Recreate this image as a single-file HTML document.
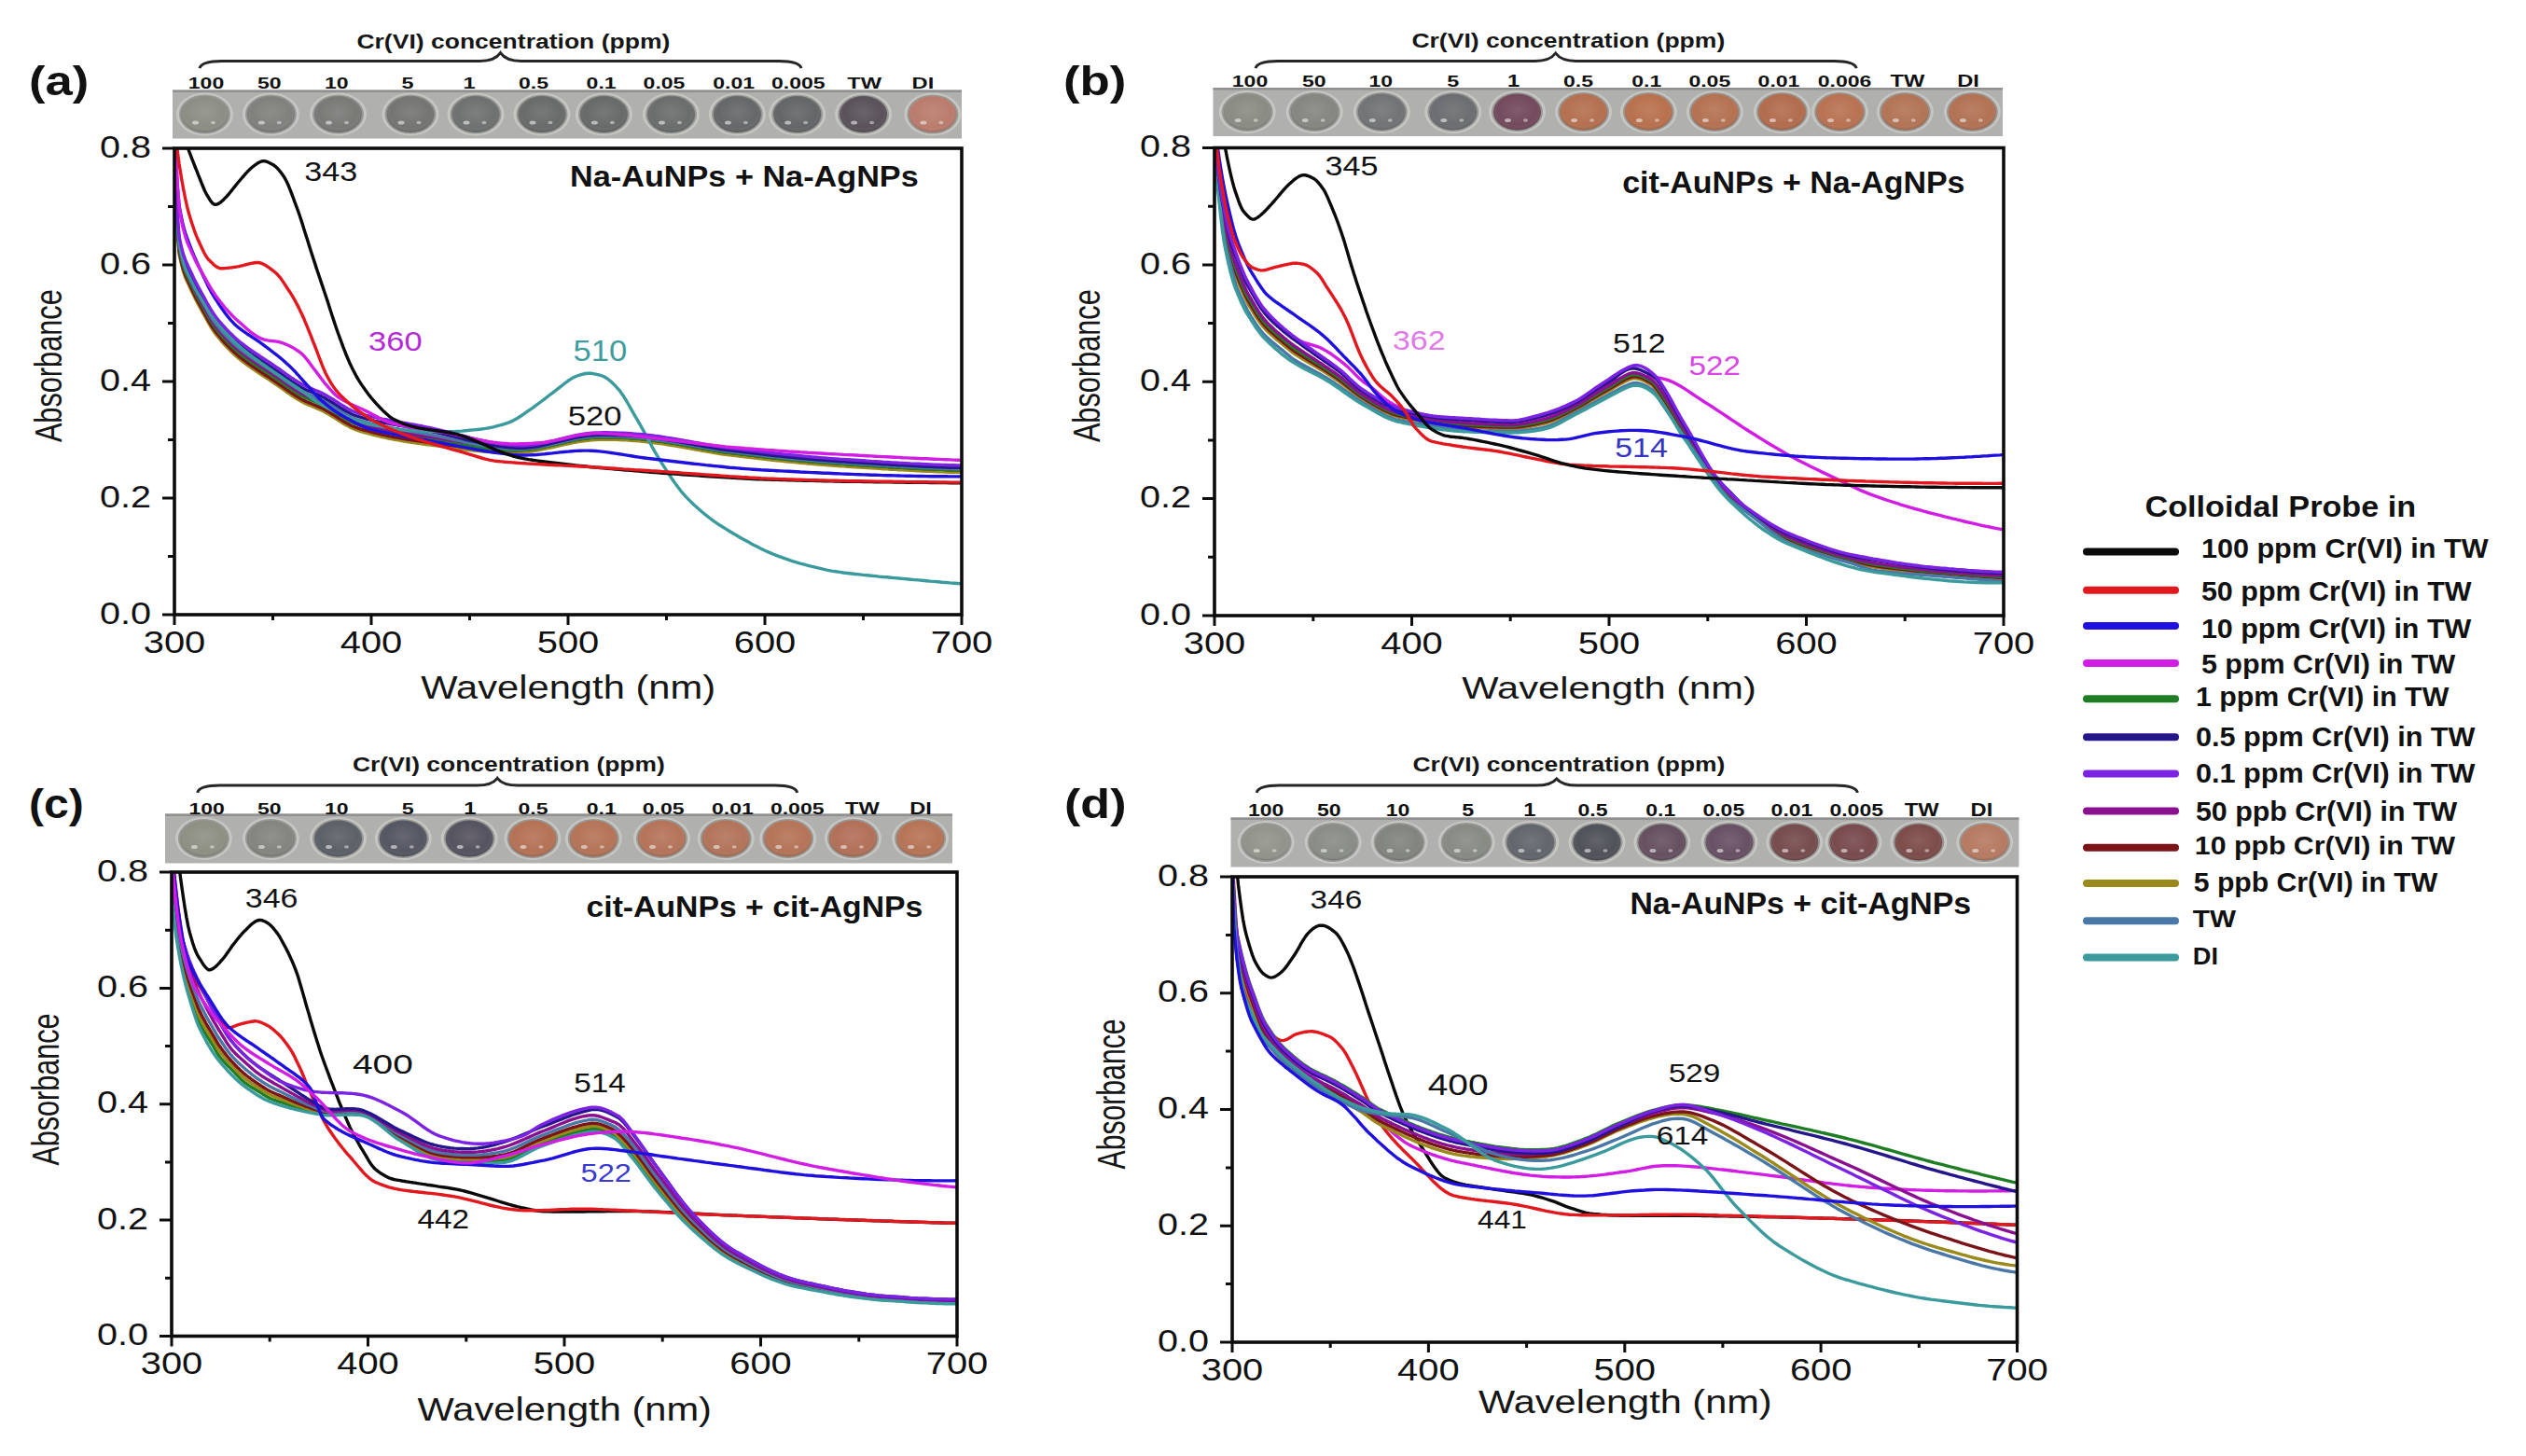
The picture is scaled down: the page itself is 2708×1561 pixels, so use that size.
<!DOCTYPE html>
<html><head><meta charset="utf-8"><title>Figure</title>
<style>
html,body{margin:0;padding:0;background:#fff;width:2708px;height:1561px;overflow:hidden}
svg{display:block}
text{font-family:"Liberation Sans",sans-serif}
</style></head><body>
<svg width="2708" height="1561" viewBox="0 0 2708 1561">
<rect width="2708" height="1561" fill="#fff"/>
<defs><radialGradient id="wg" cx="50%" cy="45%" r="55%"><stop offset="0" stop-color="#fff" stop-opacity="0.10"/><stop offset="0.75" stop-color="#fff" stop-opacity="0"/><stop offset="1" stop-color="#000" stop-opacity="0.18"/></radialGradient></defs>
<rect x="185" y="96.5" width="846.0" height="52.0" fill="#b0b0ae"/>
<rect x="185" y="96.5" width="846.0" height="2.5" fill="#909090"/>
<ellipse cx="219.5" cy="122.5" rx="30.5" ry="23" fill="#c6c6c3"/>
<ellipse cx="219.5" cy="122.5" rx="27.5" ry="21" fill="#989996"/>
<ellipse cx="219.5" cy="122.5" rx="25.5" ry="19.5" fill="#8c8d84"/>
<ellipse cx="219.5" cy="122.5" rx="25.5" ry="19.5" fill="url(#wg)"/>
<ellipse cx="209.5" cy="131.5" rx="3.5" ry="2" fill="#f0f0f0" opacity="0.6"/>
<ellipse cx="228.5" cy="131.5" rx="2.5" ry="1.8" fill="#f0f0f0" opacity="0.5"/>
<ellipse cx="290.4" cy="122.5" rx="30.5" ry="23" fill="#c6c6c3"/>
<ellipse cx="290.4" cy="122.5" rx="27.5" ry="21" fill="#989996"/>
<ellipse cx="290.4" cy="122.5" rx="25.5" ry="19.5" fill="#80817c"/>
<ellipse cx="290.4" cy="122.5" rx="25.5" ry="19.5" fill="url(#wg)"/>
<ellipse cx="280.4" cy="131.5" rx="3.5" ry="2" fill="#f0f0f0" opacity="0.6"/>
<ellipse cx="299.4" cy="131.5" rx="2.5" ry="1.8" fill="#f0f0f0" opacity="0.5"/>
<ellipse cx="362.5" cy="122.5" rx="30.5" ry="23" fill="#c6c6c3"/>
<ellipse cx="362.5" cy="122.5" rx="27.5" ry="21" fill="#989996"/>
<ellipse cx="362.5" cy="122.5" rx="25.5" ry="19.5" fill="#797a76"/>
<ellipse cx="362.5" cy="122.5" rx="25.5" ry="19.5" fill="url(#wg)"/>
<ellipse cx="352.5" cy="131.5" rx="3.5" ry="2" fill="#f0f0f0" opacity="0.6"/>
<ellipse cx="371.5" cy="131.5" rx="2.5" ry="1.8" fill="#f0f0f0" opacity="0.5"/>
<ellipse cx="440" cy="122.5" rx="30.5" ry="23" fill="#c6c6c3"/>
<ellipse cx="440" cy="122.5" rx="27.5" ry="21" fill="#989996"/>
<ellipse cx="440" cy="122.5" rx="25.5" ry="19.5" fill="#747573"/>
<ellipse cx="440" cy="122.5" rx="25.5" ry="19.5" fill="url(#wg)"/>
<ellipse cx="430" cy="131.5" rx="3.5" ry="2" fill="#f0f0f0" opacity="0.6"/>
<ellipse cx="449" cy="131.5" rx="2.5" ry="1.8" fill="#f0f0f0" opacity="0.5"/>
<ellipse cx="510" cy="122.5" rx="30.5" ry="23" fill="#c6c6c3"/>
<ellipse cx="510" cy="122.5" rx="27.5" ry="21" fill="#989996"/>
<ellipse cx="510" cy="122.5" rx="25.5" ry="19.5" fill="#6f7171"/>
<ellipse cx="510" cy="122.5" rx="25.5" ry="19.5" fill="url(#wg)"/>
<ellipse cx="500" cy="131.5" rx="3.5" ry="2" fill="#f0f0f0" opacity="0.6"/>
<ellipse cx="519" cy="131.5" rx="2.5" ry="1.8" fill="#f0f0f0" opacity="0.5"/>
<ellipse cx="581" cy="122.5" rx="30.5" ry="23" fill="#c6c6c3"/>
<ellipse cx="581" cy="122.5" rx="27.5" ry="21" fill="#989996"/>
<ellipse cx="581" cy="122.5" rx="25.5" ry="19.5" fill="#696b6b"/>
<ellipse cx="581" cy="122.5" rx="25.5" ry="19.5" fill="url(#wg)"/>
<ellipse cx="571" cy="131.5" rx="3.5" ry="2" fill="#f0f0f0" opacity="0.6"/>
<ellipse cx="590" cy="131.5" rx="2.5" ry="1.8" fill="#f0f0f0" opacity="0.5"/>
<ellipse cx="647.4" cy="122.5" rx="30.5" ry="23" fill="#c6c6c3"/>
<ellipse cx="647.4" cy="122.5" rx="27.5" ry="21" fill="#989996"/>
<ellipse cx="647.4" cy="122.5" rx="25.5" ry="19.5" fill="#686a6a"/>
<ellipse cx="647.4" cy="122.5" rx="25.5" ry="19.5" fill="url(#wg)"/>
<ellipse cx="637.4" cy="131.5" rx="3.5" ry="2" fill="#f0f0f0" opacity="0.6"/>
<ellipse cx="656.4" cy="131.5" rx="2.5" ry="1.8" fill="#f0f0f0" opacity="0.5"/>
<ellipse cx="719.5" cy="122.5" rx="30.5" ry="23" fill="#c6c6c3"/>
<ellipse cx="719.5" cy="122.5" rx="27.5" ry="21" fill="#989996"/>
<ellipse cx="719.5" cy="122.5" rx="25.5" ry="19.5" fill="#6b6d6d"/>
<ellipse cx="719.5" cy="122.5" rx="25.5" ry="19.5" fill="url(#wg)"/>
<ellipse cx="709.5" cy="131.5" rx="3.5" ry="2" fill="#f0f0f0" opacity="0.6"/>
<ellipse cx="728.5" cy="131.5" rx="2.5" ry="1.8" fill="#f0f0f0" opacity="0.5"/>
<ellipse cx="790.4" cy="122.5" rx="30.5" ry="23" fill="#c6c6c3"/>
<ellipse cx="790.4" cy="122.5" rx="27.5" ry="21" fill="#989996"/>
<ellipse cx="790.4" cy="122.5" rx="25.5" ry="19.5" fill="#656768"/>
<ellipse cx="790.4" cy="122.5" rx="25.5" ry="19.5" fill="url(#wg)"/>
<ellipse cx="780.4" cy="131.5" rx="3.5" ry="2" fill="#f0f0f0" opacity="0.6"/>
<ellipse cx="799.4" cy="131.5" rx="2.5" ry="1.8" fill="#f0f0f0" opacity="0.5"/>
<ellipse cx="854.7" cy="122.5" rx="30.5" ry="23" fill="#c6c6c3"/>
<ellipse cx="854.7" cy="122.5" rx="27.5" ry="21" fill="#989996"/>
<ellipse cx="854.7" cy="122.5" rx="25.5" ry="19.5" fill="#636567"/>
<ellipse cx="854.7" cy="122.5" rx="25.5" ry="19.5" fill="url(#wg)"/>
<ellipse cx="844.7" cy="131.5" rx="3.5" ry="2" fill="#f0f0f0" opacity="0.6"/>
<ellipse cx="863.7" cy="131.5" rx="2.5" ry="1.8" fill="#f0f0f0" opacity="0.5"/>
<ellipse cx="925.6" cy="122.5" rx="30.5" ry="23" fill="#c6c6c3"/>
<ellipse cx="925.6" cy="122.5" rx="27.5" ry="21" fill="#989996"/>
<ellipse cx="925.6" cy="122.5" rx="25.5" ry="19.5" fill="#5a525a"/>
<ellipse cx="925.6" cy="122.5" rx="25.5" ry="19.5" fill="url(#wg)"/>
<ellipse cx="915.6" cy="131.5" rx="3.5" ry="2" fill="#f0f0f0" opacity="0.6"/>
<ellipse cx="934.6" cy="131.5" rx="2.5" ry="1.8" fill="#f0f0f0" opacity="0.5"/>
<ellipse cx="999.9" cy="122.5" rx="30.5" ry="23" fill="#c6c6c3"/>
<ellipse cx="999.9" cy="122.5" rx="27.5" ry="21" fill="#989996"/>
<ellipse cx="999.9" cy="122.5" rx="25.5" ry="19.5" fill="#ba7c6c"/>
<ellipse cx="999.9" cy="122.5" rx="25.5" ry="19.5" fill="url(#wg)"/>
<ellipse cx="989.9" cy="131.5" rx="3.5" ry="2" fill="#f0f0f0" opacity="0.6"/>
<ellipse cx="1008.9" cy="131.5" rx="2.5" ry="1.8" fill="#f0f0f0" opacity="0.5"/>
<rect x="1300.5" y="94" width="846.5" height="52.0" fill="#b0b0ae"/>
<rect x="1300.5" y="94" width="846.5" height="2.5" fill="#909090"/>
<ellipse cx="1337.2" cy="120.0" rx="30.5" ry="23" fill="#c6c6c3"/>
<ellipse cx="1337.2" cy="120.0" rx="27.5" ry="21" fill="#989996"/>
<ellipse cx="1337.2" cy="120.0" rx="25.5" ry="19.5" fill="#8a8c84"/>
<ellipse cx="1337.2" cy="120.0" rx="25.5" ry="19.5" fill="url(#wg)"/>
<ellipse cx="1327.2" cy="129.0" rx="3.5" ry="2" fill="#f0f0f0" opacity="0.6"/>
<ellipse cx="1346.2" cy="129.0" rx="2.5" ry="1.8" fill="#f0f0f0" opacity="0.5"/>
<ellipse cx="1409.2" cy="120.0" rx="30.5" ry="23" fill="#c6c6c3"/>
<ellipse cx="1409.2" cy="120.0" rx="27.5" ry="21" fill="#989996"/>
<ellipse cx="1409.2" cy="120.0" rx="25.5" ry="19.5" fill="#84867f"/>
<ellipse cx="1409.2" cy="120.0" rx="25.5" ry="19.5" fill="url(#wg)"/>
<ellipse cx="1399.2" cy="129.0" rx="3.5" ry="2" fill="#f0f0f0" opacity="0.6"/>
<ellipse cx="1418.2" cy="129.0" rx="2.5" ry="1.8" fill="#f0f0f0" opacity="0.5"/>
<ellipse cx="1481.3" cy="120.0" rx="30.5" ry="23" fill="#c6c6c3"/>
<ellipse cx="1481.3" cy="120.0" rx="27.5" ry="21" fill="#989996"/>
<ellipse cx="1481.3" cy="120.0" rx="25.5" ry="19.5" fill="#717374"/>
<ellipse cx="1481.3" cy="120.0" rx="25.5" ry="19.5" fill="url(#wg)"/>
<ellipse cx="1471.3" cy="129.0" rx="3.5" ry="2" fill="#f0f0f0" opacity="0.6"/>
<ellipse cx="1490.3" cy="129.0" rx="2.5" ry="1.8" fill="#f0f0f0" opacity="0.5"/>
<ellipse cx="1557.8" cy="120.0" rx="30.5" ry="23" fill="#c6c6c3"/>
<ellipse cx="1557.8" cy="120.0" rx="27.5" ry="21" fill="#989996"/>
<ellipse cx="1557.8" cy="120.0" rx="25.5" ry="19.5" fill="#6b6d70"/>
<ellipse cx="1557.8" cy="120.0" rx="25.5" ry="19.5" fill="url(#wg)"/>
<ellipse cx="1547.8" cy="129.0" rx="3.5" ry="2" fill="#f0f0f0" opacity="0.6"/>
<ellipse cx="1566.8" cy="129.0" rx="2.5" ry="1.8" fill="#f0f0f0" opacity="0.5"/>
<ellipse cx="1626.5" cy="120.0" rx="30.5" ry="23" fill="#c6c6c3"/>
<ellipse cx="1626.5" cy="120.0" rx="27.5" ry="21" fill="#989996"/>
<ellipse cx="1626.5" cy="120.0" rx="25.5" ry="19.5" fill="#724a5c"/>
<ellipse cx="1626.5" cy="120.0" rx="25.5" ry="19.5" fill="url(#wg)"/>
<ellipse cx="1616.5" cy="129.0" rx="3.5" ry="2" fill="#f0f0f0" opacity="0.6"/>
<ellipse cx="1635.5" cy="129.0" rx="2.5" ry="1.8" fill="#f0f0f0" opacity="0.5"/>
<ellipse cx="1697.6" cy="120.0" rx="30.5" ry="23" fill="#c6c6c3"/>
<ellipse cx="1697.6" cy="120.0" rx="27.5" ry="21" fill="#989996"/>
<ellipse cx="1697.6" cy="120.0" rx="25.5" ry="19.5" fill="#b47050"/>
<ellipse cx="1697.6" cy="120.0" rx="25.5" ry="19.5" fill="url(#wg)"/>
<ellipse cx="1687.6" cy="129.0" rx="3.5" ry="2" fill="#f0f0f0" opacity="0.6"/>
<ellipse cx="1706.6" cy="129.0" rx="2.5" ry="1.8" fill="#f0f0f0" opacity="0.5"/>
<ellipse cx="1767.4" cy="120.0" rx="30.5" ry="23" fill="#c6c6c3"/>
<ellipse cx="1767.4" cy="120.0" rx="27.5" ry="21" fill="#989996"/>
<ellipse cx="1767.4" cy="120.0" rx="25.5" ry="19.5" fill="#b8714e"/>
<ellipse cx="1767.4" cy="120.0" rx="25.5" ry="19.5" fill="url(#wg)"/>
<ellipse cx="1757.4" cy="129.0" rx="3.5" ry="2" fill="#f0f0f0" opacity="0.6"/>
<ellipse cx="1776.4" cy="129.0" rx="2.5" ry="1.8" fill="#f0f0f0" opacity="0.5"/>
<ellipse cx="1838.4" cy="120.0" rx="30.5" ry="23" fill="#c6c6c3"/>
<ellipse cx="1838.4" cy="120.0" rx="27.5" ry="21" fill="#989996"/>
<ellipse cx="1838.4" cy="120.0" rx="25.5" ry="19.5" fill="#b47252"/>
<ellipse cx="1838.4" cy="120.0" rx="25.5" ry="19.5" fill="url(#wg)"/>
<ellipse cx="1828.4" cy="129.0" rx="3.5" ry="2" fill="#f0f0f0" opacity="0.6"/>
<ellipse cx="1847.4" cy="129.0" rx="2.5" ry="1.8" fill="#f0f0f0" opacity="0.5"/>
<ellipse cx="1910.4" cy="120.0" rx="30.5" ry="23" fill="#c6c6c3"/>
<ellipse cx="1910.4" cy="120.0" rx="27.5" ry="21" fill="#989996"/>
<ellipse cx="1910.4" cy="120.0" rx="25.5" ry="19.5" fill="#b26c4e"/>
<ellipse cx="1910.4" cy="120.0" rx="25.5" ry="19.5" fill="url(#wg)"/>
<ellipse cx="1900.4" cy="129.0" rx="3.5" ry="2" fill="#f0f0f0" opacity="0.6"/>
<ellipse cx="1919.4" cy="129.0" rx="2.5" ry="1.8" fill="#f0f0f0" opacity="0.5"/>
<ellipse cx="1972.5" cy="120.0" rx="30.5" ry="23" fill="#c6c6c3"/>
<ellipse cx="1972.5" cy="120.0" rx="27.5" ry="21" fill="#989996"/>
<ellipse cx="1972.5" cy="120.0" rx="25.5" ry="19.5" fill="#b87252"/>
<ellipse cx="1972.5" cy="120.0" rx="25.5" ry="19.5" fill="url(#wg)"/>
<ellipse cx="1962.5" cy="129.0" rx="3.5" ry="2" fill="#f0f0f0" opacity="0.6"/>
<ellipse cx="1981.5" cy="129.0" rx="2.5" ry="1.8" fill="#f0f0f0" opacity="0.5"/>
<ellipse cx="2042.3" cy="120.0" rx="30.5" ry="23" fill="#c6c6c3"/>
<ellipse cx="2042.3" cy="120.0" rx="27.5" ry="21" fill="#989996"/>
<ellipse cx="2042.3" cy="120.0" rx="25.5" ry="19.5" fill="#b27456"/>
<ellipse cx="2042.3" cy="120.0" rx="25.5" ry="19.5" fill="url(#wg)"/>
<ellipse cx="2032.3" cy="129.0" rx="3.5" ry="2" fill="#f0f0f0" opacity="0.6"/>
<ellipse cx="2051.3" cy="129.0" rx="2.5" ry="1.8" fill="#f0f0f0" opacity="0.5"/>
<ellipse cx="2114.4" cy="120.0" rx="30.5" ry="23" fill="#c6c6c3"/>
<ellipse cx="2114.4" cy="120.0" rx="27.5" ry="21" fill="#989996"/>
<ellipse cx="2114.4" cy="120.0" rx="25.5" ry="19.5" fill="#b27254"/>
<ellipse cx="2114.4" cy="120.0" rx="25.5" ry="19.5" fill="url(#wg)"/>
<ellipse cx="2104.4" cy="129.0" rx="3.5" ry="2" fill="#f0f0f0" opacity="0.6"/>
<ellipse cx="2123.4" cy="129.0" rx="2.5" ry="1.8" fill="#f0f0f0" opacity="0.5"/>
<rect x="177" y="872.5" width="844.0" height="53.0" fill="#b0b0ae"/>
<rect x="177" y="872.5" width="844.0" height="2.5" fill="#909090"/>
<ellipse cx="218.4" cy="899.0" rx="30.5" ry="23" fill="#c6c6c3"/>
<ellipse cx="218.4" cy="899.0" rx="27.5" ry="21" fill="#989996"/>
<ellipse cx="218.4" cy="899.0" rx="25.5" ry="19.5" fill="#8e9084"/>
<ellipse cx="218.4" cy="899.0" rx="25.5" ry="19.5" fill="url(#wg)"/>
<ellipse cx="208.4" cy="908.0" rx="3.5" ry="2" fill="#f0f0f0" opacity="0.6"/>
<ellipse cx="227.4" cy="908.0" rx="2.5" ry="1.8" fill="#f0f0f0" opacity="0.5"/>
<ellipse cx="290.4" cy="899.0" rx="30.5" ry="23" fill="#c6c6c3"/>
<ellipse cx="290.4" cy="899.0" rx="27.5" ry="21" fill="#989996"/>
<ellipse cx="290.4" cy="899.0" rx="25.5" ry="19.5" fill="#84857e"/>
<ellipse cx="290.4" cy="899.0" rx="25.5" ry="19.5" fill="url(#wg)"/>
<ellipse cx="280.4" cy="908.0" rx="3.5" ry="2" fill="#f0f0f0" opacity="0.6"/>
<ellipse cx="299.4" cy="908.0" rx="2.5" ry="1.8" fill="#f0f0f0" opacity="0.5"/>
<ellipse cx="362.5" cy="899.0" rx="30.5" ry="23" fill="#c6c6c3"/>
<ellipse cx="362.5" cy="899.0" rx="27.5" ry="21" fill="#989996"/>
<ellipse cx="362.5" cy="899.0" rx="25.5" ry="19.5" fill="#5c6067"/>
<ellipse cx="362.5" cy="899.0" rx="25.5" ry="19.5" fill="url(#wg)"/>
<ellipse cx="352.5" cy="908.0" rx="3.5" ry="2" fill="#f0f0f0" opacity="0.6"/>
<ellipse cx="371.5" cy="908.0" rx="2.5" ry="1.8" fill="#f0f0f0" opacity="0.5"/>
<ellipse cx="432.3" cy="899.0" rx="30.5" ry="23" fill="#c6c6c3"/>
<ellipse cx="432.3" cy="899.0" rx="27.5" ry="21" fill="#989996"/>
<ellipse cx="432.3" cy="899.0" rx="25.5" ry="19.5" fill="#545662"/>
<ellipse cx="432.3" cy="899.0" rx="25.5" ry="19.5" fill="url(#wg)"/>
<ellipse cx="422.3" cy="908.0" rx="3.5" ry="2" fill="#f0f0f0" opacity="0.6"/>
<ellipse cx="441.3" cy="908.0" rx="2.5" ry="1.8" fill="#f0f0f0" opacity="0.5"/>
<ellipse cx="503.2" cy="899.0" rx="30.5" ry="23" fill="#c6c6c3"/>
<ellipse cx="503.2" cy="899.0" rx="27.5" ry="21" fill="#989996"/>
<ellipse cx="503.2" cy="899.0" rx="25.5" ry="19.5" fill="#565360"/>
<ellipse cx="503.2" cy="899.0" rx="25.5" ry="19.5" fill="url(#wg)"/>
<ellipse cx="493.2" cy="908.0" rx="3.5" ry="2" fill="#f0f0f0" opacity="0.6"/>
<ellipse cx="512.2" cy="908.0" rx="2.5" ry="1.8" fill="#f0f0f0" opacity="0.5"/>
<ellipse cx="571" cy="899.0" rx="30.5" ry="23" fill="#c6c6c3"/>
<ellipse cx="571" cy="899.0" rx="27.5" ry="21" fill="#989996"/>
<ellipse cx="571" cy="899.0" rx="25.5" ry="19.5" fill="#b47256"/>
<ellipse cx="571" cy="899.0" rx="25.5" ry="19.5" fill="url(#wg)"/>
<ellipse cx="561" cy="908.0" rx="3.5" ry="2" fill="#f0f0f0" opacity="0.6"/>
<ellipse cx="580" cy="908.0" rx="2.5" ry="1.8" fill="#f0f0f0" opacity="0.5"/>
<ellipse cx="636.3" cy="899.0" rx="30.5" ry="23" fill="#c6c6c3"/>
<ellipse cx="636.3" cy="899.0" rx="27.5" ry="21" fill="#989996"/>
<ellipse cx="636.3" cy="899.0" rx="25.5" ry="19.5" fill="#b47458"/>
<ellipse cx="636.3" cy="899.0" rx="25.5" ry="19.5" fill="url(#wg)"/>
<ellipse cx="626.3" cy="908.0" rx="3.5" ry="2" fill="#f0f0f0" opacity="0.6"/>
<ellipse cx="645.3" cy="908.0" rx="2.5" ry="1.8" fill="#f0f0f0" opacity="0.5"/>
<ellipse cx="709.5" cy="899.0" rx="30.5" ry="23" fill="#c6c6c3"/>
<ellipse cx="709.5" cy="899.0" rx="27.5" ry="21" fill="#989996"/>
<ellipse cx="709.5" cy="899.0" rx="25.5" ry="19.5" fill="#b4745a"/>
<ellipse cx="709.5" cy="899.0" rx="25.5" ry="19.5" fill="url(#wg)"/>
<ellipse cx="699.5" cy="908.0" rx="3.5" ry="2" fill="#f0f0f0" opacity="0.6"/>
<ellipse cx="718.5" cy="908.0" rx="2.5" ry="1.8" fill="#f0f0f0" opacity="0.5"/>
<ellipse cx="778.2" cy="899.0" rx="30.5" ry="23" fill="#c6c6c3"/>
<ellipse cx="778.2" cy="899.0" rx="27.5" ry="21" fill="#989996"/>
<ellipse cx="778.2" cy="899.0" rx="25.5" ry="19.5" fill="#b2745a"/>
<ellipse cx="778.2" cy="899.0" rx="25.5" ry="19.5" fill="url(#wg)"/>
<ellipse cx="768.2" cy="908.0" rx="3.5" ry="2" fill="#f0f0f0" opacity="0.6"/>
<ellipse cx="787.2" cy="908.0" rx="2.5" ry="1.8" fill="#f0f0f0" opacity="0.5"/>
<ellipse cx="844.7" cy="899.0" rx="30.5" ry="23" fill="#c6c6c3"/>
<ellipse cx="844.7" cy="899.0" rx="27.5" ry="21" fill="#989996"/>
<ellipse cx="844.7" cy="899.0" rx="25.5" ry="19.5" fill="#b47458"/>
<ellipse cx="844.7" cy="899.0" rx="25.5" ry="19.5" fill="url(#wg)"/>
<ellipse cx="834.7" cy="908.0" rx="3.5" ry="2" fill="#f0f0f0" opacity="0.6"/>
<ellipse cx="853.7" cy="908.0" rx="2.5" ry="1.8" fill="#f0f0f0" opacity="0.5"/>
<ellipse cx="914.5" cy="899.0" rx="30.5" ry="23" fill="#c6c6c3"/>
<ellipse cx="914.5" cy="899.0" rx="27.5" ry="21" fill="#989996"/>
<ellipse cx="914.5" cy="899.0" rx="25.5" ry="19.5" fill="#b27058"/>
<ellipse cx="914.5" cy="899.0" rx="25.5" ry="19.5" fill="url(#wg)"/>
<ellipse cx="904.5" cy="908.0" rx="3.5" ry="2" fill="#f0f0f0" opacity="0.6"/>
<ellipse cx="923.5" cy="908.0" rx="2.5" ry="1.8" fill="#f0f0f0" opacity="0.5"/>
<ellipse cx="986.6" cy="899.0" rx="30.5" ry="23" fill="#c6c6c3"/>
<ellipse cx="986.6" cy="899.0" rx="27.5" ry="21" fill="#989996"/>
<ellipse cx="986.6" cy="899.0" rx="25.5" ry="19.5" fill="#b67456"/>
<ellipse cx="986.6" cy="899.0" rx="25.5" ry="19.5" fill="url(#wg)"/>
<ellipse cx="976.6" cy="908.0" rx="3.5" ry="2" fill="#f0f0f0" opacity="0.6"/>
<ellipse cx="995.6" cy="908.0" rx="2.5" ry="1.8" fill="#f0f0f0" opacity="0.5"/>
<rect x="1319.5" y="876.5" width="844.9" height="53.1" fill="#b0b0ae"/>
<rect x="1319.5" y="876.5" width="844.9" height="2.5" fill="#909090"/>
<ellipse cx="1357.2" cy="903.0" rx="30.5" ry="23" fill="#c6c6c3"/>
<ellipse cx="1357.2" cy="903.0" rx="27.5" ry="21" fill="#989996"/>
<ellipse cx="1357.2" cy="903.0" rx="25.5" ry="19.5" fill="#92948c"/>
<ellipse cx="1357.2" cy="903.0" rx="25.5" ry="19.5" fill="url(#wg)"/>
<ellipse cx="1347.2" cy="912.0" rx="3.5" ry="2" fill="#f0f0f0" opacity="0.6"/>
<ellipse cx="1366.2" cy="912.0" rx="2.5" ry="1.8" fill="#f0f0f0" opacity="0.5"/>
<ellipse cx="1429.2" cy="903.0" rx="30.5" ry="23" fill="#c6c6c3"/>
<ellipse cx="1429.2" cy="903.0" rx="27.5" ry="21" fill="#989996"/>
<ellipse cx="1429.2" cy="903.0" rx="25.5" ry="19.5" fill="#8a8c86"/>
<ellipse cx="1429.2" cy="903.0" rx="25.5" ry="19.5" fill="url(#wg)"/>
<ellipse cx="1419.2" cy="912.0" rx="3.5" ry="2" fill="#f0f0f0" opacity="0.6"/>
<ellipse cx="1438.2" cy="912.0" rx="2.5" ry="1.8" fill="#f0f0f0" opacity="0.5"/>
<ellipse cx="1500.1" cy="903.0" rx="30.5" ry="23" fill="#c6c6c3"/>
<ellipse cx="1500.1" cy="903.0" rx="27.5" ry="21" fill="#989996"/>
<ellipse cx="1500.1" cy="903.0" rx="25.5" ry="19.5" fill="#82847e"/>
<ellipse cx="1500.1" cy="903.0" rx="25.5" ry="19.5" fill="url(#wg)"/>
<ellipse cx="1490.1" cy="912.0" rx="3.5" ry="2" fill="#f0f0f0" opacity="0.6"/>
<ellipse cx="1509.1" cy="912.0" rx="2.5" ry="1.8" fill="#f0f0f0" opacity="0.5"/>
<ellipse cx="1572.2" cy="903.0" rx="30.5" ry="23" fill="#c6c6c3"/>
<ellipse cx="1572.2" cy="903.0" rx="27.5" ry="21" fill="#989996"/>
<ellipse cx="1572.2" cy="903.0" rx="25.5" ry="19.5" fill="#888b84"/>
<ellipse cx="1572.2" cy="903.0" rx="25.5" ry="19.5" fill="url(#wg)"/>
<ellipse cx="1562.2" cy="912.0" rx="3.5" ry="2" fill="#f0f0f0" opacity="0.6"/>
<ellipse cx="1581.2" cy="912.0" rx="2.5" ry="1.8" fill="#f0f0f0" opacity="0.5"/>
<ellipse cx="1640.9" cy="903.0" rx="30.5" ry="23" fill="#c6c6c3"/>
<ellipse cx="1640.9" cy="903.0" rx="27.5" ry="21" fill="#989996"/>
<ellipse cx="1640.9" cy="903.0" rx="25.5" ry="19.5" fill="#62666c"/>
<ellipse cx="1640.9" cy="903.0" rx="25.5" ry="19.5" fill="url(#wg)"/>
<ellipse cx="1630.9" cy="912.0" rx="3.5" ry="2" fill="#f0f0f0" opacity="0.6"/>
<ellipse cx="1649.9" cy="912.0" rx="2.5" ry="1.8" fill="#f0f0f0" opacity="0.5"/>
<ellipse cx="1712" cy="903.0" rx="30.5" ry="23" fill="#c6c6c3"/>
<ellipse cx="1712" cy="903.0" rx="27.5" ry="21" fill="#989996"/>
<ellipse cx="1712" cy="903.0" rx="25.5" ry="19.5" fill="#50525a"/>
<ellipse cx="1712" cy="903.0" rx="25.5" ry="19.5" fill="url(#wg)"/>
<ellipse cx="1702" cy="912.0" rx="3.5" ry="2" fill="#f0f0f0" opacity="0.6"/>
<ellipse cx="1721" cy="912.0" rx="2.5" ry="1.8" fill="#f0f0f0" opacity="0.5"/>
<ellipse cx="1781.9" cy="903.0" rx="30.5" ry="23" fill="#c6c6c3"/>
<ellipse cx="1781.9" cy="903.0" rx="27.5" ry="21" fill="#989996"/>
<ellipse cx="1781.9" cy="903.0" rx="25.5" ry="19.5" fill="#665060"/>
<ellipse cx="1781.9" cy="903.0" rx="25.5" ry="19.5" fill="url(#wg)"/>
<ellipse cx="1771.9" cy="912.0" rx="3.5" ry="2" fill="#f0f0f0" opacity="0.6"/>
<ellipse cx="1790.9" cy="912.0" rx="2.5" ry="1.8" fill="#f0f0f0" opacity="0.5"/>
<ellipse cx="1854" cy="903.0" rx="30.5" ry="23" fill="#c6c6c3"/>
<ellipse cx="1854" cy="903.0" rx="27.5" ry="21" fill="#989996"/>
<ellipse cx="1854" cy="903.0" rx="25.5" ry="19.5" fill="#685064"/>
<ellipse cx="1854" cy="903.0" rx="25.5" ry="19.5" fill="url(#wg)"/>
<ellipse cx="1844" cy="912.0" rx="3.5" ry="2" fill="#f0f0f0" opacity="0.6"/>
<ellipse cx="1863" cy="912.0" rx="2.5" ry="1.8" fill="#f0f0f0" opacity="0.5"/>
<ellipse cx="1923.8" cy="903.0" rx="30.5" ry="23" fill="#c6c6c3"/>
<ellipse cx="1923.8" cy="903.0" rx="27.5" ry="21" fill="#989996"/>
<ellipse cx="1923.8" cy="903.0" rx="25.5" ry="19.5" fill="#764c4e"/>
<ellipse cx="1923.8" cy="903.0" rx="25.5" ry="19.5" fill="url(#wg)"/>
<ellipse cx="1913.8" cy="912.0" rx="3.5" ry="2" fill="#f0f0f0" opacity="0.6"/>
<ellipse cx="1932.8" cy="912.0" rx="2.5" ry="1.8" fill="#f0f0f0" opacity="0.5"/>
<ellipse cx="1987" cy="903.0" rx="30.5" ry="23" fill="#c6c6c3"/>
<ellipse cx="1987" cy="903.0" rx="27.5" ry="21" fill="#989996"/>
<ellipse cx="1987" cy="903.0" rx="25.5" ry="19.5" fill="#784a4e"/>
<ellipse cx="1987" cy="903.0" rx="25.5" ry="19.5" fill="url(#wg)"/>
<ellipse cx="1977" cy="912.0" rx="3.5" ry="2" fill="#f0f0f0" opacity="0.6"/>
<ellipse cx="1996" cy="912.0" rx="2.5" ry="1.8" fill="#f0f0f0" opacity="0.5"/>
<ellipse cx="2056.8" cy="903.0" rx="30.5" ry="23" fill="#c6c6c3"/>
<ellipse cx="2056.8" cy="903.0" rx="27.5" ry="21" fill="#989996"/>
<ellipse cx="2056.8" cy="903.0" rx="25.5" ry="19.5" fill="#7c4c4a"/>
<ellipse cx="2056.8" cy="903.0" rx="25.5" ry="19.5" fill="url(#wg)"/>
<ellipse cx="2046.8000000000002" cy="912.0" rx="3.5" ry="2" fill="#f0f0f0" opacity="0.6"/>
<ellipse cx="2065.8" cy="912.0" rx="2.5" ry="1.8" fill="#f0f0f0" opacity="0.5"/>
<ellipse cx="2127.7" cy="903.0" rx="30.5" ry="23" fill="#c6c6c3"/>
<ellipse cx="2127.7" cy="903.0" rx="27.5" ry="21" fill="#989996"/>
<ellipse cx="2127.7" cy="903.0" rx="25.5" ry="19.5" fill="#b67a62"/>
<ellipse cx="2127.7" cy="903.0" rx="25.5" ry="19.5" fill="url(#wg)"/>
<ellipse cx="2117.7" cy="912.0" rx="3.5" ry="2" fill="#f0f0f0" opacity="0.6"/>
<ellipse cx="2136.7" cy="912.0" rx="2.5" ry="1.8" fill="#f0f0f0" opacity="0.5"/>
<text transform="translate(201.80,95.24) scale(1.4684,1)" font-size="15.68" font-weight="bold" fill="#111">100</text>
<text transform="translate(276.00,95.24) scale(1.4684,1)" font-size="15.68" font-weight="bold" fill="#111">50</text>
<text transform="translate(348.00,95.24) scale(1.4684,1)" font-size="15.68" font-weight="bold" fill="#111">10</text>
<text transform="translate(430.51,95.24) scale(1.4684,1)" font-size="15.90" font-weight="bold" fill="#111">5</text>
<text transform="translate(496.41,95.40) scale(1.4684,1)" font-size="16.13" font-weight="bold" fill="#111">1</text>
<text transform="translate(556.00,95.24) scale(1.4684,1)" font-size="15.68" font-weight="bold" fill="#111">0.5</text>
<text transform="translate(628.60,95.24) scale(1.4684,1)" font-size="15.68" font-weight="bold" fill="#111">0.1</text>
<text transform="translate(689.60,95.24) scale(1.4684,1)" font-size="15.68" font-weight="bold" fill="#111">0.05</text>
<text transform="translate(764.20,95.24) scale(1.4684,1)" font-size="15.68" font-weight="bold" fill="#111">0.01</text>
<text transform="translate(827.00,95.24) scale(1.4684,1)" font-size="15.68" font-weight="bold" fill="#111">0.005</text>
<text transform="translate(908.28,95.40) scale(1.4684,1)" font-size="16.13" font-weight="bold" fill="#111">TW</text>
<text transform="translate(977.55,95.40) scale(1.4684,1)" font-size="16.13" font-weight="bold" fill="#111">DI</text>
<text transform="translate(1320.80,92.83) scale(1.3583,1)" font-size="16.95" font-weight="bold" fill="#111">100</text>
<text transform="translate(1395.90,92.83) scale(1.3583,1)" font-size="16.95" font-weight="bold" fill="#111">50</text>
<text transform="translate(1467.40,92.83) scale(1.3583,1)" font-size="16.95" font-weight="bold" fill="#111">10</text>
<text transform="translate(1551.31,92.83) scale(1.3583,1)" font-size="17.19" font-weight="bold" fill="#111">5</text>
<text transform="translate(1616.01,93.00) scale(1.3583,1)" font-size="17.44" font-weight="bold" fill="#111">1</text>
<text transform="translate(1676.00,92.83) scale(1.3583,1)" font-size="16.95" font-weight="bold" fill="#111">0.5</text>
<text transform="translate(1749.20,92.83) scale(1.3583,1)" font-size="16.95" font-weight="bold" fill="#111">0.1</text>
<text transform="translate(1810.40,92.83) scale(1.3583,1)" font-size="16.95" font-weight="bold" fill="#111">0.05</text>
<text transform="translate(1884.60,92.83) scale(1.3583,1)" font-size="16.95" font-weight="bold" fill="#111">0.01</text>
<text transform="translate(1948.70,92.83) scale(1.3583,1)" font-size="16.95" font-weight="bold" fill="#111">0.006</text>
<text transform="translate(2026.58,93.00) scale(1.3583,1)" font-size="17.44" font-weight="bold" fill="#111">TW</text>
<text transform="translate(2098.15,93.00) scale(1.3583,1)" font-size="17.44" font-weight="bold" fill="#111">DI</text>
<text transform="translate(202.50,872.83) scale(1.3583,1)" font-size="16.95" font-weight="bold" fill="#111">100</text>
<text transform="translate(276.00,872.83) scale(1.3583,1)" font-size="16.95" font-weight="bold" fill="#111">50</text>
<text transform="translate(348.00,872.83) scale(1.3583,1)" font-size="16.95" font-weight="bold" fill="#111">10</text>
<text transform="translate(430.81,872.83) scale(1.3583,1)" font-size="17.19" font-weight="bold" fill="#111">5</text>
<text transform="translate(497.21,873.00) scale(1.3583,1)" font-size="17.44" font-weight="bold" fill="#111">1</text>
<text transform="translate(555.50,872.83) scale(1.3583,1)" font-size="16.95" font-weight="bold" fill="#111">0.5</text>
<text transform="translate(628.70,872.83) scale(1.3583,1)" font-size="16.95" font-weight="bold" fill="#111">0.1</text>
<text transform="translate(688.70,872.83) scale(1.3583,1)" font-size="16.95" font-weight="bold" fill="#111">0.05</text>
<text transform="translate(763.00,872.83) scale(1.3583,1)" font-size="16.95" font-weight="bold" fill="#111">0.01</text>
<text transform="translate(825.90,872.83) scale(1.3583,1)" font-size="16.95" font-weight="bold" fill="#111">0.005</text>
<text transform="translate(906.08,873.00) scale(1.3583,1)" font-size="17.44" font-weight="bold" fill="#111">TW</text>
<text transform="translate(975.25,873.00) scale(1.3583,1)" font-size="17.44" font-weight="bold" fill="#111">DI</text>
<text transform="translate(1338.00,875.11) scale(1.2255,1)" font-size="18.79" font-weight="bold" fill="#111">100</text>
<text transform="translate(1412.00,875.11) scale(1.2255,1)" font-size="18.79" font-weight="bold" fill="#111">50</text>
<text transform="translate(1485.70,875.11) scale(1.2255,1)" font-size="18.79" font-weight="bold" fill="#111">10</text>
<text transform="translate(1567.31,875.11) scale(1.2255,1)" font-size="19.05" font-weight="bold" fill="#111">5</text>
<text transform="translate(1633.21,875.30) scale(1.2255,1)" font-size="19.33" font-weight="bold" fill="#111">1</text>
<text transform="translate(1691.50,875.11) scale(1.2255,1)" font-size="18.79" font-weight="bold" fill="#111">0.5</text>
<text transform="translate(1764.20,875.11) scale(1.2255,1)" font-size="18.79" font-weight="bold" fill="#111">0.1</text>
<text transform="translate(1825.40,875.11) scale(1.2255,1)" font-size="18.79" font-weight="bold" fill="#111">0.05</text>
<text transform="translate(1898.60,875.11) scale(1.2255,1)" font-size="18.79" font-weight="bold" fill="#111">0.01</text>
<text transform="translate(1961.40,875.11) scale(1.2255,1)" font-size="18.79" font-weight="bold" fill="#111">0.005</text>
<text transform="translate(2041.68,875.30) scale(1.2255,1)" font-size="19.33" font-weight="bold" fill="#111">TW</text>
<text transform="translate(2112.55,875.30) scale(1.2255,1)" font-size="19.33" font-weight="bold" fill="#111">DI</text>
<text transform="translate(382.40,51.82) scale(1.1785,1)" font-size="22.51" font-weight="bold" fill="#161616">Cr(VI) concentration (ppm)</text>
<text transform="translate(1513.40,51.43) scale(1.2072,1)" font-size="21.97" font-weight="bold" fill="#161616">Cr(VI) concentration (ppm)</text>
<text transform="translate(378.00,827.32) scale(1.1743,1)" font-size="22.51" font-weight="bold" fill="#161616">Cr(VI) concentration (ppm)</text>
<text transform="translate(1514.50,827.32) scale(1.1750,1)" font-size="22.51" font-weight="bold" fill="#161616">Cr(VI) concentration (ppm)</text>
<path d="M214,73.2 Q216,65.4 238,65.4 L514.5,65.4 Q530.5,65.4 536.5,56.6 Q542.5,65.4 558.5,65.4 L835,65.4 Q857,65.4 859,73.2" fill="none" stroke="#262626" stroke-width="3"/>
<path d="M1346,73.2 Q1348,65.4 1370,65.4 L1645.7,65.4 Q1661.7,65.4 1667.7,57.0 Q1673.7,65.4 1689.7,65.4 L1966.2,65.4 Q1988.2,65.4 1990.2,73.2" fill="none" stroke="#262626" stroke-width="3"/>
<path d="M211.7,849.9 Q213.7,842.1 235.7,842.1 L511.20000000000005,842.1 Q527.2,842.1 533.2,834.3 Q539.2,842.1 555.2,842.1 L830.7,842.1 Q852.7,842.1 854.7,849.9" fill="none" stroke="#262626" stroke-width="3"/>
<path d="M1347.2,849.9 Q1349.2,842.1 1371.2,842.1 L1646.8,842.1 Q1662.8,842.1 1668.8,835.0 Q1674.8,842.1 1690.8,842.1 L1967.4,842.1 Q1989.4,842.1 1991.4,849.9" fill="none" stroke="#262626" stroke-width="3"/>
<text transform="translate(31.00,101.51) scale(1.1661,1)" font-size="45.12" font-weight="bold" fill="#111">(a)</text>
<text transform="translate(1139.90,101.76) scale(1.2046,1)" font-size="43.94" font-weight="bold" fill="#111">(b)</text>
<text transform="translate(31.00,877.01) scale(1.0664,1)" font-size="45.12" font-weight="bold" fill="#111">(c)</text>
<text transform="translate(1141.00,877.01) scale(1.1541,1)" font-size="45.12" font-weight="bold" fill="#111">(d)</text>
<clipPath id="clipa"><rect x="187.0" y="159.0" width="844.0" height="500.0"/></clipPath>
<g clip-path="url(#clipa)" fill="none" stroke-width="3.4" stroke-linejoin="round" stroke-linecap="round">
<path d="M187.0,159.0 188.7,209.3 190.4,251.8 192.1,272.3 193.8,280.3 195.4,287.2 197.1,293.0 198.8,297.7 200.5,301.5 202.2,305.1 203.9,308.8 205.6,312.4 207.3,315.9 208.9,319.4 210.6,322.7 212.3,325.8 214.0,328.9 215.7,332.0 217.4,335.1 219.1,338.2 220.8,341.2 222.4,344.3 224.1,347.2 225.8,350.0 227.5,352.8 229.2,355.3 230.9,357.8 232.6,360.0 234.3,362.0 236.0,364.0 237.6,366.0 239.3,367.9 241.0,369.8 242.7,371.6 244.4,373.4 246.1,375.1 247.8,376.8 249.5,378.4 251.1,380.0 252.8,381.5 254.5,383.0 256.2,384.5 257.9,385.8 259.6,387.2 261.3,388.5 263.0,389.7 264.6,391.0 266.3,392.2 268.0,393.4 269.7,394.6 271.4,395.7 273.1,396.9 274.8,398.0 276.5,399.2 278.2,400.3 279.8,401.4 281.5,402.5 283.2,403.6 284.9,404.7 286.6,405.8 288.3,406.9 290.0,408.1 291.7,409.2 293.3,410.3 295.0,411.5 296.7,412.6 298.4,413.8 300.1,415.0 301.8,416.2 303.5,417.4 305.2,418.6 306.8,419.8 308.5,421.0 310.2,422.2 311.9,423.4 313.6,424.5 315.3,425.6 317.0,426.7 318.7,427.8 320.4,428.8 322.0,429.8 323.7,430.7 325.4,431.6 327.1,432.4 328.8,433.2 330.5,433.9 332.2,434.6 333.9,435.3 335.5,436.0 337.2,436.7 338.9,437.4 340.6,438.1 342.3,438.9 344.0,439.6 345.7,440.5 347.4,441.3 349.0,442.2 350.7,443.2 352.4,444.1 354.1,445.2 355.8,446.2 357.5,447.3 359.2,448.3 360.9,449.4 362.6,450.5 364.2,451.6 365.9,452.6 367.6,453.7 369.3,454.7 371.0,455.7 372.7,456.6 374.4,457.5 376.1,458.4 377.7,459.2 379.4,459.9 381.1,460.6 382.8,461.2 384.5,461.8 386.2,462.3 387.9,462.8 389.6,463.3 391.2,463.8 392.9,464.2 394.6,464.7 396.3,465.2 398.0,465.6 399.7,466.0 401.4,466.5 403.1,466.9 404.8,467.3 406.4,467.7 408.1,468.1 409.8,468.5 411.5,468.9 413.2,469.2 414.9,469.6 416.6,470.0 418.3,470.3 419.9,470.6 421.6,471.0 423.3,471.3 425.0,471.6 426.7,471.9 428.4,472.2 430.1,472.5 431.8,472.8 433.4,473.1 435.1,473.4 436.8,473.7 438.5,473.9 440.2,474.2 441.9,474.4 443.6,474.7 445.3,474.9 447.0,475.2 448.6,475.4 450.3,475.6 452.0,475.9 453.7,476.1 455.4,476.3 457.1,476.5 458.8,476.7 460.5,476.9 461.3,477.0 465.5,477.6 469.7,478.1 474.0,478.7 478.2,479.3 482.4,479.8 486.6,480.4 490.8,480.9 495.1,481.5 499.3,482.0 503.5,482.5 507.7,483.0 511.9,483.4 516.2,483.9 520.4,484.2 524.6,484.6 528.8,484.8 533.0,485.1 537.3,485.2 541.5,485.4 545.7,485.4 549.9,485.4 554.1,485.3 558.4,485.1 562.6,484.7 566.8,484.3 571.0,483.7 575.2,483.0 579.5,482.2 583.7,481.3 587.9,480.4 592.1,479.5 596.3,478.6 600.6,477.6 604.8,476.7 609.0,475.8 613.2,474.9 617.4,474.1 621.7,473.3 625.9,472.7 630.1,472.2 634.3,471.8 638.5,471.5 642.8,471.3 647.0,471.3 651.2,471.2 655.4,471.3 659.6,471.4 663.9,471.5 668.1,471.7 672.3,471.9 676.5,472.2 680.7,472.6 685.0,472.9 689.2,473.3 693.4,473.8 697.6,474.2 701.8,474.8 706.1,475.3 710.3,475.9 714.5,476.6 718.7,477.2 722.9,477.9 727.2,478.7 731.4,479.4 735.6,480.1 739.8,480.9 744.0,481.7 748.3,482.4 752.5,483.2 756.7,483.9 760.9,484.6 765.1,485.3 769.4,486.0 773.6,486.7 777.8,487.3 782.0,487.8 786.2,488.4 790.5,488.9 794.7,489.4 798.9,489.9 803.1,490.4 807.3,490.9 811.6,491.4 815.8,491.8 820.0,492.3 824.2,492.8 828.4,493.2 832.7,493.7 836.9,494.1 841.1,494.6 845.3,495.0 849.5,495.4 853.8,495.8 858.0,496.2 862.2,496.6 866.4,497.0 870.6,497.4 874.9,497.8 879.1,498.1 883.3,498.4 887.5,498.8 891.7,499.1 896.0,499.4 900.2,499.7 904.4,499.9 908.6,500.2 912.8,500.5 917.1,500.8 921.3,501.0 925.5,501.3 929.7,501.6 933.9,501.9 938.2,502.1 942.4,502.4 946.6,502.7 950.8,502.9 955.0,503.2 959.3,503.4 963.5,503.7 967.7,503.9 971.9,504.1 976.1,504.4 980.4,504.6 984.6,504.8 988.8,505.0 993.0,505.2 997.2,505.4 1001.5,505.6 1005.7,505.7 1009.9,505.9 1014.1,506.0 1018.3,506.2 1022.6,506.3 1026.8,506.4 1031.0,506.5" stroke="#9a8a1c"/>
<path d="M187.0,156.5 188.7,206.8 190.4,249.3 192.1,269.8 193.8,277.8 195.4,284.7 197.1,290.5 198.8,295.2 200.5,299.0 202.2,302.6 203.9,306.3 205.6,309.9 207.3,313.4 208.9,316.9 210.6,320.2 212.3,323.3 214.0,326.4 215.7,329.5 217.4,332.6 219.1,335.7 220.8,338.7 222.4,341.8 224.1,344.7 225.8,347.5 227.5,350.3 229.2,352.8 230.9,355.3 232.6,357.5 234.3,359.5 236.0,361.5 237.6,363.5 239.3,365.4 241.0,367.3 242.7,369.1 244.4,370.9 246.1,372.6 247.8,374.3 249.5,375.9 251.1,377.5 252.8,379.0 254.5,380.5 256.2,382.0 257.9,383.3 259.6,384.7 261.3,386.0 263.0,387.2 264.6,388.5 266.3,389.7 268.0,390.9 269.7,392.1 271.4,393.2 273.1,394.4 274.8,395.5 276.5,396.7 278.2,397.8 279.8,398.9 281.5,400.0 283.2,401.1 284.9,402.2 286.6,403.3 288.3,404.4 290.0,405.6 291.7,406.7 293.3,407.8 295.0,409.0 296.7,410.1 298.4,411.3 300.1,412.5 301.8,413.7 303.5,414.9 305.2,416.1 306.8,417.3 308.5,418.5 310.2,419.7 311.9,420.9 313.6,422.0 315.3,423.1 317.0,424.2 318.7,425.3 320.4,426.3 322.0,427.3 323.7,428.2 325.4,429.1 327.1,429.9 328.8,430.7 330.5,431.4 332.2,432.1 333.9,432.8 335.5,433.5 337.2,434.2 338.9,434.9 340.6,435.6 342.3,436.4 344.0,437.1 345.7,438.0 347.4,438.8 349.0,439.7 350.7,440.7 352.4,441.6 354.1,442.7 355.8,443.7 357.5,444.8 359.2,445.8 360.9,446.9 362.6,448.0 364.2,449.1 365.9,450.1 367.6,451.2 369.3,452.2 371.0,453.2 372.7,454.1 374.4,455.0 376.1,455.9 377.7,456.7 379.4,457.4 381.1,458.1 382.8,458.7 384.5,459.3 386.2,459.8 387.9,460.3 389.6,460.8 391.2,461.3 392.9,461.7 394.6,462.2 396.3,462.7 398.0,463.1 399.7,463.5 401.4,464.0 403.1,464.4 404.8,464.8 406.4,465.2 408.1,465.6 409.8,466.0 411.5,466.4 413.2,466.7 414.9,467.1 416.6,467.5 418.3,467.8 419.9,468.1 421.6,468.5 423.3,468.8 425.0,469.1 426.7,469.4 428.4,469.7 430.1,470.0 431.8,470.3 433.4,470.6 435.1,470.9 436.8,471.2 438.5,471.4 440.2,471.7 441.9,471.9 443.6,472.2 445.3,472.4 447.0,472.7 448.6,472.9 450.3,473.1 452.0,473.4 453.7,473.6 455.4,473.8 457.1,474.0 458.8,474.2 460.5,474.4 461.3,474.5 465.5,475.1 469.7,475.6 474.0,476.2 478.2,476.8 482.4,477.3 486.6,477.9 490.8,478.4 495.1,479.0 499.3,479.5 503.5,480.0 507.7,480.5 511.9,480.9 516.2,481.4 520.4,481.7 524.6,482.1 528.8,482.3 533.0,482.6 537.3,482.7 541.5,482.9 545.7,482.9 549.9,482.9 554.1,482.8 558.4,482.6 562.6,482.2 566.8,481.8 571.0,481.2 575.2,480.5 579.5,479.7 583.7,478.8 587.9,477.9 592.1,477.0 596.3,476.1 600.6,475.1 604.8,474.2 609.0,473.3 613.2,472.4 617.4,471.6 621.7,470.8 625.9,470.2 630.1,469.7 634.3,469.3 638.5,469.0 642.8,468.8 647.0,468.8 651.2,468.7 655.4,468.8 659.6,468.9 663.9,469.0 668.1,469.2 672.3,469.4 676.5,469.7 680.7,470.1 685.0,470.4 689.2,470.8 693.4,471.3 697.6,471.7 701.8,472.3 706.1,472.8 710.3,473.4 714.5,474.1 718.7,474.7 722.9,475.4 727.2,476.2 731.4,476.9 735.6,477.6 739.8,478.4 744.0,479.2 748.3,479.9 752.5,480.7 756.7,481.4 760.9,482.1 765.1,482.8 769.4,483.5 773.6,484.2 777.8,484.8 782.0,485.3 786.2,485.9 790.5,486.4 794.7,486.9 798.9,487.4 803.1,487.9 807.3,488.4 811.6,488.9 815.8,489.3 820.0,489.8 824.2,490.3 828.4,490.7 832.7,491.2 836.9,491.6 841.1,492.1 845.3,492.5 849.5,492.9 853.8,493.3 858.0,493.7 862.2,494.1 866.4,494.5 870.6,494.9 874.9,495.3 879.1,495.6 883.3,495.9 887.5,496.3 891.7,496.6 896.0,496.9 900.2,497.2 904.4,497.4 908.6,497.7 912.8,498.0 917.1,498.3 921.3,498.5 925.5,498.8 929.7,499.1 933.9,499.4 938.2,499.6 942.4,499.9 946.6,500.2 950.8,500.4 955.0,500.7 959.3,500.9 963.5,501.2 967.7,501.4 971.9,501.6 976.1,501.9 980.4,502.1 984.6,502.3 988.8,502.5 993.0,502.7 997.2,502.9 1001.5,503.1 1005.7,503.2 1009.9,503.4 1014.1,503.5 1018.3,503.7 1022.6,503.8 1026.8,503.9 1031.0,504.0" stroke="#7a1418"/>
<path d="M187.0,152.8 188.7,203.0 190.4,245.5 192.1,266.0 193.8,274.0 195.4,280.9 197.1,286.7 198.8,291.4 200.5,295.2 202.2,298.9 203.9,302.5 205.6,306.1 207.3,309.7 208.9,313.1 210.6,316.4 212.3,319.6 214.0,322.6 215.7,325.7 217.4,328.8 219.1,331.9 220.8,335.0 222.4,338.0 224.1,340.9 225.8,343.8 227.5,346.5 229.2,349.1 230.9,351.5 232.6,353.7 234.3,355.8 236.0,357.8 237.6,359.8 239.3,361.7 241.0,363.5 242.7,365.4 244.4,367.1 246.1,368.9 247.8,370.5 249.5,372.2 251.1,373.8 252.8,375.3 254.5,376.8 256.2,378.2 257.9,379.6 259.6,380.9 261.3,382.2 263.0,383.5 264.6,384.7 266.3,386.0 268.0,387.2 269.7,388.3 271.4,389.5 273.1,390.6 274.8,391.8 276.5,392.9 278.2,394.0 279.8,395.2 281.5,396.3 283.2,397.4 284.9,398.5 286.6,399.6 288.3,400.7 290.0,401.8 291.7,402.9 293.3,404.1 295.0,405.2 296.7,406.4 298.4,407.5 300.1,408.7 301.8,409.9 303.5,411.1 305.2,412.3 306.8,413.6 308.5,414.8 310.2,415.9 311.9,417.1 313.6,418.2 315.3,419.4 317.0,420.5 318.7,421.5 320.4,422.5 322.0,423.5 323.7,424.4 325.4,425.3 327.1,426.1 328.8,426.9 330.5,427.7 332.2,428.4 333.9,429.1 335.5,429.8 337.2,430.5 338.9,431.2 340.6,431.9 342.3,432.6 344.0,433.4 345.7,434.2 347.4,435.1 349.0,436.0 350.7,436.9 352.4,437.9 354.1,438.9 355.8,440.0 357.5,441.0 359.2,442.1 360.9,443.2 362.6,444.3 364.2,445.3 365.9,446.4 367.6,447.4 369.3,448.5 371.0,449.5 372.7,450.4 374.4,451.3 376.1,452.2 377.7,453.0 379.4,453.7 381.1,454.4 382.8,455.0 384.5,455.5 386.2,456.0 387.9,456.5 389.6,457.0 391.2,457.5 392.9,457.9 394.6,458.4 396.3,458.8 398.0,459.2 399.7,459.7 401.4,460.1 403.1,460.5 404.8,460.9 406.4,461.3 408.1,461.6 409.8,462.0 411.5,462.4 413.2,462.7 414.9,463.1 416.6,463.4 418.3,463.8 419.9,464.1 421.6,464.4 423.3,464.7 425.0,465.0 426.7,465.3 428.4,465.6 430.1,465.9 431.8,466.2 433.4,466.5 435.1,466.8 436.8,467.1 438.5,467.4 440.2,467.6 441.9,467.9 443.6,468.2 445.3,468.4 447.0,468.7 448.6,469.0 450.3,469.2 452.0,469.5 453.7,469.7 455.4,470.0 457.1,470.3 458.8,470.5 460.5,470.8 461.3,470.9 465.5,471.6 469.7,472.3 474.0,473.0 478.2,473.7 482.4,474.5 486.6,475.2 490.8,475.9 495.1,476.7 499.3,477.4 503.5,478.1 507.7,478.7 511.9,479.4 516.2,480.0 520.4,480.5 524.6,481.0 528.8,481.5 533.0,481.9 537.3,482.2 541.5,482.5 545.7,482.6 549.9,482.7 554.1,482.8 558.4,482.7 562.6,482.4 566.8,482.0 571.0,481.4 575.2,480.7 579.5,480.0 583.7,479.1 587.9,478.2 592.1,477.3 596.3,476.3 600.6,475.3 604.8,474.3 609.0,473.4 613.2,472.5 617.4,471.6 621.7,470.9 625.9,470.2 630.1,469.7 634.3,469.3 638.5,469.0 642.8,468.9 647.0,468.8 651.2,468.8 655.4,468.8 659.6,468.9 663.9,469.0 668.1,469.2 672.3,469.5 676.5,469.7 680.7,470.1 685.0,470.4 689.2,470.8 693.4,471.3 697.6,471.7 701.8,472.3 706.1,472.8 710.3,473.4 714.5,474.1 718.7,474.7 722.9,475.4 727.2,476.2 731.4,476.9 735.6,477.6 739.8,478.4 744.0,479.2 748.3,479.9 752.5,480.7 756.7,481.4 760.9,482.1 765.1,482.8 769.4,483.5 773.6,484.2 777.8,484.8 782.0,485.3 786.2,485.9 790.5,486.4 794.7,486.9 798.9,487.4 803.1,487.9 807.3,488.4 811.6,488.9 815.8,489.3 820.0,489.8 824.2,490.3 828.4,490.7 832.7,491.2 836.9,491.6 841.1,492.1 845.3,492.5 849.5,492.9 853.8,493.3 858.0,493.7 862.2,494.1 866.4,494.5 870.6,494.9 874.9,495.3 879.1,495.6 883.3,495.9 887.5,496.3 891.7,496.6 896.0,496.9 900.2,497.2 904.4,497.4 908.6,497.7 912.8,498.0 917.1,498.3 921.3,498.5 925.5,498.8 929.7,499.1 933.9,499.4 938.2,499.6 942.4,499.9 946.6,500.2 950.8,500.4 955.0,500.7 959.3,500.9 963.5,501.2 967.7,501.4 971.9,501.6 976.1,501.9 980.4,502.1 984.6,502.3 988.8,502.5 993.0,502.7 997.2,502.9 1001.5,503.1 1005.7,503.2 1009.9,503.4 1014.1,503.5 1018.3,503.7 1022.6,503.8 1026.8,503.9 1031.0,504.0" stroke="#1f7d24"/>
<path d="M187.0,150.2 188.7,200.5 190.4,243.0 192.1,263.5 193.8,271.5 195.4,278.4 197.1,284.2 198.8,288.9 200.5,292.7 202.2,296.4 203.9,300.0 205.6,303.6 207.3,307.2 208.9,310.6 210.6,313.9 212.3,317.1 214.0,320.1 215.7,323.2 217.4,326.3 219.1,329.4 220.8,332.5 222.4,335.5 224.1,338.4 225.8,341.3 227.5,344.0 229.2,346.6 230.9,349.0 232.6,351.2 234.3,353.3 236.0,355.3 237.6,357.3 239.3,359.2 241.0,361.0 242.7,362.9 244.4,364.6 246.1,366.4 247.8,368.0 249.5,369.7 251.1,371.3 252.8,372.8 254.5,374.3 256.2,375.7 257.9,377.1 259.6,378.4 261.3,379.7 263.0,381.0 264.6,382.2 266.3,383.5 268.0,384.7 269.7,385.8 271.4,387.0 273.1,388.1 274.8,389.3 276.5,390.4 278.2,391.5 279.8,392.7 281.5,393.8 283.2,394.9 284.9,396.0 286.6,397.1 288.3,398.2 290.0,399.3 291.7,400.4 293.3,401.6 295.0,402.7 296.7,403.9 298.4,405.0 300.1,406.2 301.8,407.4 303.5,408.6 305.2,409.8 306.8,411.1 308.5,412.3 310.2,413.4 311.9,414.6 313.6,415.7 315.3,416.9 317.0,418.0 318.7,419.0 320.4,420.0 322.0,421.0 323.7,421.9 325.4,422.8 327.1,423.6 328.8,424.4 330.5,425.2 332.2,425.9 333.9,426.6 335.5,427.3 337.2,428.0 338.9,428.7 340.6,429.4 342.3,430.1 344.0,430.9 345.7,431.7 347.4,432.6 349.0,433.5 350.7,434.4 352.4,435.4 354.1,436.4 355.8,437.5 357.5,438.5 359.2,439.6 360.9,440.7 362.6,441.8 364.2,442.8 365.9,443.9 367.6,444.9 369.3,446.0 371.0,446.9 372.7,447.9 374.4,448.8 376.1,449.7 377.7,450.5 379.4,451.2 381.1,451.9 382.8,452.5 384.5,453.0 386.2,453.5 387.9,454.0 389.6,454.5 391.2,455.0 392.9,455.4 394.6,455.9 396.3,456.3 398.0,456.8 399.7,457.2 401.4,457.6 403.1,458.0 404.8,458.4 406.4,458.8 408.1,459.2 409.8,459.6 411.5,459.9 413.2,460.3 414.9,460.7 416.6,461.0 418.3,461.4 419.9,461.7 421.6,462.0 423.3,462.3 425.0,462.6 426.7,463.0 428.4,463.3 430.1,463.6 431.8,463.8 433.4,464.1 435.1,464.4 436.8,464.7 438.5,465.0 440.2,465.2 441.9,465.5 443.6,465.8 445.3,466.0 447.0,466.3 448.6,466.5 450.3,466.8 452.0,467.0 453.7,467.3 455.4,467.5 457.1,467.8 458.8,468.0 460.5,468.2 461.3,468.4 465.5,469.0 469.7,469.6 474.0,470.3 478.2,471.0 482.4,471.7 486.6,472.4 490.8,473.0 495.1,473.7 499.3,474.3 503.5,475.0 507.7,475.6 511.9,476.1 516.2,476.7 520.4,477.2 524.6,477.6 528.8,478.0 533.0,478.4 537.3,478.6 541.5,478.8 545.7,479.0 549.9,479.0 554.1,479.0 558.4,478.9 562.6,478.6 566.8,478.1 571.0,477.6 575.2,476.9 579.5,476.1 583.7,475.3 587.9,474.4 592.1,473.4 596.3,472.5 600.6,471.5 604.8,470.5 609.0,469.6 613.2,468.7 617.4,467.9 621.7,467.1 625.9,466.5 630.1,465.9 634.3,465.5 638.5,465.2 642.8,465.1 647.0,465.0 651.2,465.0 655.4,465.0 659.6,465.1 663.9,465.3 668.1,465.5 672.3,465.7 676.5,466.0 680.7,466.3 685.0,466.7 689.2,467.1 693.4,467.5 697.6,468.0 701.8,468.5 706.1,469.1 710.3,469.7 714.5,470.3 718.7,471.0 722.9,471.7 727.2,472.4 731.4,473.1 735.6,473.9 739.8,474.6 744.0,475.4 748.3,476.2 752.5,476.9 756.7,477.6 760.9,478.4 765.1,479.1 769.4,479.8 773.6,480.4 777.8,481.0 782.0,481.6 786.2,482.1 790.5,482.6 794.7,483.1 798.9,483.6 803.1,484.1 807.3,484.6 811.6,485.1 815.8,485.6 820.0,486.1 824.2,486.5 828.4,487.0 832.7,487.4 836.9,487.9 841.1,488.3 845.3,488.8 849.5,489.2 853.8,489.6 858.0,490.0 862.2,490.4 866.4,490.8 870.6,491.1 874.9,491.5 879.1,491.9 883.3,492.2 887.5,492.5 891.7,492.8 896.0,493.1 900.2,493.4 904.4,493.7 908.6,494.0 912.8,494.2 917.1,494.5 921.3,494.8 925.5,495.1 929.7,495.3 933.9,495.6 938.2,495.9 942.4,496.2 946.6,496.4 950.8,496.7 955.0,496.9 959.3,497.2 963.5,497.4 967.7,497.7 971.9,497.9 976.1,498.1 980.4,498.3 984.6,498.6 988.8,498.8 993.0,499.0 997.2,499.1 1001.5,499.3 1005.7,499.5 1009.9,499.6 1014.1,499.8 1018.3,499.9 1022.6,500.0 1026.8,500.2 1031.0,500.2" stroke="#8a1090"/>
<path d="M187.0,147.7 188.7,198.0 190.4,240.5 192.1,261.0 193.8,269.0 195.4,275.9 197.1,281.7 198.8,286.4 200.5,290.2 202.2,293.9 203.9,297.5 205.6,301.1 207.3,304.7 208.9,308.1 210.6,311.4 212.3,314.6 214.0,317.6 215.7,320.7 217.4,323.8 219.1,326.9 220.8,330.0 222.4,333.0 224.1,335.9 225.8,338.8 227.5,341.5 229.2,344.1 230.9,346.5 232.6,348.7 234.3,350.8 236.0,352.8 237.6,354.8 239.3,356.7 241.0,358.5 242.7,360.4 244.4,362.1 246.1,363.9 247.8,365.5 249.5,367.2 251.1,368.8 252.8,370.3 254.5,371.8 256.2,373.2 257.9,374.6 259.6,375.9 261.3,377.2 263.0,378.5 264.6,379.7 266.3,381.0 268.0,382.2 269.7,383.3 271.4,384.5 273.1,385.6 274.8,386.8 276.5,387.9 278.2,389.0 279.8,390.2 281.5,391.3 283.2,392.4 284.9,393.5 286.6,394.6 288.3,395.7 290.0,396.8 291.7,397.9 293.3,399.1 295.0,400.2 296.7,401.4 298.4,402.5 300.1,403.7 301.8,404.9 303.5,406.1 305.2,407.3 306.8,408.6 308.5,409.8 310.2,410.9 311.9,412.1 313.6,413.2 315.3,414.4 317.0,415.5 318.7,416.5 320.4,417.5 322.0,418.5 323.7,419.4 325.4,420.3 327.1,421.1 328.8,421.9 330.5,422.7 332.2,423.4 333.9,424.1 335.5,424.8 337.2,425.5 338.9,426.2 340.6,426.9 342.3,427.6 344.0,428.4 345.7,429.2 347.4,430.1 349.0,431.0 350.7,431.9 352.4,432.9 354.1,433.9 355.8,435.0 357.5,436.0 359.2,437.1 360.9,438.2 362.6,439.3 364.2,440.4 365.9,441.4 367.6,442.5 369.3,443.5 371.0,444.5 372.7,445.4 374.4,446.3 376.1,447.2 377.7,448.0 379.4,448.7 381.1,449.4 382.8,450.0 384.5,450.5 386.2,451.0 387.9,451.5 389.6,451.9 391.2,452.4 392.9,452.8 394.6,453.3 396.3,453.7 398.0,454.1 399.7,454.5 401.4,454.9 403.1,455.3 404.8,455.7 406.4,456.1 408.1,456.4 409.8,456.8 411.5,457.1 413.2,457.5 414.9,457.8 416.6,458.1 418.3,458.5 419.9,458.8 421.6,459.1 423.3,459.4 425.0,459.7 426.7,460.0 428.4,460.3 430.1,460.6 431.8,460.9 433.4,461.2 435.1,461.5 436.8,461.8 438.5,462.1 440.2,462.3 441.9,462.6 443.6,462.9 445.3,463.2 447.0,463.5 448.6,463.8 450.3,464.1 452.0,464.4 453.7,464.7 455.4,465.0 457.1,465.3 458.8,465.6 460.5,465.9 461.3,466.0 465.5,466.8 469.7,467.7 474.0,468.6 478.2,469.4 482.4,470.3 486.6,471.3 490.8,472.2 495.1,473.1 499.3,474.0 503.5,474.8 507.7,475.7 511.9,476.5 516.2,477.3 520.4,478.0 524.6,478.7 528.8,479.3 533.0,479.9 537.3,480.4 541.5,480.8 545.7,481.1 549.9,481.3 554.1,481.5 558.4,481.5 562.6,481.3 566.8,480.9 571.0,480.4 575.2,479.8 579.5,479.0 583.7,478.2 587.9,477.3 592.1,476.3 596.3,475.3 600.6,474.3 604.8,473.3 609.0,472.3 613.2,471.3 617.4,470.5 621.7,469.7 625.9,469.0 630.1,468.4 634.3,468.0 638.5,467.8 642.8,467.6 647.0,467.5 651.2,467.5 655.4,467.6 659.6,467.7 663.9,467.8 668.1,468.0 672.3,468.2 676.5,468.5 680.7,468.8 685.0,469.2 689.2,469.6 693.4,470.0 697.6,470.5 701.8,471.0 706.1,471.6 710.3,472.2 714.5,472.8 718.7,473.5 722.9,474.2 727.2,474.9 731.4,475.6 735.6,476.4 739.8,477.1 744.0,477.9 748.3,478.7 752.5,479.4 756.7,480.1 760.9,480.9 765.1,481.6 769.4,482.3 773.6,482.9 777.8,483.5 782.0,484.1 786.2,484.6 790.5,485.1 794.7,485.6 798.9,486.1 803.1,486.6 807.3,487.1 811.6,487.6 815.8,488.1 820.0,488.6 824.2,489.0 828.4,489.5 832.7,489.9 836.9,490.4 841.1,490.8 845.3,491.3 849.5,491.7 853.8,492.1 858.0,492.5 862.2,492.9 866.4,493.3 870.6,493.6 874.9,494.0 879.1,494.4 883.3,494.7 887.5,495.0 891.7,495.3 896.0,495.6 900.2,495.9 904.4,496.2 908.6,496.5 912.8,496.7 917.1,497.0 921.3,497.3 925.5,497.6 929.7,497.8 933.9,498.1 938.2,498.4 942.4,498.7 946.6,498.9 950.8,499.2 955.0,499.4 959.3,499.7 963.5,499.9 967.7,500.2 971.9,500.4 976.1,500.6 980.4,500.8 984.6,501.1 988.8,501.3 993.0,501.5 997.2,501.6 1001.5,501.8 1005.7,502.0 1009.9,502.1 1014.1,502.3 1018.3,502.4 1022.6,502.5 1026.8,502.7 1031.0,502.8" stroke="#4a78a6"/>
<path d="M187.0,144.0 188.7,194.3 190.4,236.8 192.1,257.3 193.8,265.3 195.4,272.2 197.1,278.0 198.8,282.7 200.5,286.5 202.2,290.1 203.9,293.8 205.6,297.4 207.3,300.9 208.9,304.4 210.6,307.7 212.3,310.8 214.0,313.9 215.7,317.0 217.4,320.1 219.1,323.2 220.8,326.2 222.4,329.3 224.1,332.2 225.8,335.0 227.5,337.8 229.2,340.3 230.9,342.8 232.6,345.0 234.3,347.0 236.0,349.0 237.6,351.0 239.3,352.9 241.0,354.8 242.7,356.6 244.4,358.4 246.1,360.1 247.8,361.8 249.5,363.4 251.1,365.0 252.8,366.5 254.5,368.0 256.2,369.5 257.9,370.8 259.6,372.2 261.3,373.5 263.0,374.7 264.6,376.0 266.3,377.2 268.0,378.4 269.7,379.6 271.4,380.7 273.1,381.9 274.8,383.0 276.5,384.2 278.2,385.3 279.8,386.4 281.5,387.5 283.2,388.6 284.9,389.7 286.6,390.8 288.3,391.9 290.0,393.1 291.7,394.2 293.3,395.3 295.0,396.5 296.7,397.6 298.4,398.8 300.1,400.0 301.8,401.2 303.5,402.4 305.2,403.6 306.8,404.8 308.5,406.0 310.2,407.2 311.9,408.4 313.6,409.5 315.3,410.6 317.0,411.7 318.7,412.8 320.4,413.8 322.0,414.8 323.7,415.7 325.4,416.6 327.1,417.4 328.8,418.2 330.5,418.9 332.2,419.6 333.9,420.3 335.5,421.0 337.2,421.7 338.9,422.4 340.6,423.1 342.3,423.9 344.0,424.6 345.7,425.5 347.4,426.3 349.0,427.2 350.7,428.2 352.4,429.2 354.1,430.2 355.8,431.2 357.5,432.3 359.2,433.4 360.9,434.5 362.6,435.5 364.2,436.6 365.9,437.7 367.6,438.7 369.3,439.8 371.0,440.8 372.7,441.7 374.4,442.6 376.1,443.5 377.7,444.3 379.4,445.0 381.1,445.7 382.8,446.2 384.5,446.7 386.2,447.2 387.9,447.7 389.6,448.2 391.2,448.6 392.9,449.0 394.6,449.5 396.3,449.9 398.0,450.3 399.7,450.7 401.4,451.1 403.1,451.4 404.8,451.8 406.4,452.2 408.1,452.5 409.8,452.9 411.5,453.2 413.2,453.5 414.9,453.9 416.6,454.2 418.3,454.5 419.9,454.8 421.6,455.1 423.3,455.4 425.0,455.7 426.7,456.0 428.4,456.3 430.1,456.6 431.8,456.9 433.4,457.2 435.1,457.5 436.8,457.8 438.5,458.1 440.2,458.4 441.9,458.7 443.6,459.0 445.3,459.3 447.0,459.6 448.6,459.9 450.3,460.2 452.0,460.5 453.7,460.8 455.4,461.2 457.1,461.5 458.8,461.8 460.5,462.2 461.3,462.4 465.5,463.3 469.7,464.2 474.0,465.2 478.2,466.2 482.4,467.2 486.6,468.2 490.8,469.2 495.1,470.2 499.3,471.3 503.5,472.3 507.7,473.2 511.9,474.2 516.2,475.1 520.4,475.9 524.6,476.7 528.8,477.5 533.0,478.1 537.3,478.7 541.5,479.2 545.7,479.7 549.9,480.0 554.1,480.2 558.4,480.3 562.6,480.2 566.8,479.9 571.0,479.4 575.2,478.7 579.5,478.0 583.7,477.1 587.9,476.2 592.1,475.2 596.3,474.2 600.6,473.1 604.8,472.1 609.0,471.1 613.2,470.1 617.4,469.2 621.7,468.4 625.9,467.7 630.1,467.1 634.3,466.7 638.5,466.5 642.8,466.4 647.0,466.3 651.2,466.3 655.4,466.4 659.6,466.5 663.9,466.6 668.1,466.8 672.3,467.0 676.5,467.3 680.7,467.6 685.0,467.9 689.2,468.3 693.4,468.8 697.6,469.2 701.8,469.8 706.1,470.3 710.3,470.9 714.5,471.6 718.7,472.2 722.9,472.9 727.2,473.7 731.4,474.4 735.6,475.1 739.8,475.9 744.0,476.7 748.3,477.4 752.5,478.2 756.7,478.9 760.9,479.6 765.1,480.3 769.4,481.0 773.6,481.7 777.8,482.3 782.0,482.8 786.2,483.4 790.5,483.9 794.7,484.4 798.9,484.9 803.1,485.4 807.3,485.9 811.6,486.4 815.8,486.8 820.0,487.3 824.2,487.8 828.4,488.2 832.7,488.7 836.9,489.1 841.1,489.6 845.3,490.0 849.5,490.4 853.8,490.8 858.0,491.2 862.2,491.6 866.4,492.0 870.6,492.4 874.9,492.8 879.1,493.1 883.3,493.4 887.5,493.8 891.7,494.1 896.0,494.4 900.2,494.7 904.4,494.9 908.6,495.2 912.8,495.5 917.1,495.8 921.3,496.0 925.5,496.3 929.7,496.6 933.9,496.9 938.2,497.1 942.4,497.4 946.6,497.7 950.8,497.9 955.0,498.2 959.3,498.4 963.5,498.7 967.7,498.9 971.9,499.1 976.1,499.4 980.4,499.6 984.6,499.8 988.8,500.0 993.0,500.2 997.2,500.4 1001.5,500.6 1005.7,500.7 1009.9,500.9 1014.1,501.0 1018.3,501.2 1022.6,501.3 1026.8,501.4 1031.0,501.5" stroke="#26168c"/>
<path d="M187.0,159.0 188.7,203.3 190.4,240.9 192.1,260.2 193.8,269.1 195.4,276.8 197.1,283.2 198.8,288.3 200.5,292.0 202.2,295.5 203.9,299.0 205.6,302.4 207.3,305.7 208.9,309.0 210.6,312.0 212.3,314.9 214.0,317.7 215.7,320.5 217.4,323.3 219.1,326.0 220.8,328.8 222.4,331.5 224.1,334.1 225.8,336.7 227.5,339.2 229.2,341.6 230.9,343.9 232.6,346.0 234.3,348.0 236.0,350.0 237.6,351.9 239.3,353.8 241.0,355.7 242.7,357.5 244.4,359.4 246.1,361.1 247.8,362.8 249.5,364.5 251.1,366.2 252.8,367.8 254.5,369.3 256.2,370.9 257.9,372.3 259.6,373.8 261.3,375.1 263.0,376.5 264.6,377.8 266.3,379.2 268.0,380.5 269.7,381.7 271.4,383.0 273.1,384.3 274.8,385.5 276.5,386.7 278.2,387.9 279.8,389.1 281.5,390.3 283.2,391.5 284.9,392.7 286.6,393.9 288.3,395.1 290.0,396.2 291.7,397.4 293.3,398.6 295.0,399.8 296.7,400.9 298.4,402.1 300.1,403.3 301.8,404.4 303.5,405.6 305.2,406.7 306.8,407.8 308.5,409.0 310.2,410.1 311.9,411.3 313.6,412.4 315.3,413.5 317.0,414.7 318.7,415.8 320.4,416.9 322.0,418.1 323.7,419.2 325.4,420.4 327.1,421.7 328.8,422.9 330.5,424.2 332.2,425.4 333.9,426.6 335.5,427.8 337.2,429.0 338.9,430.2 340.6,431.3 342.3,432.3 344.0,433.3 345.7,434.2 347.4,435.1 349.0,436.0 350.7,436.9 352.4,437.7 354.1,438.6 355.8,439.4 357.5,440.3 359.2,441.1 360.9,441.9 362.6,442.7 364.2,443.5 365.9,444.3 367.6,445.0 369.3,445.8 371.0,446.5 372.7,447.2 374.4,447.9 376.1,448.6 377.7,449.2 379.4,449.9 381.1,450.5 382.8,451.1 384.5,451.6 386.2,452.2 387.9,452.7 389.6,453.2 391.2,453.7 392.9,454.1 394.6,454.5 396.3,454.9 398.0,455.3 399.7,455.6 401.4,455.9 403.1,456.3 404.8,456.6 406.4,456.9 408.1,457.2 409.8,457.5 411.5,457.8 413.2,458.1 414.9,458.4 416.6,458.7 418.3,459.0 419.9,459.3 421.6,459.5 423.3,459.8 425.0,460.0 426.7,460.2 428.4,460.5 430.1,460.6 431.8,460.8 433.4,461.0 435.1,461.1 436.8,461.3 438.5,461.4 440.2,461.5 441.9,461.6 443.6,461.7 445.3,461.8 447.0,461.9 448.6,461.9 450.3,462.0 452.0,462.1 453.7,462.2 455.4,462.3 457.1,462.3 458.8,462.4 460.5,462.5 461.3,462.5 465.5,462.6 469.7,462.7 474.0,462.8 478.2,462.8 482.4,462.8 486.6,462.6 490.8,462.4 495.1,462.1 499.3,461.7 503.5,461.3 507.7,460.9 511.9,460.5 516.2,460.0 520.4,459.4 524.6,458.7 528.8,457.8 533.0,456.7 537.3,455.6 541.5,454.3 545.7,452.9 549.9,451.1 554.1,448.7 558.4,446.0 562.6,443.1 566.8,440.2 571.0,437.3 575.2,434.2 579.5,431.0 583.7,427.8 587.9,424.5 592.1,421.3 596.3,418.2 600.6,414.8 604.8,411.5 609.0,408.3 613.2,405.6 617.4,403.5 621.7,402.0 625.9,400.8 630.1,400.2 634.3,400.3 638.5,401.1 642.8,402.1 647.0,403.5 651.2,406.0 655.4,409.5 659.6,413.6 663.9,418.3 668.1,424.2 672.3,431.0 676.5,438.4 680.7,445.9 685.0,453.2 689.2,460.7 693.4,468.5 697.6,476.3 701.8,483.9 706.1,491.1 710.3,497.8 714.5,504.4 718.7,510.8 722.9,517.0 727.2,522.8 731.4,528.2 735.6,532.9 739.8,537.1 744.0,541.2 748.3,545.0 752.5,548.7 756.7,552.2 760.9,555.5 765.1,558.7 769.4,561.6 773.6,564.3 777.8,566.9 782.0,569.5 786.2,572.0 790.5,574.5 794.7,576.9 798.9,579.3 803.1,581.6 807.3,583.9 811.6,586.1 815.8,588.2 820.0,590.2 824.2,592.1 828.4,593.9 832.7,595.6 836.9,597.2 841.1,598.7 845.3,600.2 849.5,601.6 853.8,602.9 858.0,604.1 862.2,605.2 866.4,606.3 870.6,607.4 874.9,608.4 879.1,609.4 883.3,610.4 887.5,611.3 891.7,612.1 896.0,612.8 900.2,613.4 904.4,614.0 908.6,614.5 912.8,615.0 917.1,615.5 921.3,615.9 925.5,616.4 929.7,616.8 933.9,617.2 938.2,617.6 942.4,618.1 946.6,618.5 950.8,618.8 955.0,619.2 959.3,619.6 963.5,620.0 967.7,620.4 971.9,620.8 976.1,621.2 980.4,621.6 984.6,621.9 988.8,622.3 993.0,622.7 997.2,623.1 1001.5,623.4 1005.7,623.8 1009.9,624.2 1014.1,624.5 1018.3,624.9 1022.6,625.2 1026.8,625.5 1031.0,625.9" stroke="#3b9b9c"/>
<path d="M187.0,140.2 188.7,190.5 190.4,233.0 192.1,253.5 193.8,261.5 195.4,268.4 197.1,274.2 198.8,278.9 200.5,282.7 202.2,286.4 203.9,290.0 205.6,293.6 207.3,297.2 208.9,300.6 210.6,303.9 212.3,307.1 214.0,310.1 215.7,313.2 217.4,316.3 219.1,319.4 220.8,322.5 222.4,325.5 224.1,328.4 225.8,331.3 227.5,334.0 229.2,336.6 230.9,339.0 232.6,341.2 234.3,343.3 236.0,345.3 237.6,347.3 239.3,349.2 241.0,351.0 242.7,352.9 244.4,354.6 246.1,356.4 247.8,358.0 249.5,359.7 251.1,361.3 252.8,362.8 254.5,364.3 256.2,365.7 257.9,367.1 259.6,368.4 261.3,369.7 263.0,371.0 264.6,372.2 266.3,373.5 268.0,374.7 269.7,375.8 271.4,377.0 273.1,378.1 274.8,379.3 276.5,380.4 278.2,381.5 279.8,382.7 281.5,383.8 283.2,384.9 284.9,386.0 286.6,387.1 288.3,388.2 290.0,389.3 291.7,390.4 293.3,391.6 295.0,392.7 296.7,393.9 298.4,395.0 300.1,396.2 301.8,397.4 303.5,398.6 305.2,399.8 306.8,401.1 308.5,402.3 310.2,403.4 311.9,404.6 313.6,405.7 315.3,406.9 317.0,408.0 318.7,409.0 320.4,410.0 322.0,411.0 323.7,411.9 325.4,412.8 327.1,413.6 328.8,414.4 330.5,415.2 332.2,415.9 333.9,416.6 335.5,417.3 337.2,418.0 338.9,418.7 340.6,419.4 342.3,420.1 344.0,420.9 345.7,421.7 347.4,422.6 349.0,423.5 350.7,424.4 352.4,425.4 354.1,426.4 355.8,427.5 357.5,428.5 359.2,429.6 360.9,430.7 362.6,431.8 364.2,432.9 365.9,434.0 367.6,435.0 369.3,436.0 371.0,437.0 372.7,438.0 374.4,438.9 376.1,439.7 377.7,440.5 379.4,441.3 381.1,441.9 382.8,442.5 384.5,443.0 386.2,443.5 387.9,443.9 389.6,444.4 391.2,444.8 392.9,445.3 394.6,445.7 396.3,446.1 398.0,446.5 399.7,446.9 401.4,447.3 403.1,447.6 404.8,448.0 406.4,448.4 408.1,448.7 409.8,449.1 411.5,449.4 413.2,449.7 414.9,450.0 416.6,450.4 418.3,450.7 419.9,451.0 421.6,451.3 423.3,451.6 425.0,451.9 426.7,452.2 428.4,452.5 430.1,452.8 431.8,453.1 433.4,453.4 435.1,453.7 436.8,454.0 438.5,454.3 440.2,454.6 441.9,454.9 443.6,455.2 445.3,455.5 447.0,455.8 448.6,456.1 450.3,456.4 452.0,456.7 453.7,457.1 455.4,457.4 457.1,457.8 458.8,458.1 460.5,458.5 461.3,458.6 465.5,459.6 469.7,460.6 474.0,461.6 478.2,462.6 482.4,463.7 486.6,464.8 490.8,465.9 495.1,466.9 499.3,468.0 503.5,469.1 507.7,470.1 511.9,471.1 516.2,472.1 520.4,473.0 524.6,473.8 528.8,474.6 533.0,475.4 537.3,476.0 541.5,476.6 545.7,477.1 549.9,477.4 554.1,477.7 558.4,477.8 562.6,477.7 566.8,477.4 571.0,477.0 575.2,476.4 579.5,475.6 583.7,474.8 587.9,473.8 592.1,472.8 596.3,471.8 600.6,470.7 604.8,469.7 609.0,468.6 613.2,467.6 617.4,466.7 621.7,465.9 625.9,465.2 630.1,464.6 634.3,464.2 638.5,464.0 642.8,463.9 647.0,463.8 651.2,463.8 655.4,463.9 659.6,464.0 663.9,464.1 668.1,464.3 672.3,464.5 676.5,464.8 680.7,465.1 685.0,465.4 689.2,465.8 693.4,466.3 697.6,466.7 701.8,467.3 706.1,467.8 710.3,468.4 714.5,469.1 718.7,469.7 722.9,470.4 727.2,471.2 731.4,471.9 735.6,472.6 739.8,473.4 744.0,474.2 748.3,474.9 752.5,475.7 756.7,476.4 760.9,477.1 765.1,477.8 769.4,478.5 773.6,479.2 777.8,479.8 782.0,480.3 786.2,480.9 790.5,481.4 794.7,481.9 798.9,482.4 803.1,482.9 807.3,483.4 811.6,483.9 815.8,484.3 820.0,484.8 824.2,485.3 828.4,485.7 832.7,486.2 836.9,486.6 841.1,487.1 845.3,487.5 849.5,487.9 853.8,488.3 858.0,488.7 862.2,489.1 866.4,489.5 870.6,489.9 874.9,490.3 879.1,490.6 883.3,490.9 887.5,491.3 891.7,491.6 896.0,491.9 900.2,492.2 904.4,492.4 908.6,492.7 912.8,493.0 917.1,493.3 921.3,493.5 925.5,493.8 929.7,494.1 933.9,494.4 938.2,494.6 942.4,494.9 946.6,495.2 950.8,495.4 955.0,495.7 959.3,495.9 963.5,496.2 967.7,496.4 971.9,496.6 976.1,496.9 980.4,497.1 984.6,497.3 988.8,497.5 993.0,497.7 997.2,497.9 1001.5,498.1 1005.7,498.2 1009.9,498.4 1014.1,498.5 1018.3,498.7 1022.6,498.8 1026.8,498.9 1031.0,499.0" stroke="#7c22e2"/>
<path d="M187.0,146.5 188.7,176.2 190.4,202.6 192.1,220.2 193.8,229.5 195.4,237.6 197.1,244.5 198.8,250.3 200.5,255.0 202.2,259.6 203.9,264.0 205.6,268.3 207.3,272.4 208.9,276.3 210.6,280.0 212.3,283.7 214.0,287.4 215.7,291.0 217.4,294.7 219.1,298.3 220.8,301.8 222.4,305.3 224.1,308.6 225.8,311.8 227.5,314.8 229.2,317.6 230.9,320.3 232.6,322.9 234.3,325.5 236.0,328.0 237.6,330.4 239.3,332.8 241.0,335.2 242.7,337.4 244.4,339.6 246.1,341.6 247.8,343.6 249.5,345.4 251.1,347.2 252.8,348.8 254.5,350.2 256.2,351.6 257.9,352.9 259.6,354.2 261.3,355.4 263.0,356.5 264.6,357.7 266.3,358.8 268.0,359.9 269.7,361.0 271.4,362.1 273.1,363.2 274.8,364.3 276.5,365.5 278.2,366.7 279.8,367.9 281.5,369.1 283.2,370.4 284.9,371.7 286.6,372.9 288.3,374.2 290.0,375.5 291.7,376.8 293.3,378.1 295.0,379.4 296.7,380.7 298.4,382.0 300.1,383.4 301.8,384.8 303.5,386.2 305.2,387.7 306.8,389.2 308.5,390.7 310.2,392.3 311.9,393.9 313.6,395.6 315.3,397.4 317.0,399.2 318.7,401.1 320.4,402.9 322.0,404.8 323.7,406.7 325.4,408.6 327.1,410.4 328.8,412.3 330.5,414.1 332.2,416.1 333.9,418.0 335.5,420.0 337.2,421.9 338.9,423.7 340.6,425.5 342.3,427.2 344.0,428.7 345.7,430.2 347.4,431.6 349.0,433.1 350.7,434.4 352.4,435.8 354.1,437.1 355.8,438.4 357.5,439.6 359.2,440.8 360.9,441.9 362.6,443.0 364.2,444.0 365.9,445.0 367.6,446.0 369.3,446.9 371.0,447.9 372.7,448.8 374.4,449.8 376.1,450.7 377.7,451.6 379.4,452.6 381.1,453.4 382.8,454.3 384.5,455.1 386.2,455.9 387.9,456.7 389.6,457.4 391.2,458.1 392.9,458.7 394.6,459.3 396.3,459.8 398.0,460.3 399.7,460.7 401.4,461.1 403.1,461.5 404.8,461.9 406.4,462.3 408.1,462.7 409.8,463.1 411.5,463.4 413.2,463.8 414.9,464.2 416.6,464.5 418.3,464.9 419.9,465.2 421.6,465.6 423.3,465.9 425.0,466.2 426.7,466.6 428.4,466.9 430.1,467.2 431.8,467.5 433.4,467.9 435.1,468.2 436.8,468.5 438.5,468.8 440.2,469.1 441.9,469.4 443.6,469.7 445.3,470.0 447.0,470.3 448.6,470.6 450.3,470.9 452.0,471.2 453.7,471.4 455.4,471.7 457.1,472.0 458.8,472.3 460.5,472.6 461.3,472.8 465.5,473.5 469.7,474.3 474.0,475.0 478.2,475.8 482.4,476.7 486.6,477.5 490.8,478.3 495.1,479.1 499.3,479.9 503.5,480.7 507.7,481.5 511.9,482.3 516.2,483.0 520.4,483.7 524.6,484.4 528.8,485.0 533.0,485.6 537.3,486.1 541.5,486.6 545.7,487.0 549.9,487.4 554.1,487.7 558.4,487.9 562.6,488.0 566.8,487.9 571.0,487.7 575.2,487.5 579.5,487.1 583.7,486.8 587.9,486.3 592.1,485.9 596.3,485.4 600.6,484.9 604.8,484.5 609.0,484.1 613.2,483.7 617.4,483.4 621.7,483.2 625.9,483.1 630.1,483.1 634.3,483.3 638.5,483.5 642.8,483.9 647.0,484.4 651.2,484.9 655.4,485.5 659.6,486.1 663.9,486.8 668.1,487.4 672.3,488.1 676.5,488.8 680.7,489.5 685.0,490.1 689.2,490.7 693.4,491.3 697.6,491.7 701.8,492.2 706.1,492.7 710.3,493.2 714.5,493.7 718.7,494.2 722.9,494.7 727.2,495.2 731.4,495.7 735.6,496.2 739.8,496.7 744.0,497.2 748.3,497.6 752.5,498.1 756.7,498.6 760.9,499.0 765.1,499.5 769.4,499.9 773.6,500.3 777.8,500.8 782.0,501.2 786.2,501.5 790.5,501.9 794.7,502.3 798.9,502.6 803.1,502.9 807.3,503.2 811.6,503.5 815.8,503.8 820.0,504.0 824.2,504.2 828.4,504.4 832.7,504.7 836.9,504.9 841.1,505.1 845.3,505.3 849.5,505.5 853.8,505.7 858.0,506.0 862.2,506.2 866.4,506.4 870.6,506.6 874.9,506.8 879.1,507.0 883.3,507.2 887.5,507.3 891.7,507.5 896.0,507.7 900.2,507.9 904.4,508.1 908.6,508.2 912.8,508.4 917.1,508.6 921.3,508.7 925.5,508.9 929.7,509.0 933.9,509.2 938.2,509.3 942.4,509.4 946.6,509.6 950.8,509.7 955.0,509.8 959.3,509.9 963.5,510.0 967.7,510.1 971.9,510.2 976.1,510.3 980.4,510.4 984.6,510.5 988.8,510.5 993.0,510.6 997.2,510.7 1001.5,510.7 1005.7,510.8 1009.9,510.8 1014.1,510.8 1018.3,510.9 1022.6,510.9 1026.8,510.9 1031.0,510.9" stroke="#2010e0"/>
<path d="M187.0,134.0 188.7,167.5 190.4,198.4 192.1,221.7 193.8,233.2 195.4,241.0 197.1,247.9 198.8,253.9 200.5,259.0 202.2,263.1 203.9,266.9 205.6,270.7 207.3,274.4 208.9,278.0 210.6,281.4 212.3,284.6 214.0,287.7 215.7,290.8 217.4,293.8 219.1,296.9 220.8,299.9 222.4,302.8 224.1,305.7 225.8,308.6 227.5,311.3 229.2,313.9 230.9,316.4 232.6,318.7 234.3,321.0 236.0,323.2 237.6,325.3 239.3,327.4 241.0,329.5 242.7,331.5 244.4,333.4 246.1,335.2 247.8,337.0 249.5,338.8 251.1,340.4 252.8,342.0 254.5,343.5 256.2,345.0 257.9,346.5 259.6,348.0 261.3,349.5 263.0,351.0 264.6,352.5 266.3,353.9 268.0,355.3 269.7,356.6 271.4,357.8 273.1,359.0 274.8,360.1 276.5,361.1 278.2,362.1 279.8,362.9 281.5,363.5 283.2,364.1 284.9,364.5 286.6,364.9 288.3,365.1 290.0,365.4 291.7,365.5 293.3,365.7 295.0,365.9 296.7,366.2 298.4,366.5 300.1,366.9 301.8,367.4 303.5,368.0 305.2,368.6 306.8,369.3 308.5,370.0 310.2,370.8 311.9,371.6 313.6,372.6 315.3,373.5 317.0,374.6 318.7,375.7 320.4,376.8 322.0,378.1 323.7,379.4 325.4,381.1 327.1,383.0 328.8,385.1 330.5,387.3 332.2,389.6 333.9,391.9 335.5,394.1 337.2,396.2 338.9,398.4 340.6,400.7 342.3,403.0 344.0,405.3 345.7,407.5 347.4,409.7 349.0,411.8 350.7,413.7 352.4,415.7 354.1,417.6 355.8,419.5 357.5,421.3 359.2,423.0 360.9,424.5 362.6,425.8 364.2,426.9 365.9,427.9 367.6,428.9 369.3,429.8 371.0,430.7 372.7,431.5 374.4,432.4 376.1,433.2 377.7,434.0 379.4,434.7 381.1,435.5 382.8,436.3 384.5,437.0 386.2,437.8 387.9,438.5 389.6,439.3 391.2,440.1 392.9,440.9 394.6,441.7 396.3,442.6 398.0,443.5 399.7,444.4 401.4,445.3 403.1,446.2 404.8,447.1 406.4,448.0 408.1,448.9 409.8,449.8 411.5,450.6 413.2,451.3 414.9,452.1 416.6,452.7 418.3,453.3 419.9,453.8 421.6,454.3 423.3,454.7 425.0,455.1 426.7,455.5 428.4,455.8 430.1,456.2 431.8,456.5 433.4,456.8 435.1,457.1 436.8,457.4 438.5,457.7 440.2,458.0 441.9,458.2 443.6,458.5 445.3,458.7 447.0,459.0 448.6,459.2 450.3,459.5 452.0,459.7 453.7,459.9 455.4,460.2 457.1,460.4 458.8,460.6 460.5,460.9 461.3,461.0 465.5,461.6 469.7,462.3 474.0,463.0 478.2,463.8 482.4,464.6 486.6,465.6 490.8,466.5 495.1,467.5 499.3,468.4 503.5,469.4 507.7,470.4 511.9,471.3 516.2,472.1 520.4,472.9 524.6,473.7 528.8,474.3 533.0,474.8 537.3,475.2 541.5,475.5 545.7,475.8 549.9,475.9 554.1,475.9 558.4,475.8 562.6,475.7 566.8,475.5 571.0,475.3 575.2,475.0 579.5,474.6 583.7,474.2 587.9,473.5 592.1,472.8 596.3,471.9 600.6,471.0 604.8,470.1 609.0,469.1 613.2,468.1 617.4,467.2 621.7,466.4 625.9,465.7 630.1,465.2 634.3,464.8 638.5,464.6 642.8,464.6 647.0,464.7 651.2,464.9 655.4,465.1 659.6,465.4 663.9,465.7 668.1,466.1 672.3,466.5 676.5,466.9 680.7,467.4 685.0,467.9 689.2,468.3 693.4,468.8 697.6,469.2 701.8,469.7 706.1,470.2 710.3,470.7 714.5,471.2 718.7,471.7 722.9,472.2 727.2,472.8 731.4,473.3 735.6,473.9 739.8,474.4 744.0,474.9 748.3,475.5 752.5,476.0 756.7,476.5 760.9,477.0 765.1,477.5 769.4,478.0 773.6,478.4 777.8,478.9 782.0,479.3 786.2,479.6 790.5,480.0 794.7,480.3 798.9,480.7 803.1,481.0 807.3,481.3 811.6,481.6 815.8,481.9 820.0,482.3 824.2,482.6 828.4,482.8 832.7,483.1 836.9,483.4 841.1,483.7 845.3,484.0 849.5,484.2 853.8,484.5 858.0,484.8 862.2,485.0 866.4,485.3 870.6,485.5 874.9,485.8 879.1,486.0 883.3,486.2 887.5,486.5 891.7,486.7 896.0,486.9 900.2,487.1 904.4,487.4 908.6,487.6 912.8,487.8 917.1,488.0 921.3,488.3 925.5,488.5 929.7,488.7 933.9,488.9 938.2,489.2 942.4,489.4 946.6,489.6 950.8,489.8 955.0,490.0 959.3,490.2 963.5,490.4 967.7,490.7 971.9,490.9 976.1,491.1 980.4,491.3 984.6,491.5 988.8,491.7 993.0,491.8 997.2,492.0 1001.5,492.2 1005.7,492.4 1009.9,492.6 1014.1,492.7 1018.3,492.9 1022.6,493.1 1026.8,493.2 1031.0,493.4" stroke="#d21ee4"/>
<path d="M189.1,121.5 190.8,126.9 192.5,132.2 194.2,137.4 195.9,142.5 197.6,147.6 199.2,152.5 200.9,157.2 202.6,161.9 204.3,166.4 206.0,170.9 207.7,175.2 209.4,179.5 211.1,183.7 212.7,187.9 214.4,192.0 216.1,196.3 217.8,200.5 219.5,204.5 221.2,207.8 222.9,210.7 224.6,213.5 226.2,216.0 227.9,217.9 229.6,219.1 231.3,219.3 233.0,218.9 234.7,218.1 236.4,216.9 238.1,215.5 239.8,213.9 241.4,212.2 243.1,210.5 244.8,208.6 246.5,206.5 248.2,204.4 249.9,202.3 251.6,200.1 253.3,198.0 254.9,196.0 256.6,194.0 258.3,192.0 260.0,190.0 261.7,188.1 263.4,186.1 265.1,184.3 266.8,182.6 268.4,181.0 270.1,179.5 271.8,178.2 273.5,176.8 275.2,175.6 276.9,174.5 278.6,173.7 280.3,173.0 282.0,172.7 283.6,172.7 285.3,173.1 287.0,173.7 288.7,174.5 290.4,175.4 292.1,176.3 293.8,177.3 295.5,178.6 297.1,180.2 298.8,182.0 300.5,184.1 302.2,186.3 303.9,188.7 305.6,191.5 307.3,194.7 309.0,198.4 310.6,202.4 312.3,206.7 314.0,211.2 315.7,215.8 317.4,220.4 319.1,225.0 320.8,229.8 322.5,234.9 324.2,240.1 325.8,245.4 327.5,250.7 329.2,256.1 330.9,261.6 332.6,266.9 334.3,272.3 336.0,277.5 337.7,282.6 339.3,287.7 341.0,292.8 342.7,297.8 344.4,302.9 346.1,307.9 347.8,313.0 349.5,318.0 351.2,323.1 352.8,328.3 354.5,333.5 356.2,338.8 357.9,343.9 359.6,349.0 361.3,354.0 363.0,358.8 364.7,363.4 366.4,367.9 368.0,372.4 369.7,376.7 371.4,381.0 373.1,385.0 374.8,388.9 376.5,392.5 378.2,395.9 379.9,399.2 381.5,402.3 383.2,405.3 384.9,408.2 386.6,410.9 388.3,413.4 390.0,415.8 391.7,418.2 393.4,420.5 395.0,422.7 396.7,424.9 398.4,427.0 400.1,429.0 401.8,430.9 403.5,432.9 405.2,434.7 406.9,436.5 408.6,438.2 410.2,439.9 411.9,441.4 413.6,443.0 415.3,444.6 417.0,446.1 418.7,447.4 420.4,448.5 422.1,449.4 423.7,450.3 425.4,451.1 427.1,451.9 428.8,452.7 430.5,453.4 432.2,454.1 433.9,454.8 435.6,455.4 437.2,455.9 438.9,456.4 440.6,456.9 442.3,457.3 444.0,457.7 445.7,458.1 447.4,458.5 449.1,458.8 450.8,459.1 452.4,459.4 454.1,459.7 455.8,460.0 457.5,460.2 459.2,460.5 460.9,460.7 461.3,460.8 465.5,461.4 469.7,462.0 474.0,462.6 478.2,463.3 482.4,464.0 486.6,464.9 490.8,465.9 495.1,467.1 499.3,468.5 503.5,470.1 507.7,471.8 511.9,473.5 516.2,475.4 520.4,477.3 524.6,479.2 528.8,481.1 533.0,482.9 537.3,484.6 541.5,486.2 545.7,487.7 549.9,489.0 554.1,490.1 558.4,491.0 562.6,491.8 566.8,492.6 571.0,493.3 575.2,493.9 579.5,494.5 583.7,495.0 587.9,495.5 592.1,496.0 596.3,496.5 600.6,497.0 604.8,497.5 609.0,498.0 613.2,498.5 617.4,499.0 621.7,499.4 625.9,499.8 630.1,500.3 634.3,500.7 638.5,501.1 642.8,501.5 647.0,501.8 651.2,502.2 655.4,502.6 659.6,503.0 663.9,503.3 668.1,503.7 672.3,504.1 676.5,504.4 680.7,504.8 685.0,505.1 689.2,505.5 693.4,505.8 697.6,506.2 701.8,506.5 706.1,506.8 710.3,507.2 714.5,507.5 718.7,507.8 722.9,508.1 727.2,508.4 731.4,508.7 735.6,509.0 739.8,509.3 744.0,509.6 748.3,509.9 752.5,510.2 756.7,510.5 760.9,510.8 765.1,511.0 769.4,511.3 773.6,511.6 777.8,511.9 782.0,512.1 786.2,512.4 790.5,512.6 794.7,512.9 798.9,513.1 803.1,513.3 807.3,513.5 811.6,513.7 815.8,513.9 820.0,514.0 824.2,514.1 828.4,514.3 832.7,514.4 836.9,514.5 841.1,514.6 845.3,514.8 849.5,514.9 853.8,515.0 858.0,515.1 862.2,515.2 866.4,515.3 870.6,515.4 874.9,515.5 879.1,515.6 883.3,515.7 887.5,515.8 891.7,515.9 896.0,516.0 900.2,516.1 904.4,516.2 908.6,516.2 912.8,516.3 917.1,516.4 921.3,516.4 925.5,516.5 929.7,516.6 933.9,516.6 938.2,516.7 942.4,516.7 946.6,516.8 950.8,516.9 955.0,516.9 959.3,517.0 963.5,517.0 967.7,517.1 971.9,517.2 976.1,517.2 980.4,517.3 984.6,517.3 988.8,517.4 993.0,517.4 997.2,517.5 1001.5,517.5 1005.7,517.6 1009.9,517.6 1014.1,517.6 1018.3,517.7 1022.6,517.7 1026.8,517.7 1031.0,517.8" stroke="#0a0a0a"/>
<path d="M187.0,134.0 188.7,149.1 190.4,163.3 192.1,175.9 193.8,186.4 195.4,196.0 197.1,205.1 198.8,213.5 200.5,221.1 202.2,227.8 203.9,233.5 205.6,238.9 207.3,244.0 208.9,248.7 210.6,253.1 212.3,257.0 214.0,260.7 215.7,264.5 217.4,268.1 219.1,271.5 220.8,274.5 222.4,276.9 224.1,278.8 225.8,280.5 227.5,282.1 229.2,283.7 230.9,285.1 232.6,286.3 234.3,287.1 236.0,287.7 237.6,287.7 239.3,287.7 241.0,287.6 242.7,287.4 244.4,287.3 246.1,287.1 247.8,286.9 249.5,286.7 251.1,286.4 252.8,286.2 254.5,285.9 256.2,285.6 257.9,285.2 259.6,284.8 261.3,284.4 263.0,283.9 264.6,283.5 266.3,283.1 268.0,282.7 269.7,282.3 271.4,282.0 273.1,281.7 274.8,281.5 276.5,281.5 278.2,281.7 279.8,282.2 281.5,282.8 283.2,283.7 284.9,284.6 286.6,285.7 288.3,286.9 290.0,288.1 291.7,289.4 293.3,290.7 295.0,292.0 296.7,293.5 298.4,295.3 300.1,297.3 301.8,299.6 303.5,302.1 305.2,304.6 306.8,307.2 308.5,309.7 310.2,312.3 311.9,314.9 313.6,317.7 315.3,320.7 317.0,323.7 318.7,326.9 320.4,330.1 322.0,333.5 323.7,337.0 325.4,340.8 327.1,344.8 328.8,348.9 330.5,353.1 332.2,357.3 333.9,361.6 335.5,365.8 337.2,370.0 338.9,374.4 340.6,378.9 342.3,383.5 344.0,387.9 345.7,392.3 347.4,396.3 349.0,400.0 350.7,403.3 352.4,406.4 354.1,409.3 355.8,412.1 357.5,414.6 359.2,417.0 360.9,419.2 362.6,421.2 364.2,423.0 365.9,424.7 367.6,426.3 369.3,428.0 371.0,429.5 372.7,431.1 374.4,432.6 376.1,434.0 377.7,435.4 379.4,436.8 381.1,438.1 382.8,439.3 384.5,440.6 386.2,441.8 387.9,443.0 389.6,444.1 391.2,445.3 392.9,446.5 394.6,447.6 396.3,448.7 398.0,449.7 399.7,450.7 401.4,451.6 403.1,452.4 404.8,453.3 406.4,454.1 408.1,454.9 409.8,455.8 411.5,456.6 413.2,457.4 414.9,458.1 416.6,458.9 418.3,459.7 419.9,460.4 421.6,461.2 423.3,461.9 425.0,462.6 426.7,463.3 428.4,464.0 430.1,464.7 431.8,465.3 433.4,466.0 435.1,466.6 436.8,467.2 438.5,467.8 440.2,468.4 441.9,468.9 443.6,469.5 445.3,470.0 447.0,470.6 448.6,471.1 450.3,471.7 452.0,472.2 453.7,472.7 455.4,473.3 457.1,473.8 458.8,474.3 460.5,474.8 461.3,475.0 465.5,476.3 469.7,477.5 474.0,478.7 478.2,479.9 482.4,481.1 486.6,482.3 490.8,483.4 495.1,484.6 499.3,485.8 503.5,487.1 507.7,488.4 511.9,489.7 516.2,491.0 520.4,492.1 524.6,493.1 528.8,493.9 533.0,494.5 537.3,494.9 541.5,495.3 545.7,495.6 549.9,495.9 554.1,496.3 558.4,496.6 562.6,496.8 566.8,497.1 571.0,497.3 575.2,497.6 579.5,497.8 583.7,498.0 587.9,498.3 592.1,498.5 596.3,498.7 600.6,498.9 604.8,499.1 609.0,499.3 613.2,499.5 617.4,499.7 621.7,500.0 625.9,500.2 630.1,500.4 634.3,500.7 638.5,501.0 642.8,501.2 647.0,501.5 651.2,501.8 655.4,502.0 659.6,502.3 663.9,502.6 668.1,502.9 672.3,503.1 676.5,503.4 680.7,503.7 685.0,503.9 689.2,504.2 693.4,504.5 697.6,504.8 701.8,505.0 706.1,505.3 710.3,505.6 714.5,505.9 718.7,506.2 722.9,506.5 727.2,506.8 731.4,507.1 735.6,507.4 739.8,507.7 744.0,508.0 748.3,508.3 752.5,508.6 756.7,508.9 760.9,509.2 765.1,509.5 769.4,509.8 773.6,510.1 777.8,510.4 782.0,510.7 786.2,510.9 790.5,511.2 794.7,511.5 798.9,511.7 803.1,512.0 807.3,512.2 811.6,512.4 815.8,512.7 820.0,512.9 824.2,513.1 828.4,513.2 832.7,513.4 836.9,513.6 841.1,513.7 845.3,513.9 849.5,514.0 853.8,514.2 858.0,514.3 862.2,514.4 866.4,514.6 870.6,514.7 874.9,514.8 879.1,514.9 883.3,515.0 887.5,515.1 891.7,515.2 896.0,515.3 900.2,515.4 904.4,515.5 908.6,515.6 912.8,515.7 917.1,515.7 921.3,515.8 925.5,515.9 929.7,515.9 933.9,516.0 938.2,516.1 942.4,516.1 946.6,516.2 950.8,516.3 955.0,516.3 959.3,516.4 963.5,516.4 967.7,516.5 971.9,516.6 976.1,516.6 980.4,516.7 984.6,516.7 988.8,516.8 993.0,516.8 997.2,516.9 1001.5,516.9 1005.7,517.0 1009.9,517.0 1014.1,517.0 1018.3,517.1 1022.6,517.1 1026.8,517.1 1031.0,517.1" stroke="#e2181e"/>
</g>
<clipPath id="clipb"><rect x="1302.0" y="158.5" width="846.0" height="501.5"/></clipPath>
<g clip-path="url(#clipb)" fill="none" stroke-width="3.4" stroke-linejoin="round" stroke-linecap="round">
<path d="M1302.0,146.0 1303.7,163.5 1305.4,179.9 1307.1,194.0 1308.8,204.8 1310.5,214.1 1312.2,223.1 1313.8,231.5 1315.5,239.4 1317.2,246.6 1318.9,253.1 1320.6,258.8 1322.3,263.8 1324.0,268.8 1325.7,273.6 1327.4,278.3 1329.1,282.9 1330.8,287.2 1332.5,291.3 1334.1,295.2 1335.8,298.7 1337.5,302.0 1339.2,305.2 1340.9,308.4 1342.6,311.5 1344.3,314.6 1346.0,317.5 1347.7,320.4 1349.4,323.1 1351.1,325.7 1352.8,328.2 1354.5,330.4 1356.1,332.5 1357.8,334.4 1359.5,336.4 1361.2,338.3 1362.9,340.2 1364.6,342.0 1366.3,343.8 1368.0,345.5 1369.7,347.2 1371.4,348.9 1373.1,350.4 1374.8,352.0 1376.4,353.5 1378.1,354.9 1379.8,356.3 1381.5,357.6 1383.2,358.9 1384.9,360.2 1386.6,361.4 1388.3,362.5 1390.0,363.6 1391.7,364.6 1393.4,365.4 1395.1,366.2 1396.8,366.8 1398.4,367.5 1400.1,368.0 1401.8,368.5 1403.5,369.0 1405.2,369.5 1406.9,369.9 1408.6,370.4 1410.3,371.0 1412.0,371.5 1413.7,372.1 1415.4,372.8 1417.1,373.6 1418.7,374.5 1420.4,375.4 1422.1,376.4 1423.8,377.5 1425.5,378.5 1427.2,379.7 1428.9,380.9 1430.6,382.1 1432.3,383.3 1434.0,384.6 1435.7,385.9 1437.4,387.2 1439.1,388.6 1440.7,389.9 1442.4,391.3 1444.1,392.8 1445.8,394.3 1447.5,395.9 1449.2,397.6 1450.9,399.3 1452.6,401.1 1454.3,402.8 1456.0,404.4 1457.7,406.0 1459.4,407.5 1461.0,408.8 1462.7,410.1 1464.4,411.2 1466.1,412.3 1467.8,413.5 1469.5,414.7 1471.2,416.1 1472.9,417.5 1474.6,418.9 1476.3,420.4 1478.0,421.9 1479.7,423.4 1481.4,424.9 1483.0,426.3 1484.7,427.6 1486.4,428.9 1488.1,430.1 1489.8,431.2 1491.5,432.2 1493.2,433.2 1494.9,434.2 1496.6,435.1 1498.3,436.0 1500.0,436.9 1501.7,437.8 1503.3,438.6 1505.0,439.4 1506.7,440.1 1508.4,440.8 1510.1,441.5 1511.8,442.1 1513.5,442.6 1515.2,443.1 1516.9,443.5 1518.6,443.8 1520.3,444.1 1522.0,444.5 1523.7,444.8 1525.3,445.1 1527.0,445.4 1528.7,445.7 1530.4,446.0 1532.1,446.3 1533.8,446.6 1535.5,446.9 1537.2,447.2 1538.9,447.4 1540.6,447.7 1542.3,447.9 1544.0,448.1 1545.6,448.3 1547.3,448.5 1549.0,448.7 1550.7,448.9 1552.4,449.1 1554.1,449.2 1555.8,449.4 1557.5,449.5 1559.2,449.6 1560.9,449.7 1562.6,449.9 1564.3,450.0 1566.0,450.1 1567.6,450.2 1569.3,450.3 1571.0,450.4 1572.7,450.5 1574.4,450.6 1576.1,450.7 1577.0,450.8 1581.2,451.0 1585.4,451.2 1589.6,451.4 1593.9,451.5 1598.1,451.6 1602.3,451.7 1606.6,451.8 1610.8,451.8 1615.0,451.8 1619.2,451.8 1623.5,451.6 1627.7,451.4 1631.9,450.9 1636.2,450.4 1640.4,449.7 1644.6,448.8 1648.9,447.9 1653.1,446.8 1657.3,445.7 1661.5,444.5 1665.8,443.2 1670.0,441.8 1674.2,440.2 1678.5,438.2 1682.7,435.9 1686.9,433.3 1691.2,430.7 1695.4,428.0 1699.6,425.4 1703.8,423.0 1708.1,420.7 1712.3,418.2 1716.5,415.7 1720.8,413.2 1725.0,411.0 1729.2,409.0 1733.5,407.4 1737.7,406.2 1741.9,405.3 1746.2,404.6 1750.4,404.0 1754.6,403.7 1758.8,403.6 1763.1,403.6 1767.3,403.8 1771.5,404.1 1775.8,404.7 1780.0,405.4 1784.2,406.3 1788.5,407.6 1792.7,409.3 1796.9,411.4 1801.1,413.8 1805.4,416.4 1809.6,419.1 1813.8,422.0 1818.1,424.9 1822.3,427.7 1826.5,430.5 1830.8,433.1 1835.0,435.8 1839.2,438.6 1843.4,441.4 1847.7,444.2 1851.9,447.0 1856.1,449.9 1860.4,452.7 1864.6,455.5 1868.8,458.3 1873.0,461.0 1877.3,463.7 1881.5,466.3 1885.7,469.0 1890.0,471.6 1894.2,474.2 1898.4,476.8 1902.7,479.3 1906.9,481.8 1911.1,484.3 1915.3,486.7 1919.6,489.0 1923.8,491.2 1928.0,493.5 1932.3,495.7 1936.5,497.8 1940.7,499.9 1945.0,502.0 1949.2,504.1 1953.4,506.1 1957.7,508.1 1961.9,510.1 1966.1,512.1 1970.3,514.1 1974.6,516.2 1978.8,518.2 1983.0,520.2 1987.3,522.2 1991.5,524.2 1995.7,526.1 2000.0,527.9 2004.2,529.6 2008.4,531.2 2012.6,532.7 2016.9,534.2 2021.1,535.6 2025.3,537.0 2029.6,538.4 2033.8,539.7 2038.0,541.1 2042.2,542.3 2046.5,543.6 2050.7,544.8 2054.9,546.0 2059.2,547.2 2063.4,548.3 2067.6,549.5 2071.9,550.6 2076.1,551.6 2080.3,552.7 2084.6,553.8 2088.8,554.8 2093.0,555.9 2097.2,556.9 2101.5,557.9 2105.7,559.0 2109.9,560.0 2114.2,560.9 2118.4,561.9 2122.6,562.9 2126.8,563.8 2131.1,564.7 2135.3,565.5 2139.5,566.4 2143.8,567.2 2148.0,568.0" stroke="#d21ee4"/>
<path d="M1302.0,154.1 1303.7,173.5 1305.4,191.6 1307.1,207.6 1308.8,221.2 1310.5,234.2 1312.2,245.1 1313.8,253.5 1315.5,261.2 1317.2,268.2 1318.9,274.8 1320.6,281.2 1322.3,287.6 1324.0,293.6 1325.7,298.3 1327.4,302.6 1329.1,306.7 1330.8,310.6 1332.5,314.3 1334.1,317.9 1335.8,321.5 1337.5,324.9 1339.2,327.8 1340.9,330.6 1342.6,333.5 1344.3,336.3 1346.0,339.0 1347.7,341.6 1349.4,344.1 1351.1,346.4 1352.8,348.6 1354.5,350.6 1356.1,352.5 1357.8,354.2 1359.5,355.9 1361.2,357.5 1362.9,359.0 1364.6,360.5 1366.3,362.0 1368.0,363.4 1369.7,364.9 1371.4,366.3 1373.1,367.6 1374.8,369.0 1376.4,370.4 1378.1,371.8 1379.8,373.1 1381.5,374.6 1383.2,376.0 1384.9,377.3 1386.6,378.6 1388.3,379.7 1390.0,380.8 1391.7,381.9 1393.4,383.0 1395.1,384.0 1396.8,385.0 1398.4,386.0 1400.1,387.0 1401.8,388.0 1403.5,389.0 1405.2,390.0 1406.9,391.0 1408.6,392.0 1410.3,393.0 1412.0,394.0 1413.7,395.0 1415.4,396.1 1417.1,397.1 1418.7,398.1 1420.4,399.1 1422.1,400.2 1423.8,401.2 1425.5,402.3 1427.2,403.5 1428.9,404.6 1430.6,405.8 1432.3,407.0 1434.0,408.2 1435.7,409.4 1437.4,410.6 1439.1,411.9 1440.7,413.2 1442.4,414.5 1444.1,415.8 1445.8,417.1 1447.5,418.5 1449.2,419.8 1450.9,421.1 1452.6,422.4 1454.3,423.6 1456.0,424.8 1457.7,426.0 1459.4,427.1 1461.0,428.1 1462.7,429.1 1464.4,430.2 1466.1,431.2 1467.8,432.2 1469.5,433.3 1471.2,434.3 1472.9,435.3 1474.6,436.3 1476.3,437.2 1478.0,438.2 1479.7,439.1 1481.4,440.0 1483.0,440.9 1484.7,441.7 1486.4,442.5 1488.1,443.3 1489.8,444.0 1491.5,444.7 1493.2,445.3 1494.9,445.9 1496.6,446.4 1498.3,446.9 1500.0,447.3 1501.7,447.6 1503.3,448.0 1505.0,448.4 1506.7,448.7 1508.4,449.1 1510.1,449.4 1511.8,449.7 1513.5,450.0 1515.2,450.3 1516.9,450.6 1518.6,450.9 1520.3,451.2 1522.0,451.5 1523.7,451.7 1525.3,452.0 1527.0,452.3 1528.7,452.5 1530.4,452.8 1532.1,453.0 1533.8,453.2 1535.5,453.5 1537.2,453.7 1538.9,453.9 1540.6,454.2 1542.3,454.4 1544.0,454.6 1545.6,454.8 1547.3,455.0 1549.0,455.2 1550.7,455.5 1552.4,455.7 1554.1,455.9 1555.8,456.1 1557.5,456.3 1559.2,456.5 1560.9,456.7 1562.6,456.9 1564.3,457.1 1566.0,457.3 1567.6,457.5 1569.3,457.6 1571.0,457.8 1572.7,457.9 1574.4,458.0 1576.1,458.1 1577.0,458.2 1581.2,458.5 1585.4,458.7 1589.6,458.9 1593.9,459.0 1598.1,459.2 1602.3,459.3 1606.6,459.3 1610.8,459.4 1615.0,459.4 1619.2,459.4 1623.5,459.3 1627.7,459.0 1631.9,458.6 1636.2,458.0 1640.4,457.3 1644.6,456.6 1648.9,455.7 1653.1,454.9 1657.3,453.9 1661.5,452.5 1665.8,450.9 1670.0,449.1 1674.2,447.0 1678.5,444.9 1682.7,442.7 1686.9,440.4 1691.2,438.2 1695.4,435.9 1699.6,433.5 1703.8,431.0 1708.1,428.4 1712.3,426.0 1716.5,423.6 1720.8,421.2 1725.0,418.9 1729.2,416.5 1733.5,413.9 1737.7,411.4 1741.9,409.2 1746.2,407.2 1750.4,405.9 1754.6,405.8 1758.8,406.8 1763.1,408.6 1767.3,410.9 1771.5,413.5 1775.8,419.0 1780.0,425.0 1784.2,431.3 1788.5,437.8 1792.7,444.4 1796.9,451.1 1801.1,457.7 1805.4,464.1 1809.6,470.5 1813.8,477.0 1818.1,483.4 1822.3,489.9 1826.5,496.3 1830.8,502.6 1835.0,508.8 1839.2,514.7 1843.4,520.6 1847.7,526.0 1851.9,530.6 1856.1,534.6 1860.4,538.3 1864.6,541.7 1868.8,545.0 1873.0,548.2 1877.3,551.3 1881.5,554.6 1885.7,557.9 1890.0,561.1 1894.2,564.4 1898.4,567.5 1902.7,570.5 1906.9,573.3 1911.1,575.9 1915.3,578.2 1919.6,580.2 1923.8,581.9 1928.0,583.6 1932.3,585.2 1936.5,586.8 1940.7,588.3 1945.0,589.7 1949.2,591.1 1953.4,592.4 1957.7,593.7 1961.9,595.0 1966.1,596.3 1970.3,597.5 1974.6,598.7 1978.8,599.9 1983.0,601.0 1987.3,602.2 1991.5,603.5 1995.7,604.7 2000.0,606.0 2004.2,607.0 2008.4,607.9 2012.6,608.5 2016.9,609.1 2021.1,609.7 2025.3,610.2 2029.6,610.7 2033.8,611.2 2038.0,611.6 2042.2,612.1 2046.5,612.5 2050.7,612.9 2054.9,613.3 2059.2,613.7 2063.4,614.1 2067.6,614.5 2071.9,614.8 2076.1,615.2 2080.3,615.5 2084.6,615.9 2088.8,616.2 2093.0,616.6 2097.2,616.9 2101.5,617.3 2105.7,617.6 2109.9,618.0 2114.2,618.3 2118.4,618.6 2122.6,618.9 2126.8,619.3 2131.1,619.6 2135.3,619.9 2139.5,620.1 2143.8,620.4 2148.0,620.6" stroke="#9a8a1c"/>
<path d="M1302.0,152.9 1303.7,171.6 1305.4,189.2 1307.1,205.1 1308.8,218.7 1310.5,230.9 1312.2,241.2 1313.8,249.6 1315.5,257.3 1317.2,264.5 1318.9,271.3 1320.6,277.7 1322.3,283.9 1324.0,289.6 1325.7,294.3 1327.4,298.6 1329.1,302.8 1330.8,306.8 1332.5,310.6 1334.1,314.4 1335.8,318.0 1337.5,321.3 1339.2,324.2 1340.9,327.1 1342.6,330.0 1344.3,332.8 1346.0,335.6 1347.7,338.2 1349.4,340.8 1351.1,343.2 1352.8,345.4 1354.5,347.5 1356.1,349.4 1357.8,351.2 1359.5,352.9 1361.2,354.5 1362.9,356.1 1364.6,357.6 1366.3,359.1 1368.0,360.6 1369.7,362.0 1371.4,363.4 1373.1,364.8 1374.8,366.2 1376.4,367.6 1378.1,369.0 1379.8,370.4 1381.5,371.8 1383.2,373.2 1384.9,374.5 1386.6,375.7 1388.3,376.9 1390.0,378.0 1391.7,379.1 1393.4,380.2 1395.1,381.3 1396.8,382.3 1398.4,383.4 1400.1,384.4 1401.8,385.5 1403.5,386.5 1405.2,387.6 1406.9,388.6 1408.6,389.6 1410.3,390.7 1412.0,391.7 1413.7,392.7 1415.4,393.8 1417.1,394.8 1418.7,395.9 1420.4,396.9 1422.1,398.0 1423.8,399.1 1425.5,400.2 1427.2,401.4 1428.9,402.5 1430.6,403.7 1432.3,404.9 1434.0,406.1 1435.7,407.3 1437.4,408.5 1439.1,409.8 1440.7,411.1 1442.4,412.5 1444.1,413.9 1445.8,415.2 1447.5,416.6 1449.2,418.0 1450.9,419.3 1452.6,420.6 1454.3,421.9 1456.0,423.2 1457.7,424.3 1459.4,425.5 1461.0,426.5 1462.7,427.6 1464.4,428.6 1466.1,429.7 1467.8,430.7 1469.5,431.7 1471.2,432.7 1472.9,433.8 1474.6,434.7 1476.3,435.7 1478.0,436.7 1479.7,437.6 1481.4,438.5 1483.0,439.4 1484.7,440.2 1486.4,441.0 1488.1,441.8 1489.8,442.5 1491.5,443.2 1493.2,443.8 1494.9,444.4 1496.6,444.9 1498.3,445.4 1500.0,445.8 1501.7,446.2 1503.3,446.6 1505.0,446.9 1506.7,447.3 1508.4,447.7 1510.1,448.0 1511.8,448.3 1513.5,448.7 1515.2,449.0 1516.9,449.3 1518.6,449.6 1520.3,449.9 1522.0,450.2 1523.7,450.5 1525.3,450.8 1527.0,451.0 1528.7,451.3 1530.4,451.6 1532.1,451.8 1533.8,452.1 1535.5,452.3 1537.2,452.5 1538.9,452.8 1540.6,453.0 1542.3,453.2 1544.0,453.4 1545.6,453.6 1547.3,453.8 1549.0,454.0 1550.7,454.2 1552.4,454.4 1554.1,454.6 1555.8,454.8 1557.5,455.0 1559.2,455.2 1560.9,455.4 1562.6,455.6 1564.3,455.7 1566.0,455.9 1567.6,456.1 1569.3,456.2 1571.0,456.3 1572.7,456.5 1574.4,456.6 1576.1,456.7 1577.0,456.8 1581.2,457.0 1585.4,457.3 1589.6,457.5 1593.9,457.6 1598.1,457.8 1602.3,457.9 1606.6,458.0 1610.8,458.1 1615.0,458.1 1619.2,458.1 1623.5,458.0 1627.7,457.7 1631.9,457.2 1636.2,456.6 1640.4,455.8 1644.6,455.0 1648.9,454.1 1653.1,453.2 1657.3,452.2 1661.5,450.9 1665.8,449.3 1670.0,447.5 1674.2,445.5 1678.5,443.4 1682.7,441.2 1686.9,439.0 1691.2,436.8 1695.4,434.5 1699.6,432.0 1703.8,429.4 1708.1,426.8 1712.3,424.2 1716.5,421.8 1720.8,419.4 1725.0,417.0 1729.2,414.6 1733.5,412.0 1737.7,409.4 1741.9,407.0 1746.2,405.1 1750.4,403.8 1754.6,403.8 1758.8,404.8 1763.1,406.7 1767.3,409.0 1771.5,411.4 1775.8,416.7 1780.0,422.6 1784.2,428.9 1788.5,435.5 1792.7,442.3 1796.9,449.2 1801.1,455.9 1805.4,462.5 1809.6,469.0 1813.8,475.6 1818.1,482.2 1822.3,488.9 1826.5,495.4 1830.8,501.8 1835.0,508.1 1839.2,514.1 1843.4,519.7 1847.7,525.0 1851.9,529.5 1856.1,533.5 1860.4,537.3 1864.6,540.9 1868.8,544.4 1873.0,547.6 1877.3,550.8 1881.5,554.0 1885.7,557.2 1890.0,560.5 1894.2,563.6 1898.4,566.7 1902.7,569.6 1906.9,572.3 1911.1,574.8 1915.3,577.0 1919.6,579.0 1923.8,580.7 1928.0,582.4 1932.3,584.1 1936.5,585.6 1940.7,587.2 1945.0,588.6 1949.2,590.0 1953.4,591.4 1957.7,592.7 1961.9,594.0 1966.1,595.3 1970.3,596.5 1974.6,597.7 1978.8,598.9 1983.0,600.0 1987.3,601.1 1991.5,602.3 1995.7,603.5 2000.0,604.6 2004.2,605.6 2008.4,606.4 2012.6,607.1 2016.9,607.7 2021.1,608.2 2025.3,608.8 2029.6,609.3 2033.8,609.9 2038.0,610.4 2042.2,610.8 2046.5,611.3 2050.7,611.8 2054.9,612.2 2059.2,612.6 2063.4,613.0 2067.6,613.4 2071.9,613.8 2076.1,614.2 2080.3,614.5 2084.6,614.9 2088.8,615.2 2093.0,615.6 2097.2,615.9 2101.5,616.3 2105.7,616.6 2109.9,617.0 2114.2,617.3 2118.4,617.6 2122.6,618.0 2126.8,618.3 2131.1,618.5 2135.3,618.8 2139.5,619.1 2143.8,619.3 2148.0,619.5" stroke="#7a1418"/>
<path d="M1302.0,151.6 1303.7,169.7 1305.4,186.8 1307.1,202.7 1308.8,216.2 1310.5,227.6 1312.2,237.3 1313.8,245.6 1315.5,253.4 1317.2,260.8 1318.9,267.8 1320.6,274.3 1322.3,280.3 1324.0,285.6 1325.7,290.2 1327.4,294.6 1329.1,298.9 1330.8,303.0 1332.5,307.0 1334.1,310.8 1335.8,314.5 1337.5,317.8 1339.2,320.7 1340.9,323.6 1342.6,326.5 1344.3,329.4 1346.0,332.2 1347.7,334.9 1349.4,337.5 1351.1,340.0 1352.8,342.3 1354.5,344.4 1356.1,346.3 1357.8,348.1 1359.5,349.9 1361.2,351.5 1362.9,353.2 1364.6,354.7 1366.3,356.2 1368.0,357.7 1369.7,359.2 1371.4,360.6 1373.1,362.0 1374.8,363.4 1376.4,364.8 1378.1,366.2 1379.8,367.6 1381.5,368.9 1383.2,370.3 1384.9,371.6 1386.6,372.9 1388.3,374.1 1390.0,375.2 1391.7,376.4 1393.4,377.5 1395.1,378.6 1396.8,379.7 1398.4,380.8 1400.1,381.8 1401.8,382.9 1403.5,384.0 1405.2,385.1 1406.9,386.2 1408.6,387.2 1410.3,388.3 1412.0,389.4 1413.7,390.4 1415.4,391.5 1417.1,392.6 1418.7,393.7 1420.4,394.7 1422.1,395.8 1423.8,397.0 1425.5,398.1 1427.2,399.2 1428.9,400.4 1430.6,401.6 1432.3,402.8 1434.0,404.0 1435.7,405.2 1437.4,406.5 1439.1,407.8 1440.7,409.1 1442.4,410.5 1444.1,411.9 1445.8,413.3 1447.5,414.7 1449.2,416.2 1450.9,417.6 1452.6,418.9 1454.3,420.2 1456.0,421.5 1457.7,422.7 1459.4,423.8 1461.0,424.9 1462.7,426.0 1464.4,427.0 1466.1,428.1 1467.8,429.1 1469.5,430.2 1471.2,431.2 1472.9,432.2 1474.6,433.2 1476.3,434.2 1478.0,435.1 1479.7,436.1 1481.4,437.0 1483.0,437.8 1484.7,438.7 1486.4,439.5 1488.1,440.2 1489.8,441.0 1491.5,441.7 1493.2,442.3 1494.9,442.9 1496.6,443.4 1498.3,443.9 1500.0,444.3 1501.7,444.7 1503.3,445.1 1505.0,445.5 1506.7,445.9 1508.4,446.3 1510.1,446.6 1511.8,447.0 1513.5,447.3 1515.2,447.7 1516.9,448.0 1518.6,448.3 1520.3,448.6 1522.0,449.0 1523.7,449.3 1525.3,449.5 1527.0,449.8 1528.7,450.1 1530.4,450.4 1532.1,450.6 1533.8,450.9 1535.5,451.1 1537.2,451.3 1538.9,451.6 1540.6,451.8 1542.3,452.0 1544.0,452.2 1545.6,452.4 1547.3,452.6 1549.0,452.8 1550.7,453.0 1552.4,453.1 1554.1,453.3 1555.8,453.5 1557.5,453.7 1559.2,453.9 1560.9,454.0 1562.6,454.2 1564.3,454.4 1566.0,454.5 1567.6,454.6 1569.3,454.8 1571.0,454.9 1572.7,455.0 1574.4,455.1 1576.1,455.3 1577.0,455.3 1581.2,455.6 1585.4,455.8 1589.6,456.0 1593.9,456.2 1598.1,456.4 1602.3,456.5 1606.6,456.6 1610.8,456.7 1615.0,456.8 1619.2,456.8 1623.5,456.7 1627.7,456.3 1631.9,455.8 1636.2,455.1 1640.4,454.3 1644.6,453.5 1648.9,452.5 1653.1,451.6 1657.3,450.5 1661.5,449.2 1665.8,447.6 1670.0,445.9 1674.2,443.9 1678.5,441.9 1682.7,439.7 1686.9,437.6 1691.2,435.4 1695.4,433.0 1699.6,430.4 1703.8,427.8 1708.1,425.1 1712.3,422.5 1716.5,420.0 1720.8,417.6 1725.0,415.2 1729.2,412.7 1733.5,410.0 1737.7,407.3 1741.9,404.9 1746.2,402.9 1750.4,401.7 1754.6,401.8 1758.8,402.9 1763.1,404.8 1767.3,407.1 1771.5,409.4 1775.8,414.4 1780.0,420.2 1784.2,426.5 1788.5,433.3 1792.7,440.2 1796.9,447.2 1801.1,454.2 1805.4,460.9 1809.6,467.5 1813.8,474.2 1818.1,481.0 1822.3,487.8 1826.5,494.6 1830.8,501.1 1835.0,507.4 1839.2,513.4 1843.4,518.9 1847.7,524.0 1851.9,528.4 1856.1,532.5 1860.4,536.4 1864.6,540.2 1868.8,543.7 1873.0,547.1 1877.3,550.2 1881.5,553.4 1885.7,556.6 1890.0,559.8 1894.2,562.8 1898.4,565.8 1902.7,568.6 1906.9,571.3 1911.1,573.7 1915.3,575.9 1919.6,577.8 1923.8,579.6 1928.0,581.3 1932.3,582.9 1936.5,584.5 1940.7,586.0 1945.0,587.5 1949.2,589.0 1953.4,590.4 1957.7,591.7 1961.9,593.0 1966.1,594.3 1970.3,595.5 1974.6,596.7 1978.8,597.8 1983.0,599.0 1987.3,600.1 1991.5,601.1 1995.7,602.2 2000.0,603.2 2004.2,604.2 2008.4,605.0 2012.6,605.6 2016.9,606.2 2021.1,606.8 2025.3,607.4 2029.6,608.0 2033.8,608.5 2038.0,609.1 2042.2,609.6 2046.5,610.1 2050.7,610.6 2054.9,611.1 2059.2,611.5 2063.4,612.0 2067.6,612.4 2071.9,612.8 2076.1,613.1 2080.3,613.5 2084.6,613.9 2088.8,614.2 2093.0,614.6 2097.2,615.0 2101.5,615.3 2105.7,615.7 2109.9,616.0 2114.2,616.3 2118.4,616.7 2122.6,617.0 2126.8,617.3 2131.1,617.5 2135.3,617.8 2139.5,618.0 2143.8,618.2 2148.0,618.4" stroke="#1f7d24"/>
<path d="M1302.0,150.4 1303.7,167.7 1305.4,184.4 1307.1,200.2 1308.8,213.7 1310.5,224.3 1312.2,233.4 1313.8,241.6 1315.5,249.6 1317.2,257.2 1318.9,264.3 1320.6,270.8 1322.3,276.6 1324.0,281.7 1325.7,286.2 1327.4,290.6 1329.1,295.0 1330.8,299.2 1332.5,303.3 1334.1,307.2 1335.8,310.9 1337.5,314.2 1339.2,317.1 1340.9,320.1 1342.6,323.0 1344.3,325.9 1346.0,328.8 1347.7,331.5 1349.4,334.2 1351.1,336.7 1352.8,339.1 1354.5,341.3 1356.1,343.2 1357.8,345.1 1359.5,346.9 1361.2,348.6 1362.9,350.2 1364.6,351.8 1366.3,353.4 1368.0,354.9 1369.7,356.4 1371.4,357.8 1373.1,359.2 1374.8,360.6 1376.4,362.0 1378.1,363.4 1379.8,364.8 1381.5,366.1 1383.2,367.5 1384.9,368.8 1386.6,370.0 1388.3,371.3 1390.0,372.4 1391.7,373.6 1393.4,374.8 1395.1,375.9 1396.8,377.0 1398.4,378.1 1400.1,379.3 1401.8,380.4 1403.5,381.5 1405.2,382.6 1406.9,383.7 1408.6,384.8 1410.3,385.9 1412.0,387.0 1413.7,388.1 1415.4,389.2 1417.1,390.3 1418.7,391.4 1420.4,392.6 1422.1,393.7 1423.8,394.8 1425.5,396.0 1427.2,397.1 1428.9,398.3 1430.6,399.4 1432.3,400.6 1434.0,401.9 1435.7,403.1 1437.4,404.4 1439.1,405.7 1440.7,407.1 1442.4,408.5 1444.1,410.0 1445.8,411.4 1447.5,412.9 1449.2,414.3 1450.9,415.8 1452.6,417.2 1454.3,418.5 1456.0,419.8 1457.7,421.1 1459.4,422.2 1461.0,423.3 1462.7,424.4 1464.4,425.5 1466.1,426.5 1467.8,427.6 1469.5,428.6 1471.2,429.7 1472.9,430.7 1474.6,431.7 1476.3,432.7 1478.0,433.6 1479.7,434.5 1481.4,435.5 1483.0,436.3 1484.7,437.2 1486.4,438.0 1488.1,438.7 1489.8,439.5 1491.5,440.2 1493.2,440.8 1494.9,441.4 1496.6,441.9 1498.3,442.4 1500.0,442.9 1501.7,443.3 1503.3,443.7 1505.0,444.1 1506.7,444.5 1508.4,444.9 1510.1,445.3 1511.8,445.6 1513.5,446.0 1515.2,446.4 1516.9,446.7 1518.6,447.0 1520.3,447.4 1522.0,447.7 1523.7,448.0 1525.3,448.3 1527.0,448.6 1528.7,448.9 1530.4,449.2 1532.1,449.4 1533.8,449.7 1535.5,449.9 1537.2,450.2 1538.9,450.4 1540.6,450.6 1542.3,450.8 1544.0,451.0 1545.6,451.2 1547.3,451.3 1549.0,451.5 1550.7,451.7 1552.4,451.9 1554.1,452.0 1555.8,452.2 1557.5,452.4 1559.2,452.5 1560.9,452.7 1562.6,452.8 1564.3,453.0 1566.0,453.1 1567.6,453.2 1569.3,453.4 1571.0,453.5 1572.7,453.6 1574.4,453.7 1576.1,453.8 1577.0,453.9 1581.2,454.1 1585.4,454.4 1589.6,454.6 1593.9,454.8 1598.1,455.0 1602.3,455.2 1606.6,455.3 1610.8,455.4 1615.0,455.5 1619.2,455.5 1623.5,455.4 1627.7,455.0 1631.9,454.4 1636.2,453.7 1640.4,452.9 1644.6,451.9 1648.9,450.9 1653.1,449.9 1657.3,448.8 1661.5,447.5 1665.8,446.0 1670.0,444.3 1674.2,442.4 1678.5,440.4 1682.7,438.3 1686.9,436.1 1691.2,433.9 1695.4,431.5 1699.6,428.9 1703.8,426.2 1708.1,423.4 1712.3,420.8 1716.5,418.2 1720.8,415.8 1725.0,413.4 1729.2,410.8 1733.5,408.0 1737.7,405.2 1741.9,402.7 1746.2,400.7 1750.4,399.6 1754.6,399.8 1758.8,401.0 1763.1,402.9 1767.3,405.2 1771.5,407.4 1775.8,412.1 1780.0,417.7 1784.2,424.1 1788.5,430.9 1792.7,438.1 1796.9,445.3 1801.1,452.4 1805.4,459.3 1809.6,466.0 1813.8,472.9 1818.1,479.8 1822.3,486.8 1826.5,493.7 1830.8,500.4 1835.0,506.7 1839.2,512.7 1843.4,518.1 1847.7,522.9 1851.9,527.2 1856.1,531.4 1860.4,535.5 1864.6,539.4 1868.8,543.1 1873.0,546.5 1877.3,549.7 1881.5,552.9 1885.7,556.0 1890.0,559.1 1894.2,562.1 1898.4,565.0 1902.7,567.7 1906.9,570.3 1911.1,572.6 1915.3,574.8 1919.6,576.7 1923.8,578.4 1928.0,580.1 1932.3,581.7 1936.5,583.3 1940.7,584.9 1945.0,586.4 1949.2,587.9 1953.4,589.3 1957.7,590.7 1961.9,592.0 1966.1,593.3 1970.3,594.5 1974.6,595.7 1978.8,596.9 1983.0,597.9 1987.3,599.0 1991.5,600.0 1995.7,601.0 2000.0,601.9 2004.2,602.7 2008.4,603.5 2012.6,604.1 2016.9,604.8 2021.1,605.4 2025.3,606.0 2029.6,606.6 2033.8,607.2 2038.0,607.8 2042.2,608.3 2046.5,608.9 2050.7,609.4 2054.9,609.9 2059.2,610.4 2063.4,610.9 2067.6,611.3 2071.9,611.7 2076.1,612.1 2080.3,612.5 2084.6,612.9 2088.8,613.2 2093.0,613.6 2097.2,614.0 2101.5,614.3 2105.7,614.7 2109.9,615.0 2114.2,615.3 2118.4,615.6 2122.6,615.9 2126.8,616.2 2131.1,616.5 2135.3,616.7 2139.5,616.9 2143.8,617.1 2148.0,617.2" stroke="#8a1090"/>
<path d="M1302.0,157.0 1303.7,178.0 1305.4,197.2 1307.1,213.2 1308.8,227.0 1310.5,241.7 1312.2,254.1 1313.8,262.7 1315.5,270.0 1317.2,276.6 1318.9,282.9 1320.6,289.2 1322.3,296.1 1324.0,302.8 1325.7,307.6 1327.4,311.8 1329.1,315.7 1330.8,319.3 1332.5,322.8 1334.1,326.2 1335.8,329.6 1337.5,333.0 1339.2,335.9 1340.9,338.8 1342.6,341.5 1344.3,344.2 1346.0,346.8 1347.7,349.3 1349.4,351.6 1351.1,353.8 1352.8,355.9 1354.5,357.8 1356.1,359.5 1357.8,361.2 1359.5,362.8 1361.2,364.3 1362.9,365.8 1364.6,367.2 1366.3,368.6 1368.0,370.0 1369.7,371.4 1371.4,372.8 1373.1,374.1 1374.8,375.4 1376.4,376.8 1378.1,378.2 1379.8,379.6 1381.5,381.0 1383.2,382.5 1384.9,383.9 1386.6,385.1 1388.3,386.2 1390.0,387.3 1391.7,388.3 1393.4,389.3 1395.1,390.2 1396.8,391.1 1398.4,392.0 1400.1,392.9 1401.8,393.8 1403.5,394.7 1405.2,395.7 1406.9,396.6 1408.6,397.6 1410.3,398.5 1412.0,399.4 1413.7,400.3 1415.4,401.3 1417.1,402.2 1418.7,403.2 1420.4,404.2 1422.1,405.1 1423.8,406.2 1425.5,407.2 1427.2,408.4 1428.9,409.5 1430.6,410.7 1432.3,411.9 1434.0,413.0 1435.7,414.2 1437.4,415.4 1439.1,416.6 1440.7,417.8 1442.4,419.0 1444.1,420.3 1445.8,421.5 1447.5,422.7 1449.2,424.0 1450.9,425.2 1452.6,426.4 1454.3,427.5 1456.0,428.6 1457.7,429.7 1459.4,430.8 1461.0,431.8 1462.7,432.8 1464.4,433.8 1466.1,434.8 1467.8,435.8 1469.5,436.8 1471.2,437.8 1472.9,438.8 1474.6,439.8 1476.3,440.8 1478.0,441.7 1479.7,442.6 1481.4,443.5 1483.0,444.4 1484.7,445.2 1486.4,446.0 1488.1,446.7 1489.8,447.4 1491.5,448.1 1493.2,448.7 1494.9,449.3 1496.6,449.8 1498.3,450.2 1500.0,450.6 1501.7,451.0 1503.3,451.3 1505.0,451.6 1506.7,451.9 1508.4,452.2 1510.1,452.5 1511.8,452.8 1513.5,453.1 1515.2,453.4 1516.9,453.6 1518.6,453.9 1520.3,454.1 1522.0,454.4 1523.7,454.6 1525.3,454.9 1527.0,455.1 1528.7,455.3 1530.4,455.5 1532.1,455.8 1533.8,456.0 1535.5,456.2 1537.2,456.4 1538.9,456.7 1540.6,456.9 1542.3,457.1 1544.0,457.4 1545.6,457.6 1547.3,457.8 1549.0,458.1 1550.7,458.3 1552.4,458.6 1554.1,458.9 1555.8,459.1 1557.5,459.4 1559.2,459.6 1560.9,459.9 1562.6,460.1 1564.3,460.3 1566.0,460.5 1567.6,460.7 1569.3,460.9 1571.0,461.1 1572.7,461.2 1574.4,461.3 1576.1,461.4 1577.0,461.5 1581.2,461.8 1585.4,462.0 1589.6,462.1 1593.9,462.2 1598.1,462.3 1602.3,462.4 1606.6,462.4 1610.8,462.4 1615.0,462.4 1619.2,462.4 1623.5,462.3 1627.7,462.1 1631.9,461.7 1636.2,461.3 1640.4,460.8 1644.6,460.1 1648.9,459.4 1653.1,458.7 1657.3,457.7 1661.5,456.4 1665.8,454.7 1670.0,452.7 1674.2,450.6 1678.5,448.3 1682.7,446.0 1686.9,443.7 1691.2,441.5 1695.4,439.3 1699.6,437.0 1703.8,434.6 1708.1,432.3 1712.3,429.9 1716.5,427.6 1720.8,425.3 1725.0,423.1 1729.2,420.8 1733.5,418.4 1737.7,416.1 1741.9,414.0 1746.2,412.2 1750.4,410.8 1754.6,410.5 1758.8,411.3 1763.1,413.0 1767.3,415.3 1771.5,418.1 1775.8,424.1 1780.0,430.2 1784.2,436.4 1788.5,442.7 1792.7,449.1 1796.9,455.4 1801.1,461.6 1805.4,467.8 1809.6,474.0 1813.8,480.1 1818.1,486.2 1822.3,492.3 1826.5,498.4 1830.8,504.4 1835.0,510.4 1839.2,516.3 1843.4,522.4 1847.7,528.4 1851.9,533.2 1856.1,537.0 1860.4,540.4 1864.6,543.4 1868.8,546.4 1873.0,549.4 1877.3,552.6 1881.5,555.9 1885.7,559.3 1890.0,562.7 1894.2,566.1 1898.4,569.5 1902.7,572.7 1906.9,575.6 1911.1,578.4 1915.3,580.8 1919.6,582.8 1923.8,584.6 1928.0,586.3 1932.3,587.9 1936.5,589.5 1940.7,590.9 1945.0,592.3 1949.2,593.6 1953.4,594.9 1957.7,596.1 1961.9,597.4 1966.1,598.6 1970.3,599.8 1974.6,601.0 1978.8,602.2 1983.0,603.4 1987.3,604.7 1991.5,606.1 1995.7,607.6 2000.0,609.1 2004.2,610.3 2008.4,611.3 2012.6,611.9 2016.9,612.4 2021.1,612.9 2025.3,613.4 2029.6,613.8 2033.8,614.2 2038.0,614.6 2042.2,614.9 2046.5,615.3 2050.7,615.6 2054.9,615.9 2059.2,616.2 2063.4,616.5 2067.6,616.8 2071.9,617.2 2076.1,617.5 2080.3,617.8 2084.6,618.2 2088.8,618.5 2093.0,618.9 2097.2,619.2 2101.5,619.6 2105.7,619.9 2109.9,620.3 2114.2,620.6 2118.4,620.9 2122.6,621.3 2126.8,621.6 2131.1,621.9 2135.3,622.3 2139.5,622.6 2143.8,622.9 2148.0,623.2" stroke="#4a78a6"/>
<path d="M1302.0,158.5 1303.7,180.3 1305.4,200.0 1307.1,216.9 1308.8,233.0 1310.5,247.5 1312.2,258.9 1313.8,267.6 1315.5,275.8 1317.2,283.5 1318.9,290.6 1320.6,297.1 1322.3,302.9 1324.0,307.9 1325.7,312.2 1327.4,316.4 1329.1,320.4 1330.8,324.2 1332.5,327.9 1334.1,331.3 1335.8,334.4 1337.5,337.2 1339.2,339.9 1340.9,342.6 1342.6,345.3 1344.3,347.9 1346.0,350.5 1347.7,353.0 1349.4,355.3 1351.1,357.5 1352.8,359.6 1354.5,361.5 1356.1,363.2 1357.8,364.9 1359.5,366.6 1361.2,368.2 1362.9,369.8 1364.6,371.3 1366.3,372.9 1368.0,374.4 1369.7,375.8 1371.4,377.3 1373.1,378.7 1374.8,380.1 1376.4,381.4 1378.1,382.7 1379.8,383.9 1381.5,385.2 1383.2,386.3 1384.9,387.5 1386.6,388.6 1388.3,389.6 1390.0,390.6 1391.7,391.6 1393.4,392.6 1395.1,393.5 1396.8,394.4 1398.4,395.3 1400.1,396.2 1401.8,397.0 1403.5,397.9 1405.2,398.7 1406.9,399.6 1408.6,400.4 1410.3,401.3 1412.0,402.1 1413.7,403.0 1415.4,403.9 1417.1,404.8 1418.7,405.8 1420.4,406.7 1422.1,407.7 1423.8,408.8 1425.5,409.8 1427.2,410.9 1428.9,412.0 1430.6,413.2 1432.3,414.3 1434.0,415.5 1435.7,416.7 1437.4,417.9 1439.1,419.1 1440.7,420.3 1442.4,421.5 1444.1,422.7 1445.8,423.9 1447.5,425.1 1449.2,426.2 1450.9,427.4 1452.6,428.5 1454.3,429.6 1456.0,430.7 1457.7,431.7 1459.4,432.7 1461.0,433.7 1462.7,434.7 1464.4,435.6 1466.1,436.6 1467.8,437.6 1469.5,438.6 1471.2,439.6 1472.9,440.6 1474.6,441.5 1476.3,442.5 1478.0,443.4 1479.7,444.3 1481.4,445.2 1483.0,446.1 1484.7,446.9 1486.4,447.7 1488.1,448.4 1489.8,449.1 1491.5,449.8 1493.2,450.4 1494.9,451.0 1496.6,451.5 1498.3,452.0 1500.0,452.4 1501.7,452.7 1503.3,453.1 1505.0,453.5 1506.7,453.8 1508.4,454.2 1510.1,454.5 1511.8,454.9 1513.5,455.2 1515.2,455.5 1516.9,455.8 1518.6,456.2 1520.3,456.5 1522.0,456.8 1523.7,457.1 1525.3,457.4 1527.0,457.7 1528.7,458.0 1530.4,458.3 1532.1,458.5 1533.8,458.8 1535.5,459.1 1537.2,459.3 1538.9,459.6 1540.6,459.8 1542.3,460.0 1544.0,460.3 1545.6,460.5 1547.3,460.7 1549.0,460.9 1550.7,461.1 1552.4,461.3 1554.1,461.5 1555.8,461.6 1557.5,461.8 1559.2,462.0 1560.9,462.1 1562.6,462.2 1564.3,462.4 1566.0,462.5 1567.6,462.6 1569.3,462.7 1571.0,462.8 1572.7,462.9 1574.4,462.9 1576.1,463.0 1577.0,463.1 1581.2,463.2 1585.4,463.4 1589.6,463.5 1593.9,463.7 1598.1,463.8 1602.3,463.9 1606.6,463.9 1610.8,464.0 1615.0,464.0 1619.2,464.0 1623.5,463.9 1627.7,463.7 1631.9,463.4 1636.2,463.0 1640.4,462.5 1644.6,462.0 1648.9,461.3 1653.1,460.6 1657.3,459.7 1661.5,458.4 1665.8,456.7 1670.0,454.7 1674.2,452.4 1678.5,450.1 1682.7,447.7 1686.9,445.4 1691.2,443.3 1695.4,441.1 1699.6,438.9 1703.8,436.6 1708.1,434.3 1712.3,432.0 1716.5,429.7 1720.8,427.4 1725.0,425.2 1729.2,423.0 1733.5,420.8 1737.7,418.6 1741.9,416.5 1746.2,414.7 1750.4,413.4 1754.6,413.0 1758.8,413.7 1763.1,415.3 1767.3,417.6 1771.5,420.5 1775.8,424.4 1780.0,429.4 1784.2,435.4 1788.5,442.1 1792.7,449.2 1796.9,456.3 1801.1,463.3 1805.4,469.8 1809.6,475.9 1813.8,482.2 1818.1,488.7 1822.3,495.2 1826.5,501.6 1830.8,507.9 1835.0,514.0 1839.2,519.8 1843.4,525.2 1847.7,530.2 1851.9,534.6 1856.1,538.8 1860.4,542.8 1864.6,546.7 1868.8,550.5 1873.0,554.2 1877.3,557.7 1881.5,561.1 1885.7,564.4 1890.0,567.5 1894.2,570.4 1898.4,573.2 1902.7,575.8 1906.9,578.2 1911.1,580.4 1915.3,582.4 1919.6,584.2 1923.8,586.0 1928.0,587.7 1932.3,589.4 1936.5,591.1 1940.7,592.8 1945.0,594.5 1949.2,596.1 1953.4,597.7 1957.7,599.3 1961.9,600.8 1966.1,602.3 1970.3,603.7 1974.6,605.1 1978.8,606.4 1983.0,607.6 1987.3,608.7 1991.5,609.8 1995.7,610.8 2000.0,611.6 2004.2,612.4 2008.4,613.1 2012.6,613.7 2016.9,614.2 2021.1,614.8 2025.3,615.4 2029.6,616.0 2033.8,616.5 2038.0,617.1 2042.2,617.6 2046.5,618.2 2050.7,618.7 2054.9,619.2 2059.2,619.7 2063.4,620.2 2067.6,620.6 2071.9,621.1 2076.1,621.5 2080.3,621.9 2084.6,622.3 2088.8,622.7 2093.0,623.0 2097.2,623.3 2101.5,623.6 2105.7,623.9 2109.9,624.1 2114.2,624.3 2118.4,624.5 2122.6,624.6 2126.8,624.7 2131.1,624.7 2135.3,624.8 2139.5,624.7 2143.8,624.7 2148.0,624.6" stroke="#3b9b9c"/>
<path d="M1302.0,147.5 1303.7,163.3 1305.4,178.9 1307.1,194.6 1308.8,207.9 1310.5,216.7 1312.2,224.4 1313.8,232.4 1315.5,240.6 1317.2,248.7 1318.9,256.2 1320.6,262.8 1322.3,268.1 1324.0,272.5 1325.7,276.9 1327.4,281.4 1329.1,286.0 1330.8,290.5 1332.5,294.8 1334.1,299.0 1335.8,302.8 1337.5,306.1 1339.2,309.0 1340.9,312.0 1342.6,315.0 1344.3,318.0 1346.0,320.9 1347.7,323.8 1349.4,326.6 1351.1,329.3 1352.8,331.8 1354.5,334.1 1356.1,336.2 1357.8,338.1 1359.5,340.0 1361.2,341.8 1362.9,343.5 1364.6,345.2 1366.3,346.8 1368.0,348.3 1369.7,349.9 1371.4,351.3 1373.1,352.8 1374.8,354.2 1376.4,355.6 1378.1,357.0 1379.8,358.3 1381.5,359.7 1383.2,361.0 1384.9,362.3 1386.6,363.5 1388.3,364.7 1390.0,366.0 1391.7,367.2 1393.4,368.5 1395.1,369.7 1396.8,370.9 1398.4,372.1 1400.1,373.3 1401.8,374.5 1403.5,375.7 1405.2,376.9 1406.9,378.1 1408.6,379.3 1410.3,380.5 1412.0,381.7 1413.7,382.8 1415.4,384.0 1417.1,385.2 1418.7,386.3 1420.4,387.5 1422.1,388.7 1423.8,389.9 1425.5,391.1 1427.2,392.2 1428.9,393.4 1430.6,394.6 1432.3,395.8 1434.0,397.0 1435.7,398.3 1437.4,399.6 1439.1,401.0 1440.7,402.5 1442.4,404.0 1444.1,405.5 1445.8,407.1 1447.5,408.6 1449.2,410.2 1450.9,411.7 1452.6,413.2 1454.3,414.6 1456.0,416.0 1457.7,417.3 1459.4,418.5 1461.0,419.6 1462.7,420.7 1464.4,421.8 1466.1,422.9 1467.8,424.0 1469.5,425.1 1471.2,426.1 1472.9,427.1 1474.6,428.2 1476.3,429.1 1478.0,430.1 1479.7,431.0 1481.4,432.0 1483.0,432.8 1484.7,433.7 1486.4,434.5 1488.1,435.3 1489.8,436.0 1491.5,436.7 1493.2,437.4 1494.9,438.0 1496.6,438.5 1498.3,439.1 1500.0,439.5 1501.7,440.0 1503.3,440.4 1505.0,440.8 1506.7,441.3 1508.4,441.7 1510.1,442.1 1511.8,442.5 1513.5,442.9 1515.2,443.3 1516.9,443.7 1518.6,444.1 1520.3,444.5 1522.0,444.8 1523.7,445.2 1525.3,445.5 1527.0,445.8 1528.7,446.1 1530.4,446.4 1532.1,446.7 1533.8,447.0 1535.5,447.2 1537.2,447.5 1538.9,447.7 1540.6,447.9 1542.3,448.1 1544.0,448.2 1545.6,448.4 1547.3,448.5 1549.0,448.7 1550.7,448.8 1552.4,448.9 1554.1,449.1 1555.8,449.2 1557.5,449.3 1559.2,449.4 1560.9,449.5 1562.6,449.7 1564.3,449.8 1566.0,449.9 1567.6,450.0 1569.3,450.1 1571.0,450.2 1572.7,450.3 1574.4,450.4 1576.1,450.5 1577.0,450.6 1581.2,450.8 1585.4,451.1 1589.6,451.3 1593.9,451.6 1598.1,451.8 1602.3,452.0 1606.6,452.2 1610.8,452.3 1615.0,452.4 1619.2,452.5 1623.5,452.4 1627.7,451.9 1631.9,451.3 1636.2,450.4 1640.4,449.4 1644.6,448.3 1648.9,447.2 1653.1,446.1 1657.3,445.0 1661.5,443.7 1665.8,442.2 1670.0,440.6 1674.2,438.8 1678.5,436.9 1682.7,434.9 1686.9,432.8 1691.2,430.7 1695.4,428.2 1699.6,425.4 1703.8,422.5 1708.1,419.6 1712.3,416.8 1716.5,414.2 1720.8,411.7 1725.0,409.2 1729.2,406.5 1733.5,403.4 1737.7,400.2 1741.9,397.5 1746.2,395.6 1750.4,394.8 1754.6,395.3 1758.8,396.7 1763.1,398.7 1767.3,400.8 1771.5,402.7 1775.8,406.5 1780.0,411.8 1784.2,418.1 1788.5,425.3 1792.7,432.9 1796.9,440.7 1801.1,448.4 1805.4,455.6 1809.6,462.5 1813.8,469.8 1818.1,477.2 1822.3,484.5 1826.5,491.8 1830.8,498.7 1835.0,505.2 1839.2,511.2 1843.4,516.2 1847.7,520.5 1851.9,524.6 1856.1,529.0 1860.4,533.4 1864.6,537.7 1868.8,541.7 1873.0,545.3 1877.3,548.5 1881.5,551.6 1885.7,554.6 1890.0,557.5 1894.2,560.4 1898.4,563.0 1902.7,565.6 1906.9,567.9 1911.1,570.1 1915.3,572.2 1919.6,574.0 1923.8,575.7 1928.0,577.4 1932.3,579.1 1936.5,580.7 1940.7,582.3 1945.0,583.9 1949.2,585.5 1953.4,587.0 1957.7,588.4 1961.9,589.8 1966.1,591.1 1970.3,592.3 1974.6,593.5 1978.8,594.6 1983.0,595.6 1987.3,596.5 1991.5,597.3 1995.7,598.1 2000.0,598.8 2004.2,599.5 2008.4,600.1 2012.6,600.7 2016.9,601.4 2021.1,602.1 2025.3,602.7 2029.6,603.4 2033.8,604.1 2038.0,604.7 2042.2,605.4 2046.5,606.0 2050.7,606.6 2054.9,607.2 2059.2,607.8 2063.4,608.4 2067.6,608.9 2071.9,609.4 2076.1,609.8 2080.3,610.2 2084.6,610.6 2088.8,611.0 2093.0,611.3 2097.2,611.7 2101.5,612.1 2105.7,612.4 2109.9,612.7 2114.2,613.0 2118.4,613.3 2122.6,613.6 2126.8,613.8 2131.1,614.0 2135.3,614.2 2139.5,614.4 2143.8,614.5 2148.0,614.7" stroke="#26168c"/>
<path d="M1302.0,146.0 1303.7,163.5 1305.4,179.9 1307.1,194.0 1308.8,204.8 1310.5,214.1 1312.2,223.1 1313.8,231.5 1315.5,239.4 1317.2,246.6 1318.9,253.1 1320.6,258.8 1322.3,263.8 1324.0,268.8 1325.7,273.6 1327.4,278.3 1329.1,282.9 1330.8,287.2 1332.5,291.3 1334.1,295.2 1335.8,298.7 1337.5,302.0 1339.2,305.2 1340.9,308.4 1342.6,311.6 1344.3,314.7 1346.0,317.7 1347.7,320.5 1349.4,323.3 1351.1,325.9 1352.8,328.3 1354.5,330.5 1356.1,332.4 1357.8,334.3 1359.5,336.1 1361.2,337.9 1362.9,339.7 1364.6,341.4 1366.3,343.0 1368.0,344.7 1369.7,346.2 1371.4,347.8 1373.1,349.3 1374.8,350.8 1376.4,352.2 1378.1,353.6 1379.8,355.0 1381.5,356.4 1383.2,357.7 1384.9,359.0 1386.6,360.3 1388.3,361.6 1390.0,362.9 1391.7,364.1 1393.4,365.4 1395.1,366.6 1396.8,367.8 1398.4,369.1 1400.1,370.3 1401.8,371.5 1403.5,372.8 1405.2,374.0 1406.9,375.2 1408.6,376.4 1410.3,377.6 1412.0,378.8 1413.7,380.0 1415.4,381.2 1417.1,382.3 1418.7,383.5 1420.4,384.7 1422.1,385.9 1423.8,387.0 1425.5,388.2 1427.2,389.4 1428.9,390.7 1430.6,391.9 1432.3,393.2 1434.0,394.5 1435.7,395.8 1437.4,397.1 1439.1,398.5 1440.7,400.0 1442.4,401.6 1444.1,403.2 1445.8,404.8 1447.5,406.4 1449.2,408.0 1450.9,409.6 1452.6,411.1 1454.3,412.6 1456.0,414.0 1457.7,415.4 1459.4,416.6 1461.0,417.7 1462.7,418.8 1464.4,420.0 1466.1,421.1 1467.8,422.1 1469.5,423.2 1471.2,424.3 1472.9,425.3 1474.6,426.3 1476.3,427.3 1478.0,428.3 1479.7,429.2 1481.4,430.1 1483.0,431.0 1484.7,431.9 1486.4,432.7 1488.1,433.5 1489.8,434.2 1491.5,434.9 1493.2,435.6 1494.9,436.2 1496.6,436.8 1498.3,437.3 1500.0,437.8 1501.7,438.2 1503.3,438.7 1505.0,439.1 1506.7,439.6 1508.4,440.0 1510.1,440.5 1511.8,440.9 1513.5,441.3 1515.2,441.7 1516.9,442.1 1518.6,442.5 1520.3,442.9 1522.0,443.3 1523.7,443.7 1525.3,444.0 1527.0,444.4 1528.7,444.7 1530.4,445.0 1532.1,445.3 1533.8,445.6 1535.5,445.8 1537.2,446.1 1538.9,446.3 1540.6,446.5 1542.3,446.6 1544.0,446.8 1545.6,446.9 1547.3,447.0 1549.0,447.2 1550.7,447.3 1552.4,447.4 1554.1,447.5 1555.8,447.6 1557.5,447.7 1559.2,447.8 1560.9,447.9 1562.6,448.0 1564.3,448.1 1566.0,448.2 1567.6,448.3 1569.3,448.4 1571.0,448.5 1572.7,448.6 1574.4,448.7 1576.1,448.8 1577.0,448.8 1581.2,449.1 1585.4,449.3 1589.6,449.6 1593.9,449.9 1598.1,450.1 1602.3,450.3 1606.6,450.5 1610.8,450.7 1615.0,450.8 1619.2,450.9 1623.5,450.8 1627.7,450.4 1631.9,449.6 1636.2,448.7 1640.4,447.6 1644.6,446.5 1648.9,445.3 1653.1,444.1 1657.3,443.0 1661.5,441.7 1665.8,440.2 1670.0,438.7 1674.2,436.9 1678.5,435.1 1682.7,433.1 1686.9,431.1 1691.2,428.9 1695.4,426.5 1699.6,423.6 1703.8,420.7 1708.1,417.6 1712.3,414.7 1716.5,412.0 1720.8,409.1 1725.0,406.3 1729.2,403.4 1733.5,400.6 1737.7,398.0 1741.9,395.7 1746.2,393.6 1750.4,392.0 1754.6,391.5 1758.8,392.3 1763.1,394.2 1767.3,396.8 1771.5,400.1 1775.8,404.3 1780.0,409.7 1784.2,416.1 1788.5,423.3 1792.7,430.9 1796.9,438.7 1801.1,446.4 1805.4,453.7 1809.6,460.7 1813.8,468.1 1818.1,475.7 1822.3,483.3 1826.5,490.7 1830.8,497.8 1835.0,504.4 1839.2,510.3 1843.4,515.7 1847.7,520.7 1851.9,525.5 1856.1,529.9 1860.4,534.1 1864.6,537.9 1868.8,541.5 1873.0,544.7 1877.3,547.7 1881.5,550.6 1885.7,553.5 1890.0,556.3 1894.2,559.1 1898.4,561.7 1902.7,564.2 1906.9,566.6 1911.1,568.8 1915.3,570.8 1919.6,572.6 1923.8,574.3 1928.0,576.0 1932.3,577.7 1936.5,579.3 1940.7,581.0 1945.0,582.6 1949.2,584.2 1953.4,585.7 1957.7,587.2 1961.9,588.6 1966.1,589.9 1970.3,591.1 1974.6,592.3 1978.8,593.4 1983.0,594.3 1987.3,595.2 1991.5,596.0 1995.7,596.8 2000.0,597.5 2004.2,598.3 2008.4,599.1 2012.6,599.8 2016.9,600.6 2021.1,601.3 2025.3,602.0 2029.6,602.7 2033.8,603.4 2038.0,604.0 2042.2,604.6 2046.5,605.2 2050.7,605.8 2054.9,606.3 2059.2,606.9 2063.4,607.4 2067.6,607.8 2071.9,608.2 2076.1,608.6 2080.3,609.0 2084.6,609.3 2088.8,609.7 2093.0,610.0 2097.2,610.4 2101.5,610.7 2105.7,611.0 2109.9,611.4 2114.2,611.7 2118.4,612.0 2122.6,612.3 2126.8,612.5 2131.1,612.7 2135.3,612.9 2139.5,613.1 2143.8,613.2 2148.0,613.3" stroke="#7c22e2"/>
<path d="M1302.0,133.4 1303.7,146.0 1305.4,158.3 1307.1,170.1 1308.8,181.1 1310.5,191.3 1312.2,200.3 1313.8,208.4 1315.5,216.3 1317.2,223.9 1318.9,231.2 1320.6,238.2 1322.3,244.7 1324.0,250.6 1325.7,255.9 1327.4,260.6 1329.1,264.9 1330.8,269.1 1332.5,273.1 1334.1,277.0 1335.8,280.7 1337.5,284.2 1339.2,287.5 1340.9,290.6 1342.6,293.5 1344.3,296.2 1346.0,298.9 1347.7,301.6 1349.4,304.3 1351.1,306.8 1352.8,309.3 1354.5,311.6 1356.1,313.6 1357.8,315.5 1359.5,317.1 1361.2,318.5 1362.9,319.9 1364.6,321.3 1366.3,322.6 1368.0,323.8 1369.7,325.0 1371.4,326.2 1373.1,327.4 1374.8,328.6 1376.4,329.7 1378.1,330.9 1379.8,332.0 1381.5,333.2 1383.2,334.3 1384.9,335.5 1386.6,336.7 1388.3,337.9 1390.0,339.1 1391.7,340.3 1393.4,341.5 1395.1,342.6 1396.8,343.8 1398.4,344.9 1400.1,346.1 1401.8,347.2 1403.5,348.4 1405.2,349.6 1406.9,350.8 1408.6,352.0 1410.3,353.3 1412.0,354.5 1413.7,355.8 1415.4,357.2 1417.1,358.6 1418.7,360.0 1420.4,361.5 1422.1,363.0 1423.8,364.6 1425.5,366.3 1427.2,368.0 1428.9,369.7 1430.6,371.4 1432.3,373.2 1434.0,375.0 1435.7,376.8 1437.4,378.6 1439.1,380.3 1440.7,382.1 1442.4,383.8 1444.1,385.5 1445.8,387.3 1447.5,389.0 1449.2,390.7 1450.9,392.4 1452.6,394.2 1454.3,396.0 1456.0,397.8 1457.7,399.6 1459.4,401.5 1461.0,403.5 1462.7,405.6 1464.4,407.8 1466.1,410.1 1467.8,412.5 1469.5,414.8 1471.2,417.0 1472.9,419.2 1474.6,421.2 1476.3,423.0 1478.0,424.8 1479.7,426.5 1481.4,428.2 1483.0,429.8 1484.7,431.4 1486.4,433.0 1488.1,434.5 1489.8,435.9 1491.5,437.3 1493.2,438.5 1494.9,439.7 1496.6,440.7 1498.3,441.7 1500.0,442.5 1501.7,443.2 1503.3,443.9 1505.0,444.6 1506.7,445.3 1508.4,446.0 1510.1,446.6 1511.8,447.2 1513.5,447.8 1515.2,448.4 1516.9,449.0 1518.6,449.5 1520.3,450.0 1522.0,450.5 1523.7,451.0 1525.3,451.4 1527.0,451.8 1528.7,452.2 1530.4,452.5 1532.1,452.8 1533.8,453.1 1535.5,453.4 1537.2,453.7 1538.9,454.0 1540.6,454.3 1542.3,454.6 1544.0,454.8 1545.6,455.1 1547.3,455.4 1549.0,455.6 1550.7,455.9 1552.4,456.2 1554.1,456.4 1555.8,456.7 1557.5,457.0 1559.2,457.2 1560.9,457.5 1562.6,457.8 1564.3,458.0 1566.0,458.3 1567.6,458.6 1569.3,458.9 1571.0,459.2 1572.7,459.5 1574.4,459.8 1576.1,460.1 1577.0,460.3 1581.2,461.1 1585.4,461.9 1589.6,462.8 1593.9,463.6 1598.1,464.5 1602.3,465.3 1606.6,466.1 1610.8,466.8 1615.0,467.5 1619.2,468.1 1623.5,468.7 1627.7,469.2 1631.9,469.7 1636.2,470.1 1640.4,470.5 1644.6,470.8 1648.9,471.1 1653.1,471.3 1657.3,471.5 1661.5,471.6 1665.8,471.6 1670.0,471.5 1674.2,471.3 1678.5,471.1 1682.7,470.6 1686.9,469.9 1691.2,468.9 1695.4,467.9 1699.6,466.8 1703.8,465.8 1708.1,464.9 1712.3,464.2 1716.5,463.7 1720.8,463.2 1725.0,462.8 1729.2,462.4 1733.5,462.1 1737.7,461.8 1741.9,461.6 1746.2,461.4 1750.4,461.4 1754.6,461.4 1758.8,461.5 1763.1,461.7 1767.3,462.0 1771.5,462.4 1775.8,463.0 1780.0,463.6 1784.2,464.3 1788.5,465.0 1792.7,465.8 1796.9,466.6 1801.1,467.4 1805.4,468.2 1809.6,469.0 1813.8,469.9 1818.1,470.9 1822.3,472.0 1826.5,473.1 1830.8,474.2 1835.0,475.4 1839.2,476.6 1843.4,477.7 1847.7,478.8 1851.9,479.9 1856.1,480.9 1860.4,481.8 1864.6,482.7 1868.8,483.4 1873.0,484.0 1877.3,484.5 1881.5,485.0 1885.7,485.5 1890.0,485.9 1894.2,486.4 1898.4,486.8 1902.7,487.2 1906.9,487.6 1911.1,488.0 1915.3,488.3 1919.6,488.6 1923.8,489.0 1928.0,489.3 1932.3,489.5 1936.5,489.8 1940.7,490.0 1945.0,490.2 1949.2,490.4 1953.4,490.6 1957.7,490.8 1961.9,490.9 1966.1,491.0 1970.3,491.1 1974.6,491.2 1978.8,491.3 1983.0,491.4 1987.3,491.5 1991.5,491.6 1995.7,491.7 2000.0,491.7 2004.2,491.8 2008.4,491.9 2012.6,492.0 2016.9,492.0 2021.1,492.0 2025.3,492.1 2029.6,492.1 2033.8,492.1 2038.0,492.1 2042.2,492.1 2046.5,492.1 2050.7,492.1 2054.9,492.0 2059.2,491.9 2063.4,491.8 2067.6,491.7 2071.9,491.6 2076.1,491.5 2080.3,491.3 2084.6,491.2 2088.8,491.0 2093.0,490.8 2097.2,490.6 2101.5,490.4 2105.7,490.2 2109.9,489.9 2114.2,489.7 2118.4,489.4 2122.6,489.2 2126.8,488.9 2131.1,488.7 2135.3,488.4 2139.5,488.1 2143.8,487.9 2148.0,487.6" stroke="#2010e0"/>
<path d="M1302.0,133.4 1303.7,150.6 1305.4,166.7 1307.1,181.0 1308.8,192.5 1310.5,202.6 1312.2,212.1 1313.8,220.8 1315.5,228.5 1317.2,235.4 1318.9,241.8 1320.6,248.0 1322.3,253.7 1324.0,258.5 1325.7,262.5 1327.4,266.3 1329.1,269.9 1330.8,273.1 1332.5,275.9 1334.1,278.1 1335.8,280.3 1337.5,282.4 1339.2,284.3 1340.9,285.8 1342.6,286.9 1344.3,287.6 1346.0,288.2 1347.7,288.8 1349.4,289.3 1351.1,289.7 1352.8,289.9 1354.5,289.8 1356.1,289.6 1357.8,289.2 1359.5,288.7 1361.2,288.2 1362.9,287.7 1364.6,287.2 1366.3,286.7 1368.0,286.2 1369.7,285.8 1371.4,285.4 1373.1,285.0 1374.8,284.6 1376.4,284.2 1378.1,283.8 1379.8,283.5 1381.5,283.1 1383.2,282.8 1384.9,282.5 1386.6,282.3 1388.3,282.2 1390.0,282.2 1391.7,282.4 1393.4,282.6 1395.1,282.9 1396.8,283.2 1398.4,283.5 1400.1,284.1 1401.8,284.9 1403.5,285.9 1405.2,287.1 1406.9,288.3 1408.6,289.7 1410.3,291.2 1412.0,292.7 1413.7,294.6 1415.4,296.8 1417.1,299.2 1418.7,301.9 1420.4,304.6 1422.1,307.3 1423.8,309.9 1425.5,312.5 1427.2,315.0 1428.9,317.6 1430.6,320.3 1432.3,323.0 1434.0,325.7 1435.7,328.5 1437.4,331.4 1439.1,334.4 1440.7,337.6 1442.4,340.8 1444.1,344.4 1445.8,348.3 1447.5,352.5 1449.2,356.9 1450.9,361.4 1452.6,365.9 1454.3,370.3 1456.0,374.5 1457.7,378.6 1459.4,382.3 1461.0,385.6 1462.7,388.9 1464.4,392.1 1466.1,395.2 1467.8,398.2 1469.5,401.0 1471.2,403.7 1472.9,406.2 1474.6,408.5 1476.3,410.5 1478.0,412.3 1479.7,414.0 1481.4,415.5 1483.0,416.9 1484.7,418.3 1486.4,419.6 1488.1,421.0 1489.8,422.5 1491.5,424.1 1493.2,425.8 1494.9,427.6 1496.6,429.4 1498.3,431.2 1500.0,433.1 1501.7,435.1 1503.3,437.2 1505.0,439.3 1506.7,441.7 1508.4,444.5 1510.1,447.4 1511.8,450.3 1513.5,453.2 1515.2,455.9 1516.9,458.2 1518.6,460.1 1520.3,461.9 1522.0,463.7 1523.7,465.4 1525.3,467.0 1527.0,468.5 1528.7,469.8 1530.4,471.0 1532.1,472.0 1533.8,472.8 1535.5,473.3 1537.2,473.7 1538.9,474.1 1540.6,474.4 1542.3,474.8 1544.0,475.1 1545.6,475.4 1547.3,475.8 1549.0,476.1 1550.7,476.4 1552.4,476.6 1554.1,476.9 1555.8,477.2 1557.5,477.5 1559.2,477.7 1560.9,478.0 1562.6,478.2 1564.3,478.5 1566.0,478.7 1567.6,479.0 1569.3,479.2 1571.0,479.4 1572.7,479.7 1574.4,479.9 1576.1,480.1 1577.0,480.2 1581.2,480.7 1585.4,481.2 1589.6,481.7 1593.9,482.2 1598.1,482.8 1602.3,483.4 1606.6,484.0 1610.8,484.8 1615.0,485.6 1619.2,486.4 1623.5,487.3 1627.7,488.2 1631.9,489.1 1636.2,490.0 1640.4,490.9 1644.6,491.7 1648.9,492.6 1653.1,493.4 1657.3,494.3 1661.5,495.1 1665.8,495.9 1670.0,496.6 1674.2,497.2 1678.5,497.7 1682.7,498.1 1686.9,498.4 1691.2,498.7 1695.4,498.9 1699.6,499.1 1703.8,499.3 1708.1,499.5 1712.3,499.6 1716.5,499.7 1720.8,499.8 1725.0,500.0 1729.2,500.1 1733.5,500.1 1737.7,500.2 1741.9,500.3 1746.2,500.4 1750.4,500.5 1754.6,500.6 1758.8,500.7 1763.1,500.8 1767.3,500.9 1771.5,501.0 1775.8,501.1 1780.0,501.3 1784.2,501.4 1788.5,501.6 1792.7,501.8 1796.9,502.0 1801.1,502.3 1805.4,502.6 1809.6,502.9 1813.8,503.3 1818.1,503.7 1822.3,504.1 1826.5,504.5 1830.8,505.0 1835.0,505.4 1839.2,505.9 1843.4,506.4 1847.7,506.9 1851.9,507.4 1856.1,507.9 1860.4,508.3 1864.6,508.8 1868.8,509.2 1873.0,509.6 1877.3,510.0 1881.5,510.4 1885.7,510.8 1890.0,511.1 1894.2,511.3 1898.4,511.5 1902.7,511.8 1906.9,512.0 1911.1,512.2 1915.3,512.4 1919.6,512.6 1923.8,512.8 1928.0,513.0 1932.3,513.2 1936.5,513.4 1940.7,513.6 1945.0,513.8 1949.2,514.0 1953.4,514.2 1957.7,514.3 1961.9,514.5 1966.1,514.7 1970.3,514.9 1974.6,515.0 1978.8,515.2 1983.0,515.4 1987.3,515.5 1991.5,515.7 1995.7,515.8 2000.0,516.0 2004.2,516.1 2008.4,516.2 2012.6,516.4 2016.9,516.5 2021.1,516.6 2025.3,516.8 2029.6,516.9 2033.8,517.0 2038.0,517.1 2042.2,517.2 2046.5,517.3 2050.7,517.4 2054.9,517.5 2059.2,517.6 2063.4,517.7 2067.6,517.7 2071.9,517.8 2076.1,517.9 2080.3,518.0 2084.6,518.0 2088.8,518.1 2093.0,518.1 2097.2,518.2 2101.5,518.2 2105.7,518.3 2109.9,518.3 2114.2,518.3 2118.4,518.3 2122.6,518.3 2126.8,518.4 2131.1,518.4 2135.3,518.4 2139.5,518.4 2143.8,518.3 2148.0,518.3" stroke="#e2181e"/>
<path d="M1307.3,120.9 1309.0,132.3 1310.7,143.1 1312.4,153.0 1314.1,161.7 1315.7,170.0 1317.4,178.1 1319.1,185.8 1320.8,192.9 1322.5,199.4 1324.2,204.9 1325.9,209.9 1327.6,214.8 1329.3,219.3 1331.0,223.1 1332.7,226.1 1334.4,228.1 1336.1,230.0 1337.7,231.7 1339.4,233.3 1341.1,234.5 1342.8,235.1 1344.5,235.1 1346.2,234.4 1347.9,233.4 1349.6,232.2 1351.3,230.8 1353.0,229.2 1354.7,227.7 1356.4,226.0 1358.0,224.3 1359.7,222.5 1361.4,220.6 1363.1,218.8 1364.8,216.9 1366.5,215.0 1368.2,213.0 1369.9,211.0 1371.6,208.9 1373.3,206.9 1375.0,204.9 1376.7,203.0 1378.4,201.1 1380.0,199.4 1381.7,197.8 1383.4,196.3 1385.1,194.7 1386.8,193.2 1388.5,191.9 1390.2,190.6 1391.9,189.6 1393.6,188.7 1395.3,188.1 1397.0,187.7 1398.7,187.7 1400.3,188.0 1402.0,188.5 1403.7,189.1 1405.4,189.9 1407.1,190.8 1408.8,191.7 1410.5,193.0 1412.2,194.6 1413.9,196.5 1415.6,198.6 1417.3,200.9 1419.0,203.3 1420.7,206.2 1422.3,209.6 1424.0,213.3 1425.7,217.3 1427.4,221.4 1429.1,225.5 1430.8,229.6 1432.5,234.0 1434.2,238.5 1435.9,243.3 1437.6,248.1 1439.3,253.2 1441.0,258.4 1442.6,263.9 1444.3,269.6 1446.0,275.4 1447.7,281.2 1449.4,286.8 1451.1,292.3 1452.8,297.6 1454.5,302.9 1456.2,308.1 1457.9,313.3 1459.6,318.3 1461.3,323.4 1463.0,328.3 1464.6,333.2 1466.3,338.0 1468.0,342.8 1469.7,347.5 1471.4,352.2 1473.1,356.7 1474.8,361.3 1476.5,365.8 1478.2,370.2 1479.9,374.5 1481.6,378.6 1483.3,382.7 1484.9,386.7 1486.6,390.5 1488.3,394.3 1490.0,398.0 1491.7,401.6 1493.4,405.2 1495.1,408.8 1496.8,412.3 1498.5,415.5 1500.2,418.4 1501.9,420.9 1503.6,423.4 1505.3,425.8 1506.9,428.1 1508.6,430.3 1510.3,432.5 1512.0,434.6 1513.7,436.7 1515.4,438.7 1517.1,440.7 1518.8,442.7 1520.5,444.7 1522.2,446.8 1523.9,448.9 1525.6,451.0 1527.2,453.0 1528.9,454.8 1530.6,456.6 1532.3,458.2 1534.0,459.6 1535.7,460.8 1537.4,461.8 1539.1,462.8 1540.8,463.7 1542.5,464.5 1544.2,465.3 1545.9,466.0 1547.6,466.6 1549.2,467.1 1550.9,467.4 1552.6,467.7 1554.3,468.0 1556.0,468.2 1557.7,468.4 1559.4,468.5 1561.1,468.7 1562.8,468.9 1564.5,469.0 1566.2,469.2 1567.9,469.4 1569.5,469.7 1571.2,469.9 1572.9,470.2 1574.6,470.5 1576.3,470.8 1577.0,470.9 1581.2,471.7 1585.4,472.5 1589.6,473.3 1593.9,474.2 1598.1,475.1 1602.3,476.0 1606.6,476.9 1610.8,477.9 1615.0,478.9 1619.2,480.0 1623.5,481.1 1627.7,482.3 1631.9,483.5 1636.2,484.7 1640.4,485.9 1644.6,487.1 1648.9,488.4 1653.1,489.8 1657.3,491.2 1661.5,492.7 1665.8,494.1 1670.0,495.4 1674.2,496.6 1678.5,497.7 1682.7,498.8 1686.9,499.7 1691.2,500.6 1695.4,501.4 1699.6,502.1 1703.8,502.6 1708.1,503.1 1712.3,503.6 1716.5,504.1 1720.8,504.6 1725.0,505.0 1729.2,505.4 1733.5,505.8 1737.7,506.1 1741.9,506.4 1746.2,506.8 1750.4,507.1 1754.6,507.4 1758.8,507.7 1763.1,508.0 1767.3,508.3 1771.5,508.6 1775.8,508.9 1780.0,509.2 1784.2,509.5 1788.5,509.8 1792.7,510.0 1796.9,510.3 1801.1,510.6 1805.4,510.8 1809.6,511.1 1813.8,511.4 1818.1,511.6 1822.3,511.9 1826.5,512.2 1830.8,512.4 1835.0,512.7 1839.2,512.9 1843.4,513.2 1847.7,513.4 1851.9,513.7 1856.1,513.9 1860.4,514.1 1864.6,514.4 1868.8,514.6 1873.0,514.9 1877.3,515.1 1881.5,515.4 1885.7,515.6 1890.0,515.9 1894.2,516.1 1898.4,516.4 1902.7,516.6 1906.9,516.9 1911.1,517.1 1915.3,517.4 1919.6,517.6 1923.8,517.8 1928.0,518.1 1932.3,518.3 1936.5,518.5 1940.7,518.7 1945.0,518.9 1949.2,519.1 1953.4,519.3 1957.7,519.5 1961.9,519.6 1966.1,519.8 1970.3,519.9 1974.6,520.1 1978.8,520.2 1983.0,520.3 1987.3,520.4 1991.5,520.6 1995.7,520.7 2000.0,520.8 2004.2,520.9 2008.4,521.0 2012.6,521.1 2016.9,521.2 2021.1,521.3 2025.3,521.4 2029.6,521.5 2033.8,521.6 2038.0,521.7 2042.2,521.8 2046.5,521.8 2050.7,521.9 2054.9,522.0 2059.2,522.1 2063.4,522.1 2067.6,522.2 2071.9,522.3 2076.1,522.3 2080.3,522.4 2084.6,522.4 2088.8,522.5 2093.0,522.5 2097.2,522.5 2101.5,522.6 2105.7,522.6 2109.9,522.6 2114.2,522.7 2118.4,522.7 2122.6,522.7 2126.8,522.7 2131.1,522.7 2135.3,522.7 2139.5,522.7 2143.8,522.7 2148.0,522.7" stroke="#0a0a0a"/>
</g>
<clipPath id="clipc"><rect x="184.0" y="935.0" width="842.0" height="497.5"/></clipPath>
<g clip-path="url(#clipc)" fill="none" stroke-width="3.4" stroke-linejoin="round" stroke-linecap="round">
<path d="M188.2,897.7 189.9,912.9 191.6,926.9 193.3,939.2 194.9,951.0 196.6,962.7 198.3,973.9 200.0,984.1 201.7,992.9 203.4,1000.0 205.1,1005.9 206.7,1011.3 208.4,1016.3 210.1,1020.6 211.8,1024.2 213.5,1027.0 215.2,1029.5 216.8,1032.2 218.5,1034.7 220.2,1036.9 221.9,1038.6 223.6,1039.7 225.3,1039.8 226.9,1039.2 228.6,1038.3 230.3,1037.0 232.0,1035.6 233.7,1033.9 235.4,1032.1 237.0,1030.2 238.7,1028.3 240.4,1026.2 242.1,1024.0 243.8,1021.6 245.5,1019.1 247.2,1016.7 248.8,1014.3 250.5,1012.1 252.2,1010.0 253.9,1007.8 255.6,1005.7 257.3,1003.7 258.9,1001.7 260.6,999.8 262.3,998.1 264.0,996.5 265.7,994.8 267.4,993.1 269.0,991.6 270.7,990.1 272.4,988.9 274.1,987.8 275.8,987.0 277.5,986.5 279.1,986.4 280.8,986.7 282.5,987.3 284.2,988.0 285.9,989.0 287.6,990.0 289.3,991.3 290.9,992.9 292.6,994.7 294.3,996.8 296.0,998.9 297.7,1001.1 299.4,1003.7 301.0,1006.5 302.7,1009.5 304.4,1012.7 306.1,1015.8 307.8,1019.1 309.5,1022.5 311.1,1026.0 312.8,1029.7 314.5,1033.7 316.2,1037.9 317.9,1042.4 319.6,1047.3 321.2,1052.7 322.9,1058.5 324.6,1064.4 326.3,1070.4 328.0,1076.5 329.7,1082.4 331.4,1088.1 333.0,1093.7 334.7,1099.3 336.4,1104.9 338.1,1110.5 339.8,1116.0 341.5,1121.3 343.1,1126.5 344.8,1131.5 346.5,1136.3 348.2,1141.0 349.9,1145.5 351.6,1150.0 353.2,1154.4 354.9,1158.8 356.6,1163.2 358.3,1167.6 360.0,1172.0 361.7,1176.4 363.3,1180.6 365.0,1184.9 366.7,1189.0 368.4,1193.0 370.1,1197.0 371.8,1200.9 373.5,1204.7 375.1,1208.4 376.8,1211.9 378.5,1215.2 380.2,1218.4 381.9,1221.5 383.6,1224.5 385.2,1227.4 386.9,1230.3 388.6,1233.0 390.3,1235.8 392.0,1238.7 393.7,1241.5 395.3,1244.4 397.0,1247.0 398.7,1249.4 400.4,1251.5 402.1,1253.2 403.8,1254.6 405.4,1255.9 407.1,1257.1 408.8,1258.2 410.5,1259.3 412.2,1260.3 413.9,1261.3 415.6,1262.1 417.2,1262.9 418.9,1263.5 420.6,1264.0 422.3,1264.5 424.0,1264.8 425.7,1265.1 427.3,1265.4 429.0,1265.7 430.7,1266.0 432.4,1266.3 434.1,1266.5 435.8,1266.8 437.4,1267.1 439.1,1267.3 440.8,1267.6 442.5,1267.8 444.2,1268.1 445.9,1268.3 447.5,1268.6 449.2,1268.9 450.9,1269.1 452.6,1269.4 454.3,1269.6 456.0,1269.9 457.6,1270.2 461.9,1270.8 466.1,1271.4 470.3,1272.1 474.5,1272.7 478.7,1273.3 482.9,1274.0 487.1,1274.7 491.3,1275.5 495.5,1276.4 499.8,1277.5 504.0,1278.7 508.2,1279.9 512.4,1281.1 516.6,1282.3 520.8,1283.6 525.0,1284.9 529.2,1286.2 533.4,1287.5 537.6,1288.8 541.9,1290.1 546.1,1291.3 550.3,1292.5 554.5,1293.6 558.7,1294.6 562.9,1295.5 567.1,1296.4 571.3,1297.3 575.5,1298.0 579.7,1298.5 584.0,1298.8 588.2,1298.9 592.4,1299.0 596.6,1299.0 600.8,1299.1 605.0,1299.1 609.2,1299.1 613.4,1299.1 617.6,1299.0 621.8,1299.0 626.0,1299.0 630.3,1298.9 634.5,1298.8 638.7,1298.8 642.9,1298.7 647.1,1298.7 651.3,1298.6 655.5,1298.6 659.7,1298.5 663.9,1298.5 668.1,1298.5 672.4,1298.5 676.6,1298.5 680.8,1298.5 685.0,1298.6 689.2,1298.7 693.4,1298.8 697.6,1298.9 701.8,1299.1 706.0,1299.2 710.2,1299.4 714.5,1299.6 718.7,1299.8 722.9,1300.0 727.1,1300.2 731.3,1300.4 735.5,1300.7 739.7,1300.9 743.9,1301.1 748.1,1301.3 752.4,1301.5 756.6,1301.8 760.8,1302.0 765.0,1302.2 769.2,1302.4 773.4,1302.6 777.6,1302.8 781.8,1302.9 786.0,1303.1 790.2,1303.3 794.5,1303.4 798.7,1303.6 802.9,1303.8 807.1,1303.9 811.3,1304.1 815.5,1304.3 819.7,1304.4 823.9,1304.6 828.1,1304.8 832.3,1304.9 836.5,1305.1 840.8,1305.3 845.0,1305.4 849.2,1305.6 853.4,1305.7 857.6,1305.9 861.8,1306.1 866.0,1306.2 870.2,1306.4 874.4,1306.5 878.6,1306.7 882.9,1306.8 887.1,1307.0 891.3,1307.1 895.5,1307.3 899.7,1307.5 903.9,1307.6 908.1,1307.8 912.3,1307.9 916.5,1308.0 920.8,1308.2 925.0,1308.3 929.2,1308.5 933.4,1308.6 937.6,1308.8 941.8,1308.9 946.0,1309.1 950.2,1309.2 954.4,1309.3 958.6,1309.5 962.9,1309.6 967.1,1309.7 971.3,1309.9 975.5,1310.0 979.7,1310.1 983.9,1310.2 988.1,1310.4 992.3,1310.5 996.5,1310.6 1000.7,1310.7 1005.0,1310.9 1009.2,1311.0 1013.4,1311.1 1017.6,1311.2 1021.8,1311.3 1026.0,1311.4" stroke="#0a0a0a"/>
<path d="M184.0,910.1 185.7,926.9 187.4,943.1 189.1,958.4 190.7,972.4 192.4,984.8 194.1,996.4 195.8,1007.9 197.5,1018.2 199.2,1026.5 200.8,1031.9 202.5,1035.9 204.2,1039.6 205.9,1043.1 207.6,1046.5 209.3,1049.6 210.9,1052.6 212.6,1055.5 214.3,1058.2 216.0,1060.9 217.7,1063.5 219.4,1065.9 221.0,1068.4 222.7,1070.9 224.4,1073.7 226.1,1076.6 227.8,1079.6 229.5,1082.6 231.2,1085.6 232.8,1088.6 234.5,1091.4 236.2,1093.9 237.9,1096.2 239.6,1098.2 241.3,1099.8 242.9,1100.9 244.6,1101.6 246.3,1101.6 248.0,1101.3 249.7,1100.8 251.4,1100.2 253.0,1099.5 254.7,1098.8 256.4,1098.3 258.1,1097.8 259.8,1097.4 261.5,1097.0 263.1,1096.6 264.8,1096.2 266.5,1095.8 268.2,1095.5 269.9,1095.2 271.6,1095.0 273.3,1094.8 274.9,1094.9 276.6,1095.1 278.3,1095.6 280.0,1096.3 281.7,1097.0 283.4,1097.8 285.0,1098.6 286.7,1099.4 288.4,1100.4 290.1,1101.6 291.8,1102.9 293.5,1104.3 295.1,1105.8 296.8,1107.3 298.5,1108.8 300.2,1110.5 301.9,1112.4 303.6,1114.4 305.2,1116.5 306.9,1118.7 308.6,1121.0 310.3,1123.4 312.0,1126.0 313.7,1128.9 315.4,1132.1 317.0,1135.4 318.7,1138.9 320.4,1142.4 322.1,1146.1 323.8,1150.0 325.5,1154.0 327.1,1158.1 328.8,1162.3 330.5,1166.3 332.2,1170.1 333.9,1173.9 335.6,1177.7 337.2,1181.5 338.9,1185.1 340.6,1188.6 342.3,1192.1 344.0,1195.4 345.7,1198.7 347.3,1201.9 349.0,1204.9 350.7,1207.8 352.4,1210.5 354.1,1213.0 355.8,1215.5 357.5,1217.9 359.1,1220.2 360.8,1222.5 362.5,1224.8 364.2,1227.0 365.9,1229.1 367.6,1231.2 369.2,1233.3 370.9,1235.3 372.6,1237.3 374.3,1239.2 376.0,1241.1 377.7,1243.0 379.3,1245.0 381.0,1247.0 382.7,1249.0 384.4,1251.0 386.1,1253.0 387.8,1254.9 389.4,1256.8 391.1,1258.6 392.8,1260.3 394.5,1261.8 396.2,1263.3 397.9,1264.6 399.6,1265.8 401.2,1266.8 402.9,1267.6 404.6,1268.3 406.3,1269.0 408.0,1269.7 409.7,1270.3 411.3,1270.9 413.0,1271.5 414.7,1272.0 416.4,1272.6 418.1,1273.1 419.8,1273.5 421.4,1273.9 423.1,1274.3 424.8,1274.7 426.5,1275.0 428.2,1275.3 429.9,1275.6 431.5,1275.9 433.2,1276.1 434.9,1276.3 436.6,1276.6 438.3,1276.8 440.0,1277.0 441.7,1277.2 443.3,1277.4 445.0,1277.6 446.7,1277.8 448.4,1278.0 450.1,1278.2 451.8,1278.3 453.4,1278.5 455.1,1278.7 456.8,1278.9 457.6,1279.0 461.9,1279.4 466.1,1279.9 470.3,1280.4 474.5,1281.0 478.7,1281.6 482.9,1282.2 487.1,1282.9 491.3,1283.7 495.5,1284.6 499.8,1285.6 504.0,1286.6 508.2,1287.7 512.4,1288.7 516.6,1289.8 520.8,1290.9 525.0,1292.0 529.2,1293.0 533.4,1293.9 537.6,1294.8 541.9,1295.6 546.1,1296.3 550.3,1296.8 554.5,1297.3 558.7,1297.6 562.9,1297.7 567.1,1297.8 571.3,1297.8 575.5,1297.7 579.7,1297.6 584.0,1297.5 588.2,1297.4 592.4,1297.2 596.6,1297.0 600.8,1296.8 605.0,1296.6 609.2,1296.5 613.4,1296.3 617.6,1296.2 621.8,1296.2 626.0,1296.1 630.3,1296.2 634.5,1296.3 638.7,1296.4 642.9,1296.6 647.1,1296.8 651.3,1296.9 655.5,1297.1 659.7,1297.3 663.9,1297.5 668.1,1297.7 672.4,1297.9 676.6,1298.0 680.8,1298.2 685.0,1298.4 689.2,1298.6 693.4,1298.8 697.6,1299.0 701.8,1299.2 706.0,1299.5 710.2,1299.7 714.5,1299.9 718.7,1300.1 722.9,1300.3 727.1,1300.5 731.3,1300.7 735.5,1300.9 739.7,1301.1 743.9,1301.3 748.1,1301.5 752.4,1301.7 756.6,1301.9 760.8,1302.1 765.0,1302.3 769.2,1302.4 773.4,1302.6 777.6,1302.8 781.8,1303.0 786.0,1303.1 790.2,1303.3 794.5,1303.4 798.7,1303.6 802.9,1303.8 807.1,1303.9 811.3,1304.1 815.5,1304.2 819.7,1304.4 823.9,1304.6 828.1,1304.7 832.3,1304.9 836.5,1305.0 840.8,1305.2 845.0,1305.3 849.2,1305.5 853.4,1305.7 857.6,1305.8 861.8,1306.0 866.0,1306.1 870.2,1306.3 874.4,1306.4 878.6,1306.6 882.9,1306.7 887.1,1306.9 891.3,1307.1 895.5,1307.2 899.7,1307.4 903.9,1307.5 908.1,1307.7 912.3,1307.8 916.5,1307.9 920.8,1308.1 925.0,1308.2 929.2,1308.4 933.4,1308.5 937.6,1308.7 941.8,1308.8 946.0,1309.0 950.2,1309.1 954.4,1309.2 958.6,1309.4 962.9,1309.5 967.1,1309.6 971.3,1309.8 975.5,1309.9 979.7,1310.0 983.9,1310.2 988.1,1310.3 992.3,1310.4 996.5,1310.6 1000.7,1310.7 1005.0,1310.8 1009.2,1310.9 1013.4,1311.1 1017.6,1311.2 1021.8,1311.3 1026.0,1311.4" stroke="#e2181e"/>
<path d="M184.0,945.9 185.7,969.3 187.4,988.8 189.1,1000.8 190.7,1009.9 192.4,1018.0 194.1,1026.0 195.8,1034.6 197.5,1043.1 199.2,1051.0 200.8,1057.7 202.5,1063.3 204.2,1068.3 205.9,1073.0 207.6,1077.8 209.3,1082.9 210.9,1088.2 212.6,1093.1 214.3,1097.2 216.0,1100.7 217.7,1103.8 219.4,1106.7 221.0,1109.5 222.7,1112.2 224.4,1114.8 226.1,1117.5 227.8,1120.2 229.5,1123.1 231.2,1126.1 232.8,1129.0 234.5,1131.6 236.2,1133.8 237.9,1135.8 239.6,1137.7 241.3,1139.5 242.9,1141.3 244.6,1143.0 246.3,1144.6 248.0,1146.3 249.7,1148.1 251.4,1149.9 253.0,1151.7 254.7,1153.4 256.4,1155.2 258.1,1156.9 259.8,1158.5 261.5,1159.9 263.1,1161.2 264.8,1162.4 266.5,1163.6 268.2,1164.6 269.9,1165.7 271.6,1166.7 273.3,1167.7 274.9,1168.7 276.6,1169.7 278.3,1170.8 280.0,1171.9 281.7,1173.0 283.4,1174.1 285.0,1175.2 286.7,1176.1 288.4,1177.0 290.1,1177.8 291.8,1178.5 293.5,1179.1 295.1,1179.7 296.8,1180.3 298.5,1180.8 300.2,1181.3 301.9,1181.9 303.6,1182.4 305.2,1183.0 306.9,1183.6 308.6,1184.2 310.3,1184.8 312.0,1185.4 313.7,1186.0 315.4,1186.6 317.0,1187.1 318.7,1187.6 320.4,1188.1 322.1,1188.5 323.8,1188.9 325.5,1189.3 327.1,1189.8 328.8,1190.2 330.5,1190.6 332.2,1191.0 333.9,1191.5 335.6,1191.9 337.2,1192.4 338.9,1192.9 340.6,1193.3 342.3,1193.6 344.0,1193.9 345.7,1194.2 347.3,1194.3 349.0,1194.4 350.7,1194.5 352.4,1194.5 354.1,1194.6 355.8,1194.6 357.5,1194.6 359.1,1194.6 360.8,1194.6 362.5,1194.6 364.2,1194.6 365.9,1194.6 367.6,1194.6 369.2,1194.6 370.9,1194.6 372.6,1194.6 374.3,1194.6 376.0,1194.6 377.7,1194.7 379.3,1194.7 381.0,1194.8 382.7,1194.9 384.4,1195.0 386.1,1195.1 387.8,1195.2 389.4,1195.4 391.1,1195.8 392.8,1196.3 394.5,1196.9 396.2,1197.6 397.9,1198.5 399.6,1199.4 401.2,1200.5 402.9,1201.6 404.6,1202.8 406.3,1204.1 408.0,1205.4 409.7,1206.7 411.3,1208.1 413.0,1209.5 414.7,1210.9 416.4,1212.3 418.1,1213.7 419.8,1215.1 421.4,1216.4 423.1,1217.7 424.8,1218.9 426.5,1220.0 428.2,1221.1 429.9,1222.1 431.5,1223.0 433.2,1224.0 434.9,1225.0 436.6,1226.0 438.3,1227.0 440.0,1228.1 441.7,1229.1 443.3,1230.1 445.0,1231.1 446.7,1232.1 448.4,1233.1 450.1,1234.1 451.8,1235.0 453.4,1235.9 455.1,1236.8 456.8,1237.6 457.6,1238.0 461.9,1239.8 466.1,1241.2 470.3,1242.1 474.5,1242.6 478.7,1243.1 482.9,1243.5 487.1,1243.9 491.3,1244.2 495.5,1244.5 499.8,1244.7 504.0,1244.9 508.2,1245.0 512.4,1245.1 516.6,1245.1 520.8,1245.0 525.0,1244.9 529.2,1244.7 533.4,1244.5 537.6,1244.1 541.9,1243.5 546.1,1242.5 550.3,1241.0 554.5,1239.2 558.7,1237.1 562.9,1234.9 567.1,1232.7 571.3,1230.5 575.5,1228.4 579.7,1226.6 584.0,1225.1 588.2,1223.5 592.4,1222.0 596.6,1220.5 600.8,1219.1 605.0,1217.7 609.2,1216.4 613.4,1215.1 617.6,1213.9 621.8,1212.9 626.0,1211.9 630.3,1211.1 634.5,1210.4 638.7,1210.4 642.9,1211.0 647.1,1212.2 651.3,1213.8 655.5,1215.7 659.7,1218.7 663.9,1223.3 668.1,1227.6 672.4,1232.0 676.6,1236.8 680.8,1241.9 685.0,1247.3 689.2,1253.0 693.4,1258.8 697.6,1264.5 701.8,1270.1 706.0,1275.3 710.2,1280.5 714.5,1285.6 718.7,1290.7 722.9,1295.7 727.1,1300.5 731.3,1305.2 735.5,1309.6 739.7,1313.7 743.9,1317.6 748.1,1321.5 752.4,1325.3 756.6,1329.0 760.8,1332.6 765.0,1336.1 769.2,1339.4 773.4,1342.5 777.6,1345.4 781.8,1348.1 786.0,1350.4 790.2,1352.6 794.5,1354.8 798.7,1356.9 802.9,1359.0 807.1,1361.1 811.3,1363.1 815.5,1365.1 819.7,1367.0 823.9,1368.8 828.1,1370.5 832.3,1372.2 836.5,1373.7 840.8,1375.1 845.0,1376.4 849.2,1377.6 853.4,1378.7 857.6,1379.5 861.8,1380.4 866.0,1381.2 870.2,1382.0 874.4,1382.9 878.6,1383.7 882.9,1384.5 887.1,1385.2 891.3,1386.0 895.5,1386.8 899.7,1387.5 903.9,1388.2 908.1,1388.9 912.3,1389.5 916.5,1390.1 920.8,1390.7 925.0,1391.3 929.2,1391.8 933.4,1392.3 937.6,1392.7 941.8,1393.1 946.0,1393.5 950.2,1393.7 954.4,1394.0 958.6,1394.3 962.9,1394.6 967.1,1394.9 971.3,1395.1 975.5,1395.4 979.7,1395.7 983.9,1395.9 988.1,1396.2 992.3,1396.4 996.5,1396.6 1000.7,1396.8 1005.0,1396.9 1009.2,1397.0 1013.4,1397.1 1017.6,1397.2 1021.8,1397.2 1026.0,1397.2" stroke="#1f7d24"/>
<path d="M184.0,944.3 185.7,965.9 187.4,984.1 189.1,996.2 190.7,1005.9 192.4,1014.4 194.1,1022.4 195.8,1030.6 197.5,1038.5 199.2,1045.9 200.8,1052.3 202.5,1057.8 204.2,1062.8 205.9,1067.6 207.6,1072.4 209.3,1077.3 210.9,1082.3 212.6,1086.9 214.3,1090.9 216.0,1094.4 217.7,1097.6 219.4,1100.6 221.0,1103.5 222.7,1106.2 224.4,1109.0 226.1,1111.7 227.8,1114.5 229.5,1117.4 231.2,1120.4 232.8,1123.3 234.5,1125.9 236.2,1128.2 237.9,1130.4 239.6,1132.5 241.3,1134.5 242.9,1136.4 244.6,1138.2 246.3,1140.1 248.0,1141.9 249.7,1143.6 251.4,1145.4 253.0,1147.2 254.7,1149.0 256.4,1150.7 258.1,1152.3 259.8,1153.9 261.5,1155.3 263.1,1156.7 264.8,1158.0 266.5,1159.2 268.2,1160.3 269.9,1161.5 271.6,1162.6 273.3,1163.7 274.9,1164.7 276.6,1165.8 278.3,1166.9 280.0,1168.0 281.7,1169.1 283.4,1170.2 285.0,1171.3 286.7,1172.3 288.4,1173.2 290.1,1174.0 291.8,1174.7 293.5,1175.4 295.1,1176.1 296.8,1176.7 298.5,1177.4 300.2,1178.0 301.9,1178.6 303.6,1179.2 305.2,1179.9 306.9,1180.6 308.6,1181.3 310.3,1181.9 312.0,1182.6 313.7,1183.3 315.4,1183.9 317.0,1184.5 318.7,1185.1 320.4,1185.7 322.1,1186.2 323.8,1186.7 325.5,1187.3 327.1,1187.8 328.8,1188.3 330.5,1188.8 332.2,1189.3 333.9,1189.8 335.6,1190.3 337.2,1190.9 338.9,1191.4 340.6,1191.9 342.3,1192.3 344.0,1192.7 345.7,1193.1 347.3,1193.3 349.0,1193.5 350.7,1193.6 352.4,1193.7 354.1,1193.8 355.8,1193.9 357.5,1193.9 359.1,1193.9 360.8,1193.9 362.5,1193.8 364.2,1193.8 365.9,1193.8 367.6,1193.7 369.2,1193.7 370.9,1193.6 372.6,1193.6 374.3,1193.6 376.0,1193.6 377.7,1193.6 379.3,1193.7 381.0,1193.8 382.7,1193.9 384.4,1194.0 386.1,1194.2 387.8,1194.5 389.4,1194.8 391.1,1195.2 392.8,1195.7 394.5,1196.4 396.2,1197.2 397.9,1198.0 399.6,1199.0 401.2,1200.0 402.9,1201.1 404.6,1202.3 406.3,1203.5 408.0,1204.7 409.7,1206.0 411.3,1207.4 413.0,1208.7 414.7,1210.0 416.4,1211.3 418.1,1212.6 419.8,1213.9 421.4,1215.2 423.1,1216.4 424.8,1217.6 426.5,1218.7 428.2,1219.7 429.9,1220.7 431.5,1221.6 433.2,1222.5 434.9,1223.5 436.6,1224.5 438.3,1225.5 440.0,1226.5 441.7,1227.5 443.3,1228.5 445.0,1229.4 446.7,1230.4 448.4,1231.4 450.1,1232.3 451.8,1233.2 453.4,1234.1 455.1,1234.9 456.8,1235.7 457.6,1236.1 461.9,1237.8 466.1,1239.2 470.3,1240.1 474.5,1240.7 478.7,1241.2 482.9,1241.6 487.1,1242.0 491.3,1242.3 495.5,1242.6 499.8,1242.8 504.0,1242.9 508.2,1243.0 512.4,1243.0 516.6,1242.9 520.8,1242.8 525.0,1242.5 529.2,1242.2 533.4,1241.8 537.6,1241.3 541.9,1240.6 546.1,1239.5 550.3,1238.0 554.5,1236.2 558.7,1234.2 562.9,1232.0 567.1,1229.9 571.3,1227.7 575.5,1225.7 579.7,1223.9 584.0,1222.4 588.2,1220.8 592.4,1219.3 596.6,1217.7 600.8,1216.2 605.0,1214.8 609.2,1213.4 613.4,1212.1 617.6,1210.9 621.8,1209.8 626.0,1208.8 630.3,1208.0 634.5,1207.4 638.7,1207.4 642.9,1208.1 647.1,1209.4 651.3,1211.0 655.5,1212.8 659.7,1215.5 663.9,1219.7 668.1,1223.9 672.4,1228.5 676.6,1233.3 680.8,1238.5 685.0,1244.0 689.2,1249.7 693.4,1255.5 697.6,1261.2 701.8,1266.8 706.0,1272.1 710.2,1277.4 714.5,1282.6 718.7,1287.8 722.9,1292.9 727.1,1297.9 731.3,1302.6 735.5,1307.2 739.7,1311.4 743.9,1315.4 748.1,1319.3 752.4,1323.2 756.6,1327.1 760.8,1330.7 765.0,1334.3 769.2,1337.6 773.4,1340.8 777.6,1343.8 781.8,1346.5 786.0,1348.9 790.2,1351.1 794.5,1353.3 798.7,1355.5 802.9,1357.7 807.1,1359.8 811.3,1361.9 815.5,1363.9 819.7,1365.8 823.9,1367.7 828.1,1369.4 832.3,1371.1 836.5,1372.7 840.8,1374.1 845.0,1375.5 849.2,1376.7 853.4,1377.7 857.6,1378.6 861.8,1379.5 866.0,1380.3 870.2,1381.2 874.4,1382.0 878.6,1382.8 882.9,1383.7 887.1,1384.5 891.3,1385.2 895.5,1386.0 899.7,1386.7 903.9,1387.5 908.1,1388.2 912.3,1388.8 916.5,1389.5 920.8,1390.1 925.0,1390.6 929.2,1391.1 933.4,1391.6 937.6,1392.1 941.8,1392.5 946.0,1392.8 950.2,1393.1 954.4,1393.4 958.6,1393.7 962.9,1394.0 967.1,1394.3 971.3,1394.5 975.5,1394.8 979.7,1395.1 983.9,1395.3 988.1,1395.6 992.3,1395.8 996.5,1396.0 1000.7,1396.2 1005.0,1396.3 1009.2,1396.4 1013.4,1396.5 1017.6,1396.6 1021.8,1396.6 1026.0,1396.6" stroke="#9a8a1c"/>
<path d="M184.0,942.7 185.7,962.4 187.4,979.4 189.1,991.6 190.7,1001.8 192.4,1010.8 194.1,1018.8 195.8,1026.5 197.5,1033.9 199.2,1040.8 200.8,1046.9 202.5,1052.3 204.2,1057.4 205.9,1062.3 207.6,1067.0 209.3,1071.7 210.9,1076.4 212.6,1080.8 214.3,1084.6 216.0,1088.1 217.7,1091.3 219.4,1094.4 221.0,1097.4 222.7,1100.3 224.4,1103.1 226.1,1106.0 227.8,1108.8 229.5,1111.7 231.2,1114.7 232.8,1117.5 234.5,1120.2 236.2,1122.6 237.9,1124.9 239.6,1127.2 241.3,1129.4 242.9,1131.5 244.6,1133.5 246.3,1135.5 248.0,1137.4 249.7,1139.2 251.4,1141.0 253.0,1142.8 254.7,1144.5 256.4,1146.1 258.1,1147.8 259.8,1149.3 261.5,1150.8 263.1,1152.1 264.8,1153.5 266.5,1154.8 268.2,1156.0 269.9,1157.3 271.6,1158.5 273.3,1159.6 274.9,1160.8 276.6,1161.9 278.3,1163.0 280.0,1164.1 281.7,1165.2 283.4,1166.3 285.0,1167.4 286.7,1168.4 288.4,1169.3 290.1,1170.2 291.8,1171.0 293.5,1171.8 295.1,1172.5 296.8,1173.2 298.5,1173.9 300.2,1174.6 301.9,1175.3 303.6,1176.0 305.2,1176.8 306.9,1177.5 308.6,1178.3 310.3,1179.0 312.0,1179.8 313.7,1180.5 315.4,1181.2 317.0,1181.9 318.7,1182.6 320.4,1183.2 322.1,1183.9 323.8,1184.5 325.5,1185.2 327.1,1185.8 328.8,1186.4 330.5,1187.0 332.2,1187.6 333.9,1188.2 335.6,1188.8 337.2,1189.4 338.9,1189.9 340.6,1190.5 342.3,1191.0 344.0,1191.5 345.7,1192.0 347.3,1192.3 349.0,1192.6 350.7,1192.8 352.4,1192.9 354.1,1193.0 355.8,1193.1 357.5,1193.1 359.1,1193.1 360.8,1193.1 362.5,1193.1 364.2,1193.0 365.9,1192.9 367.6,1192.9 369.2,1192.8 370.9,1192.7 372.6,1192.7 374.3,1192.7 376.0,1192.7 377.7,1192.7 379.3,1192.7 381.0,1192.8 382.7,1193.0 384.4,1193.2 386.1,1193.4 387.8,1193.7 389.4,1194.1 391.1,1194.6 392.8,1195.1 394.5,1195.8 396.2,1196.6 397.9,1197.5 399.6,1198.4 401.2,1199.4 402.9,1200.5 404.6,1201.6 406.3,1202.8 408.0,1204.0 409.7,1205.3 411.3,1206.5 413.0,1207.8 414.7,1209.0 416.4,1210.3 418.1,1211.6 419.8,1212.8 421.4,1214.0 423.1,1215.1 424.8,1216.2 426.5,1217.3 428.2,1218.3 429.9,1219.2 431.5,1220.1 433.2,1221.0 434.9,1222.0 436.6,1222.9 438.3,1223.9 440.0,1224.8 441.7,1225.8 443.3,1226.8 445.0,1227.7 446.7,1228.7 448.4,1229.6 450.1,1230.5 451.8,1231.4 453.4,1232.2 455.1,1233.0 456.8,1233.8 457.6,1234.2 461.9,1235.8 466.1,1237.2 470.3,1238.1 474.5,1238.7 478.7,1239.3 482.9,1239.7 487.1,1240.1 491.3,1240.4 495.5,1240.7 499.8,1240.8 504.0,1240.9 508.2,1240.9 512.4,1240.9 516.6,1240.7 520.8,1240.5 525.0,1240.2 529.2,1239.7 533.4,1239.2 537.6,1238.5 541.9,1237.7 546.1,1236.5 550.3,1235.0 554.5,1233.2 558.7,1231.2 562.9,1229.1 567.1,1227.0 571.3,1225.0 575.5,1223.0 579.7,1221.3 584.0,1219.7 588.2,1218.1 592.4,1216.5 596.6,1214.9 600.8,1213.3 605.0,1211.8 609.2,1210.4 613.4,1209.0 617.6,1207.8 621.8,1206.7 626.0,1205.7 630.3,1204.9 634.5,1204.3 638.7,1204.4 642.9,1205.2 647.1,1206.5 651.3,1208.2 655.5,1210.0 659.7,1212.4 663.9,1216.1 668.1,1220.3 672.4,1224.9 676.6,1229.9 680.8,1235.1 685.0,1240.6 689.2,1246.3 693.4,1252.1 697.6,1257.9 701.8,1263.5 706.0,1268.9 710.2,1274.2 714.5,1279.6 718.7,1284.9 722.9,1290.2 727.1,1295.2 731.3,1300.1 735.5,1304.7 739.7,1309.1 743.9,1313.2 748.1,1317.2 752.4,1321.2 756.6,1325.1 760.8,1328.9 765.0,1332.5 769.2,1335.9 773.4,1339.1 777.6,1342.1 781.8,1344.9 786.0,1347.4 790.2,1349.6 794.5,1351.9 798.7,1354.1 802.9,1356.3 807.1,1358.5 811.3,1360.6 815.5,1362.6 819.7,1364.6 823.9,1366.5 828.1,1368.3 832.3,1370.0 836.5,1371.6 840.8,1373.1 845.0,1374.5 849.2,1375.7 853.4,1376.8 857.6,1377.7 861.8,1378.6 866.0,1379.5 870.2,1380.3 874.4,1381.2 878.6,1382.0 882.9,1382.8 887.1,1383.7 891.3,1384.5 895.5,1385.2 899.7,1386.0 903.9,1386.7 908.1,1387.4 912.3,1388.1 916.5,1388.8 920.8,1389.4 925.0,1390.0 929.2,1390.5 933.4,1391.0 937.6,1391.4 941.8,1391.9 946.0,1392.2 950.2,1392.5 954.4,1392.8 958.6,1393.1 962.9,1393.4 967.1,1393.7 971.3,1393.9 975.5,1394.2 979.7,1394.5 983.9,1394.7 988.1,1395.0 992.3,1395.2 996.5,1395.4 1000.7,1395.6 1005.0,1395.7 1009.2,1395.8 1013.4,1395.9 1017.6,1396.0 1021.8,1396.0 1026.0,1396.0" stroke="#7a1418"/>
<path d="M184.0,940.6 185.7,958.0 187.4,973.3 189.1,985.6 190.7,996.5 192.4,1006.1 194.1,1014.1 195.8,1021.3 197.5,1028.0 199.2,1034.2 200.8,1039.9 202.5,1045.2 204.2,1050.4 205.9,1055.3 207.6,1059.9 209.3,1064.4 210.9,1068.7 212.6,1072.7 214.3,1076.4 216.0,1079.8 217.7,1083.1 219.4,1086.3 221.0,1089.4 222.7,1092.5 224.4,1095.5 226.1,1098.4 227.8,1101.4 229.5,1104.3 231.2,1107.2 232.8,1110.1 234.5,1112.7 236.2,1115.3 237.9,1117.8 239.6,1120.3 241.3,1122.7 242.9,1125.1 244.6,1127.3 246.3,1129.5 248.0,1131.5 249.7,1133.4 251.4,1135.2 253.0,1136.9 254.7,1138.6 256.4,1140.2 258.1,1141.8 259.8,1143.3 261.5,1144.8 263.1,1146.2 264.8,1147.6 266.5,1149.1 268.2,1150.4 269.9,1151.8 271.6,1153.1 273.3,1154.4 274.9,1155.6 276.6,1156.8 278.3,1157.9 280.0,1159.0 281.7,1160.2 283.4,1161.2 285.0,1162.3 286.7,1163.3 288.4,1164.3 290.1,1165.2 291.8,1166.1 293.5,1166.9 295.1,1167.8 296.8,1168.6 298.5,1169.4 300.2,1170.2 301.9,1171.0 303.6,1171.8 305.2,1172.7 306.9,1173.5 308.6,1174.4 310.3,1175.2 312.0,1176.1 313.7,1176.9 315.4,1177.7 317.0,1178.5 318.7,1179.3 320.4,1180.1 322.1,1180.9 323.8,1181.7 325.5,1182.4 327.1,1183.2 328.8,1183.9 330.5,1184.6 332.2,1185.3 333.9,1186.0 335.6,1186.7 337.2,1187.4 338.9,1188.1 340.6,1188.7 342.3,1189.3 344.0,1189.9 345.7,1190.5 347.3,1191.0 349.0,1191.4 350.7,1191.7 352.4,1191.9 354.1,1192.0 355.8,1192.1 357.5,1192.1 359.1,1192.1 360.8,1192.1 362.5,1192.1 364.2,1192.0 365.9,1191.9 367.6,1191.8 369.2,1191.7 370.9,1191.6 372.6,1191.6 374.3,1191.5 376.0,1191.5 377.7,1191.5 379.3,1191.6 381.0,1191.7 382.7,1191.8 384.4,1192.1 386.1,1192.4 387.8,1192.7 389.4,1193.2 391.1,1193.7 392.8,1194.3 394.5,1195.0 396.2,1195.8 397.9,1196.7 399.6,1197.6 401.2,1198.6 402.9,1199.7 404.6,1200.7 406.3,1201.9 408.0,1203.0 409.7,1204.2 411.3,1205.3 413.0,1206.5 414.7,1207.7 416.4,1208.9 418.1,1210.1 419.8,1211.2 421.4,1212.4 423.1,1213.4 424.8,1214.5 426.5,1215.5 428.2,1216.5 429.9,1217.3 431.5,1218.2 433.2,1219.1 434.9,1220.0 436.6,1220.9 438.3,1221.8 440.0,1222.7 441.7,1223.6 443.3,1224.6 445.0,1225.5 446.7,1226.4 448.4,1227.2 450.1,1228.1 451.8,1228.9 453.4,1229.7 455.1,1230.5 456.8,1231.3 457.6,1231.6 461.9,1233.3 466.1,1234.6 470.3,1235.6 474.5,1236.2 478.7,1236.8 482.9,1237.3 487.1,1237.7 491.3,1238.0 495.5,1238.2 499.8,1238.3 504.0,1238.3 508.2,1238.3 512.4,1238.1 516.6,1237.9 520.8,1237.5 525.0,1237.0 529.2,1236.4 533.4,1235.7 537.6,1234.8 541.9,1233.9 546.1,1232.6 550.3,1231.0 554.5,1229.3 558.7,1227.4 562.9,1225.4 567.1,1223.4 571.3,1221.4 575.5,1219.5 579.7,1217.8 584.0,1216.2 588.2,1214.5 592.4,1212.9 596.6,1211.2 600.8,1209.6 605.0,1208.0 609.2,1206.4 613.4,1205.0 617.6,1203.7 621.8,1202.6 626.0,1201.6 630.3,1200.8 634.5,1200.3 638.7,1200.5 642.9,1201.4 647.1,1202.8 651.3,1204.5 655.5,1206.2 659.7,1208.3 663.9,1211.4 668.1,1215.5 672.4,1220.3 676.6,1225.4 680.8,1230.7 685.0,1236.2 689.2,1241.9 693.4,1247.8 697.6,1253.6 701.8,1259.2 706.0,1264.7 710.2,1270.2 714.5,1275.7 718.7,1281.1 722.9,1286.5 727.1,1291.8 731.3,1296.8 735.5,1301.6 739.7,1306.0 743.9,1310.3 748.1,1314.4 752.4,1318.5 756.6,1322.5 760.8,1326.4 765.0,1330.1 769.2,1333.6 773.4,1336.9 777.6,1340.0 781.8,1342.8 786.0,1345.4 790.2,1347.7 794.5,1350.0 798.7,1352.3 802.9,1354.6 807.1,1356.8 811.3,1358.9 815.5,1361.0 819.7,1363.1 823.9,1365.0 828.1,1366.9 832.3,1368.6 836.5,1370.3 840.8,1371.8 845.0,1373.2 849.2,1374.5 853.4,1375.6 857.6,1376.5 861.8,1377.4 866.0,1378.3 870.2,1379.2 874.4,1380.1 878.6,1380.9 882.9,1381.8 887.1,1382.6 891.3,1383.5 895.5,1384.3 899.7,1385.0 903.9,1385.8 908.1,1386.5 912.3,1387.2 916.5,1387.9 920.8,1388.5 925.0,1389.1 929.2,1389.7 933.4,1390.2 937.6,1390.6 941.8,1391.0 946.0,1391.4 950.2,1391.7 954.4,1392.0 958.6,1392.3 962.9,1392.6 967.1,1392.9 971.3,1393.2 975.5,1393.4 979.7,1393.7 983.9,1393.9 988.1,1394.2 992.3,1394.4 996.5,1394.6 1000.7,1394.8 1005.0,1394.9 1009.2,1395.0 1013.4,1395.1 1017.6,1395.2 1021.8,1395.2 1026.0,1395.2" stroke="#4a78a6"/>
<path d="M184.0,938.1 185.7,952.8 187.4,966.3 189.1,978.4 190.7,990.1 192.4,1000.5 194.1,1008.6 195.8,1015.1 197.5,1020.9 199.2,1026.3 200.8,1031.6 202.5,1036.9 204.2,1042.1 205.9,1047.1 207.6,1051.6 209.3,1055.7 210.9,1059.6 212.6,1063.3 214.3,1066.8 216.0,1070.2 217.7,1073.5 219.4,1076.8 221.0,1080.1 222.7,1083.3 224.4,1086.5 226.1,1089.5 227.8,1092.6 229.5,1095.6 231.2,1098.4 232.8,1101.2 234.5,1104.0 236.2,1106.7 237.9,1109.4 239.6,1112.2 241.3,1114.9 242.9,1117.5 244.6,1120.1 246.3,1122.4 248.0,1124.6 249.7,1126.6 251.4,1128.4 253.0,1130.1 254.7,1131.7 256.4,1133.3 258.1,1134.8 259.8,1136.3 261.5,1137.7 263.1,1139.3 264.8,1140.8 266.5,1142.3 268.2,1143.8 269.9,1145.3 271.6,1146.8 273.3,1148.2 274.9,1149.5 276.6,1150.7 278.3,1151.9 280.0,1153.1 281.7,1154.2 283.4,1155.2 285.0,1156.3 286.7,1157.3 288.4,1158.3 290.1,1159.3 291.8,1160.3 293.5,1161.3 295.1,1162.2 296.8,1163.1 298.5,1164.1 300.2,1165.0 301.9,1166.0 303.6,1166.9 305.2,1167.9 306.9,1168.8 308.6,1169.8 310.3,1170.7 312.0,1171.7 313.7,1172.6 315.4,1173.6 317.0,1174.5 318.7,1175.5 320.4,1176.4 322.1,1177.3 323.8,1178.3 325.5,1179.2 327.1,1180.1 328.8,1181.0 330.5,1181.9 332.2,1182.7 333.9,1183.5 335.6,1184.3 337.2,1185.1 338.9,1185.8 340.6,1186.6 342.3,1187.4 344.0,1188.1 345.7,1188.8 347.3,1189.5 349.0,1190.0 350.7,1190.3 352.4,1190.6 354.1,1190.8 355.8,1190.9 357.5,1191.0 359.1,1191.0 360.8,1191.0 362.5,1190.9 364.2,1190.8 365.9,1190.7 367.6,1190.6 369.2,1190.5 370.9,1190.4 372.6,1190.3 374.3,1190.3 376.0,1190.2 377.7,1190.2 379.3,1190.3 381.0,1190.4 382.7,1190.6 384.4,1190.8 386.1,1191.2 387.8,1191.6 389.4,1192.1 391.1,1192.7 392.8,1193.3 394.5,1194.0 396.2,1194.8 397.9,1195.7 399.6,1196.6 401.2,1197.6 402.9,1198.5 404.6,1199.6 406.3,1200.6 408.0,1201.7 409.7,1202.8 411.3,1203.9 413.0,1205.0 414.7,1206.1 416.4,1207.2 418.1,1208.3 419.8,1209.4 421.4,1210.4 423.1,1211.5 424.8,1212.4 426.5,1213.4 428.2,1214.3 429.9,1215.1 431.5,1215.9 433.2,1216.8 434.9,1217.6 436.6,1218.5 438.3,1219.4 440.0,1220.2 441.7,1221.1 443.3,1222.0 445.0,1222.8 446.7,1223.7 448.4,1224.5 450.1,1225.3 451.8,1226.1 453.4,1226.9 455.1,1227.6 456.8,1228.3 457.6,1228.7 461.9,1230.2 466.1,1231.5 470.3,1232.5 474.5,1233.2 478.7,1233.8 482.9,1234.3 487.1,1234.7 491.3,1235.0 495.5,1235.2 499.8,1235.3 504.0,1235.3 508.2,1235.2 512.4,1234.9 516.6,1234.5 520.8,1234.0 525.0,1233.3 529.2,1232.5 533.4,1231.6 537.6,1230.5 541.9,1229.4 546.1,1228.0 550.3,1226.4 554.5,1224.7 558.7,1222.9 562.9,1221.0 567.1,1219.1 571.3,1217.2 575.5,1215.4 579.7,1213.6 584.0,1212.0 588.2,1210.3 592.4,1208.6 596.6,1206.8 600.8,1205.0 605.0,1203.3 609.2,1201.7 613.4,1200.1 617.6,1198.8 621.8,1197.6 626.0,1196.7 630.3,1196.0 634.5,1195.6 638.7,1196.0 642.9,1197.0 647.1,1198.5 651.3,1200.2 655.5,1201.8 659.7,1203.5 663.9,1205.9 668.1,1209.7 672.4,1214.8 676.6,1220.2 680.8,1225.5 685.0,1231.1 689.2,1236.8 693.4,1242.6 697.6,1248.4 701.8,1254.2 706.0,1259.8 710.2,1265.3 714.5,1271.0 718.7,1276.6 722.9,1282.2 727.1,1287.7 731.3,1292.9 735.5,1297.9 739.7,1302.5 743.9,1306.9 748.1,1311.2 752.4,1315.4 756.6,1319.5 760.8,1323.5 765.0,1327.3 769.2,1330.9 773.4,1334.3 777.6,1337.5 781.8,1340.4 786.0,1343.0 790.2,1345.4 794.5,1347.8 798.7,1350.2 802.9,1352.5 807.1,1354.8 811.3,1357.0 815.5,1359.2 819.7,1361.3 823.9,1363.3 828.1,1365.2 832.3,1367.0 836.5,1368.7 840.8,1370.3 845.0,1371.7 849.2,1373.0 853.4,1374.1 857.6,1375.1 861.8,1376.1 866.0,1377.0 870.2,1377.9 874.4,1378.8 878.6,1379.7 882.9,1380.6 887.1,1381.4 891.3,1382.3 895.5,1383.1 899.7,1383.9 903.9,1384.7 908.1,1385.4 912.3,1386.1 916.5,1386.8 920.8,1387.5 925.0,1388.1 929.2,1388.7 933.4,1389.2 937.6,1389.7 941.8,1390.1 946.0,1390.5 950.2,1390.8 954.4,1391.1 958.6,1391.4 962.9,1391.7 967.1,1391.9 971.3,1392.2 975.5,1392.5 979.7,1392.8 983.9,1393.0 988.1,1393.3 992.3,1393.5 996.5,1393.7 1000.7,1393.8 1005.0,1394.0 1009.2,1394.1 1013.4,1394.2 1017.6,1394.2 1021.8,1394.2 1026.0,1394.2" stroke="#8a1090"/>
<path d="M184.0,947.4 185.7,972.4 187.4,993.1 189.1,1005.4 190.7,1015.6 192.4,1025.3 194.1,1034.2 195.8,1042.4 197.5,1049.9 199.2,1056.6 200.8,1062.6 202.5,1068.3 204.2,1074.0 205.9,1079.7 207.6,1085.1 209.3,1090.3 210.9,1095.0 212.6,1099.3 214.3,1103.0 216.0,1106.4 217.7,1109.7 219.4,1112.9 221.0,1116.0 222.7,1119.1 224.4,1122.0 226.1,1124.9 227.8,1127.6 229.5,1130.1 231.2,1132.6 232.8,1134.8 234.5,1136.9 236.2,1138.9 237.9,1140.8 239.6,1142.8 241.3,1144.7 242.9,1146.6 244.6,1148.4 246.3,1150.2 248.0,1152.0 249.7,1153.7 251.4,1155.4 253.0,1157.1 254.7,1158.6 256.4,1160.1 258.1,1161.5 259.8,1162.9 261.5,1164.2 263.1,1165.4 264.8,1166.6 266.5,1167.8 268.2,1168.9 269.9,1170.1 271.6,1171.2 273.3,1172.4 274.9,1173.5 276.6,1174.5 278.3,1175.5 280.0,1176.5 281.7,1177.5 283.4,1178.4 285.0,1179.2 286.7,1180.0 288.4,1180.7 290.1,1181.3 291.8,1182.0 293.5,1182.6 295.1,1183.1 296.8,1183.7 298.5,1184.3 300.2,1184.8 301.9,1185.4 303.6,1185.9 305.2,1186.4 306.9,1186.9 308.6,1187.3 310.3,1187.8 312.0,1188.3 313.7,1188.7 315.4,1189.1 317.0,1189.5 318.7,1189.9 320.4,1190.3 322.1,1190.7 323.8,1191.0 325.5,1191.4 327.1,1191.8 328.8,1192.1 330.5,1192.5 332.2,1192.8 333.9,1193.2 335.6,1193.5 337.2,1193.8 338.9,1194.1 340.6,1194.4 342.3,1194.7 344.0,1195.0 345.7,1195.3 347.3,1195.5 349.0,1195.6 350.7,1195.7 352.4,1195.8 354.1,1195.8 355.8,1195.8 357.5,1195.8 359.1,1195.7 360.8,1195.6 362.5,1195.6 364.2,1195.5 365.9,1195.4 367.6,1195.3 369.2,1195.2 370.9,1195.1 372.6,1195.0 374.3,1195.0 376.0,1194.9 377.7,1194.9 379.3,1195.0 381.0,1195.1 382.7,1195.2 384.4,1195.3 386.1,1195.6 387.8,1195.8 389.4,1196.2 391.1,1196.7 392.8,1197.3 394.5,1198.0 396.2,1198.8 397.9,1199.7 399.6,1200.7 401.2,1201.8 402.9,1203.0 404.6,1204.2 406.3,1205.5 408.0,1206.8 409.7,1208.2 411.3,1209.5 413.0,1210.9 414.7,1212.3 416.4,1213.7 418.1,1215.1 419.8,1216.4 421.4,1217.7 423.1,1219.0 424.8,1220.2 426.5,1221.3 428.2,1222.4 429.9,1223.4 431.5,1224.4 433.2,1225.4 434.9,1226.4 436.6,1227.5 438.3,1228.5 440.0,1229.6 441.7,1230.6 443.3,1231.7 445.0,1232.7 446.7,1233.7 448.4,1234.7 450.1,1235.7 451.8,1236.7 453.4,1237.6 455.1,1238.5 456.8,1239.3 457.6,1239.7 461.9,1241.6 466.1,1243.0 470.3,1243.9 474.5,1244.4 478.7,1244.9 482.9,1245.3 487.1,1245.7 491.3,1246.0 495.5,1246.3 499.8,1246.5 504.0,1246.7 508.2,1246.9 512.4,1247.0 516.6,1247.1 520.8,1247.1 525.0,1247.1 529.2,1247.1 533.4,1246.9 537.6,1246.6 541.9,1246.2 546.1,1245.2 550.3,1243.8 554.5,1241.9 558.7,1239.8 562.9,1237.6 567.1,1235.2 571.3,1233.0 575.5,1230.9 579.7,1229.1 584.0,1227.6 588.2,1226.1 592.4,1224.6 596.6,1223.1 600.8,1221.7 605.0,1220.4 609.2,1219.1 613.4,1217.9 617.6,1216.7 621.8,1215.7 626.0,1214.8 630.3,1213.9 634.5,1213.3 638.7,1213.2 642.9,1213.8 647.1,1215.0 651.3,1216.5 655.5,1218.4 659.7,1220.7 663.9,1224.5 668.1,1229.3 672.4,1234.6 676.6,1239.9 680.8,1245.0 685.0,1250.5 689.2,1256.2 693.4,1261.9 697.6,1267.6 701.8,1273.1 706.0,1278.3 710.2,1283.4 714.5,1288.4 718.7,1293.4 722.9,1298.3 727.1,1303.0 731.3,1307.5 735.5,1311.8 739.7,1315.8 743.9,1319.7 748.1,1323.4 752.4,1327.2 756.6,1330.8 760.8,1334.4 765.0,1337.8 769.2,1341.0 773.4,1344.1 777.6,1346.9 781.8,1349.5 786.0,1351.8 790.2,1354.0 794.5,1356.1 798.7,1358.2 802.9,1360.3 807.1,1362.3 811.3,1364.3 815.5,1366.2 819.7,1368.1 823.9,1369.8 828.1,1371.6 832.3,1373.2 836.5,1374.7 840.8,1376.1 845.0,1377.3 849.2,1378.5 853.4,1379.5 857.6,1380.4 861.8,1381.2 866.0,1382.0 870.2,1382.8 874.4,1383.6 878.6,1384.4 882.9,1385.2 887.1,1386.0 891.3,1386.7 895.5,1387.5 899.7,1388.2 903.9,1388.9 908.1,1389.5 912.3,1390.2 916.5,1390.8 920.8,1391.3 925.0,1391.9 929.2,1392.4 933.4,1392.9 937.6,1393.3 941.8,1393.7 946.0,1394.0 950.2,1394.3 954.4,1394.6 958.6,1394.9 962.9,1395.1 967.1,1395.4 971.3,1395.7 975.5,1396.0 979.7,1396.2 983.9,1396.5 988.1,1396.7 992.3,1396.9 996.5,1397.1 1000.7,1397.3 1005.0,1397.5 1009.2,1397.6 1013.4,1397.7 1017.6,1397.8 1021.8,1397.8 1026.0,1397.8" stroke="#3b9b9c"/>
<path d="M184.0,935.0 185.7,948.5 187.4,961.7 189.1,974.1 190.7,985.2 192.4,994.5 194.1,1001.6 195.8,1007.7 197.5,1013.5 199.2,1018.9 200.8,1024.0 202.5,1028.8 204.2,1033.2 205.9,1037.4 207.6,1041.2 209.3,1044.9 210.9,1048.5 212.6,1052.0 214.3,1055.5 216.0,1059.0 217.7,1062.4 219.4,1065.7 221.0,1069.0 222.7,1072.2 224.4,1075.4 226.1,1078.6 227.8,1081.6 229.5,1084.7 231.2,1087.8 232.8,1090.9 234.5,1094.0 236.2,1097.1 237.9,1100.2 239.6,1103.2 241.3,1106.0 242.9,1108.8 244.6,1111.4 246.3,1113.8 248.0,1116.0 249.7,1118.0 251.4,1120.0 253.0,1121.9 254.7,1123.7 256.4,1125.5 258.1,1127.2 259.8,1128.9 261.5,1130.6 263.1,1132.1 264.8,1133.7 266.5,1135.2 268.2,1136.6 269.9,1138.0 271.6,1139.4 273.3,1140.7 274.9,1142.0 276.6,1143.2 278.3,1144.4 280.0,1145.6 281.7,1146.7 283.4,1147.8 285.0,1148.9 286.7,1150.0 288.4,1151.1 290.1,1152.2 291.8,1153.3 293.5,1154.3 295.1,1155.4 296.8,1156.4 298.5,1157.5 300.2,1158.6 301.9,1159.6 303.6,1160.7 305.2,1161.8 306.9,1163.0 308.6,1164.1 310.3,1165.2 312.0,1166.3 313.7,1167.5 315.4,1168.6 317.0,1169.7 318.7,1170.8 320.4,1171.9 322.1,1173.1 323.8,1174.2 325.5,1175.2 327.1,1176.3 328.8,1177.4 330.5,1178.4 332.2,1179.4 333.9,1180.5 335.6,1181.5 337.2,1182.6 338.9,1183.6 340.6,1184.6 342.3,1185.5 344.0,1186.3 345.7,1187.1 347.3,1187.7 349.0,1188.2 350.7,1188.5 352.4,1188.9 354.1,1189.1 355.8,1189.2 357.5,1189.3 359.1,1189.4 360.8,1189.3 362.5,1189.3 364.2,1189.2 365.9,1189.1 367.6,1189.0 369.2,1188.9 370.9,1188.8 372.6,1188.7 374.3,1188.7 376.0,1188.6 377.7,1188.7 379.3,1188.7 381.0,1188.9 382.7,1189.1 384.4,1189.3 386.1,1189.7 387.8,1190.1 389.4,1190.7 391.1,1191.3 392.8,1192.0 394.5,1192.7 396.2,1193.5 397.9,1194.3 399.6,1195.2 401.2,1196.1 402.9,1197.0 404.6,1198.0 406.3,1199.0 408.0,1200.0 409.7,1201.0 411.3,1202.0 413.0,1203.0 414.7,1204.0 416.4,1205.0 418.1,1206.0 419.8,1207.0 421.4,1208.0 423.1,1208.9 424.8,1209.8 426.5,1210.7 428.2,1211.6 429.9,1212.4 431.5,1213.1 433.2,1213.9 434.9,1214.7 436.6,1215.5 438.3,1216.3 440.0,1217.1 441.7,1217.9 443.3,1218.7 445.0,1219.5 446.7,1220.3 448.4,1221.1 450.1,1221.8 451.8,1222.6 453.4,1223.3 455.1,1224.0 456.8,1224.7 457.6,1225.0 461.9,1226.5 466.1,1227.7 470.3,1228.7 474.5,1229.5 478.7,1230.1 482.9,1230.7 487.1,1231.1 491.3,1231.4 495.5,1231.5 499.8,1231.6 504.0,1231.5 508.2,1231.3 512.4,1230.9 516.6,1230.3 520.8,1229.6 525.0,1228.6 529.2,1227.6 533.4,1226.4 537.6,1225.1 541.9,1223.8 546.1,1222.4 550.3,1220.8 554.5,1219.1 558.7,1217.3 562.9,1215.5 567.1,1213.7 571.3,1211.9 575.5,1210.2 579.7,1208.5 584.0,1206.9 588.2,1205.3 592.4,1203.6 596.6,1201.9 600.8,1200.3 605.0,1198.6 609.2,1197.1 613.4,1195.5 617.6,1194.1 621.8,1192.8 626.0,1191.6 630.3,1190.5 634.5,1189.6 638.7,1189.3 642.9,1189.8 647.1,1190.9 651.3,1192.5 655.5,1194.4 659.7,1196.6 663.9,1199.0 668.1,1202.7 672.4,1208.0 676.6,1213.6 680.8,1219.0 685.0,1224.6 689.2,1230.4 693.4,1236.2 697.6,1242.1 701.8,1247.9 706.0,1253.6 710.2,1259.3 714.5,1265.2 718.7,1271.0 722.9,1276.9 727.1,1282.5 731.3,1288.0 735.5,1293.2 739.7,1298.0 743.9,1302.6 748.1,1307.1 752.4,1311.5 756.6,1315.7 760.8,1319.9 765.0,1323.8 769.2,1327.6 773.4,1331.1 777.6,1334.4 781.8,1337.4 786.0,1340.1 790.2,1342.6 794.5,1345.0 798.7,1347.5 802.9,1349.9 807.1,1352.3 811.3,1354.6 815.5,1356.8 819.7,1359.0 823.9,1361.1 828.1,1363.1 832.3,1364.9 836.5,1366.7 840.8,1368.3 845.0,1369.8 849.2,1371.2 853.4,1372.4 857.6,1373.4 861.8,1374.3 866.0,1375.3 870.2,1376.2 874.4,1377.2 878.6,1378.1 882.9,1379.0 887.1,1379.9 891.3,1380.8 895.5,1381.6 899.7,1382.5 903.9,1383.3 908.1,1384.1 912.3,1384.8 916.5,1385.5 920.8,1386.2 925.0,1386.8 929.2,1387.4 933.4,1387.9 937.6,1388.4 941.8,1388.9 946.0,1389.3 950.2,1389.6 954.4,1389.9 958.6,1390.2 962.9,1390.5 967.1,1390.8 971.3,1391.1 975.5,1391.4 979.7,1391.6 983.9,1391.9 988.1,1392.1 992.3,1392.3 996.5,1392.5 1000.7,1392.7 1005.0,1392.8 1009.2,1392.9 1013.4,1393.0 1017.6,1393.1 1021.8,1393.1 1026.0,1393.0" stroke="#26168c"/>
<path d="M184.0,935.0 185.7,948.5 187.4,961.7 189.1,974.1 190.7,985.2 192.4,994.5 194.1,1001.6 195.8,1007.7 197.5,1013.5 199.2,1018.9 200.8,1024.0 202.5,1028.8 204.2,1033.2 205.9,1037.4 207.6,1041.2 209.3,1044.9 210.9,1048.5 212.6,1052.0 214.3,1055.5 216.0,1059.0 217.7,1062.4 219.4,1065.7 221.0,1069.0 222.7,1072.2 224.4,1075.4 226.1,1078.6 227.8,1081.6 229.5,1084.7 231.2,1087.8 232.8,1090.9 234.5,1094.0 236.2,1097.1 237.9,1100.2 239.6,1103.2 241.3,1106.0 242.9,1108.8 244.6,1111.4 246.3,1113.8 248.0,1116.0 249.7,1118.0 251.4,1120.0 253.0,1121.9 254.7,1123.7 256.4,1125.5 258.1,1127.2 259.8,1128.9 261.5,1130.5 263.1,1132.1 264.8,1133.6 266.5,1135.1 268.2,1136.6 269.9,1138.0 271.6,1139.3 273.3,1140.7 274.9,1142.0 276.6,1143.2 278.3,1144.5 280.0,1145.7 281.7,1147.0 283.4,1148.2 285.0,1149.5 286.7,1150.7 288.4,1151.9 290.1,1153.1 291.8,1154.3 293.5,1155.4 295.1,1156.4 296.8,1157.4 298.5,1158.4 300.2,1159.2 301.9,1160.0 303.6,1160.7 305.2,1161.4 306.9,1162.1 308.6,1162.7 310.3,1163.3 312.0,1163.9 313.7,1164.5 315.4,1165.1 317.0,1165.6 318.7,1166.2 320.4,1166.7 322.1,1167.2 323.8,1167.6 325.5,1168.1 327.1,1168.5 328.8,1168.9 330.5,1169.2 332.2,1169.6 333.9,1169.9 335.6,1170.1 337.2,1170.4 338.9,1170.6 340.6,1170.8 342.3,1170.9 344.0,1171.1 345.7,1171.2 347.3,1171.3 349.0,1171.4 350.7,1171.4 352.4,1171.5 354.1,1171.5 355.8,1171.6 357.5,1171.6 359.1,1171.6 360.8,1171.7 362.5,1171.7 364.2,1171.7 365.9,1171.8 367.6,1171.8 369.2,1171.9 370.9,1172.0 372.6,1172.1 374.3,1172.2 376.0,1172.3 377.7,1172.4 379.3,1172.6 381.0,1172.8 382.7,1173.0 384.4,1173.2 386.1,1173.5 387.8,1173.8 389.4,1174.2 391.1,1174.6 392.8,1175.0 394.5,1175.5 396.2,1176.0 397.9,1176.6 399.6,1177.2 401.2,1177.8 402.9,1178.5 404.6,1179.2 406.3,1180.0 408.0,1180.7 409.7,1181.5 411.3,1182.3 413.0,1183.1 414.7,1184.0 416.4,1184.8 418.1,1185.7 419.8,1186.6 421.4,1187.4 423.1,1188.3 424.8,1189.2 426.5,1190.1 428.2,1191.0 429.9,1191.8 431.5,1192.7 433.2,1193.7 434.9,1194.7 436.6,1195.8 438.3,1196.9 440.0,1198.1 441.7,1199.3 443.3,1200.5 445.0,1201.7 446.7,1202.9 448.4,1204.2 450.1,1205.4 451.8,1206.6 453.4,1207.8 455.1,1209.0 456.8,1210.2 457.6,1210.8 461.9,1213.4 466.1,1215.7 470.3,1217.6 474.5,1219.0 478.7,1220.4 482.9,1221.6 487.1,1222.8 491.3,1223.7 495.5,1224.6 499.8,1225.3 504.0,1225.8 508.2,1226.1 512.4,1226.2 516.6,1226.2 520.8,1226.0 525.0,1225.6 529.2,1225.1 533.4,1224.5 537.6,1223.7 541.9,1222.9 546.1,1221.9 550.3,1220.8 554.5,1219.6 558.7,1218.3 562.9,1216.7 567.1,1214.3 571.3,1211.5 575.5,1208.7 579.7,1206.2 584.0,1204.2 588.2,1202.3 592.4,1200.4 596.6,1198.6 600.8,1196.9 605.0,1195.2 609.2,1193.7 613.4,1192.2 617.6,1190.9 621.8,1189.7 626.0,1188.7 630.3,1187.8 634.5,1187.2 638.7,1187.1 642.9,1187.7 647.1,1188.8 651.3,1190.5 655.5,1192.4 659.7,1194.7 663.9,1197.1 668.1,1201.0 672.4,1206.5 676.6,1212.3 680.8,1217.9 685.0,1223.7 689.2,1229.7 693.4,1235.8 697.6,1241.8 701.8,1247.8 706.0,1253.6 710.2,1259.4 714.5,1265.3 718.7,1271.2 722.9,1277.0 727.1,1282.6 731.3,1288.1 735.5,1293.2 739.7,1298.0 743.9,1302.6 748.1,1307.0 752.4,1311.4 756.6,1315.7 760.8,1319.8 765.0,1323.8 769.2,1327.5 773.4,1331.1 777.6,1334.4 781.8,1337.4 786.0,1340.1 790.2,1342.6 794.5,1345.0 798.7,1347.5 802.9,1349.9 807.1,1352.3 811.3,1354.6 815.5,1356.8 819.7,1359.0 823.9,1361.1 828.1,1363.1 832.3,1364.9 836.5,1366.7 840.8,1368.3 845.0,1369.8 849.2,1371.2 853.4,1372.4 857.6,1373.4 861.8,1374.3 866.0,1375.3 870.2,1376.2 874.4,1377.2 878.6,1378.1 882.9,1379.0 887.1,1379.9 891.3,1380.8 895.5,1381.6 899.7,1382.5 903.9,1383.3 908.1,1384.1 912.3,1384.8 916.5,1385.5 920.8,1386.2 925.0,1386.8 929.2,1387.4 933.4,1387.9 937.6,1388.4 941.8,1388.9 946.0,1389.3 950.2,1389.6 954.4,1389.9 958.6,1390.2 962.9,1390.5 967.1,1390.8 971.3,1391.1 975.5,1391.4 979.7,1391.6 983.9,1391.9 988.1,1392.1 992.3,1392.3 996.5,1392.5 1000.7,1392.7 1005.0,1392.8 1009.2,1392.9 1013.4,1393.0 1017.6,1393.1 1021.8,1393.1 1026.0,1393.0" stroke="#7c22e2"/>
<path d="M184.0,910.1 185.7,927.2 187.4,943.6 189.1,959.0 190.7,972.8 192.4,984.8 194.1,995.6 195.8,1006.0 197.5,1015.4 199.2,1023.0 200.8,1028.2 202.5,1032.1 204.2,1035.8 205.9,1039.3 207.6,1042.7 209.3,1045.9 210.9,1049.0 212.6,1052.0 214.3,1054.8 216.0,1057.6 217.7,1060.3 219.4,1063.0 221.0,1065.6 222.7,1068.2 224.4,1070.9 226.1,1073.6 227.8,1076.4 229.5,1079.1 231.2,1081.8 232.8,1084.5 234.5,1087.2 236.2,1089.7 237.9,1092.2 239.6,1094.5 241.3,1096.6 242.9,1098.6 244.6,1100.4 246.3,1102.0 248.0,1103.5 249.7,1105.0 251.4,1106.3 253.0,1107.7 254.7,1108.9 256.4,1110.2 258.1,1111.4 259.8,1112.6 261.5,1113.7 263.1,1114.8 264.8,1116.0 266.5,1117.1 268.2,1118.2 269.9,1119.3 271.6,1120.4 273.3,1121.6 274.9,1122.7 276.6,1123.9 278.3,1125.1 280.0,1126.3 281.7,1127.5 283.4,1128.7 285.0,1129.8 286.7,1131.0 288.4,1132.2 290.1,1133.4 291.8,1134.5 293.5,1135.7 295.1,1136.9 296.8,1138.1 298.5,1139.3 300.2,1140.5 301.9,1141.7 303.6,1142.9 305.2,1144.1 306.9,1145.3 308.6,1146.4 310.3,1147.6 312.0,1148.8 313.7,1149.9 315.4,1151.1 317.0,1152.3 318.7,1153.6 320.4,1154.9 322.1,1156.2 323.8,1157.6 325.5,1159.1 327.1,1160.7 328.8,1162.3 330.5,1164.1 332.2,1166.2 333.9,1169.1 335.6,1172.9 337.2,1177.2 338.9,1181.7 340.6,1186.3 342.3,1190.6 344.0,1194.5 345.7,1197.7 347.3,1199.9 349.0,1201.3 350.7,1202.7 352.4,1204.0 354.1,1205.3 355.8,1206.5 357.5,1207.6 359.1,1208.7 360.8,1209.8 362.5,1210.9 364.2,1211.8 365.9,1212.8 367.6,1213.7 369.2,1214.6 370.9,1215.5 372.6,1216.3 374.3,1217.1 376.0,1217.9 377.7,1218.7 379.3,1219.4 381.0,1220.2 382.7,1220.9 384.4,1221.6 386.1,1222.4 387.8,1223.1 389.4,1223.8 391.1,1224.5 392.8,1225.3 394.5,1226.0 396.2,1226.8 397.9,1227.5 399.6,1228.3 401.2,1229.1 402.9,1229.8 404.6,1230.6 406.3,1231.4 408.0,1232.1 409.7,1232.8 411.3,1233.6 413.0,1234.3 414.7,1235.0 416.4,1235.6 418.1,1236.3 419.8,1236.9 421.4,1237.5 423.1,1238.0 424.8,1238.6 426.5,1239.0 428.2,1239.5 429.9,1239.9 431.5,1240.3 433.2,1240.7 434.9,1241.1 436.6,1241.4 438.3,1241.8 440.0,1242.2 441.7,1242.6 443.3,1242.9 445.0,1243.3 446.7,1243.6 448.4,1243.9 450.1,1244.3 451.8,1244.6 453.4,1244.9 455.1,1245.1 456.8,1245.4 457.6,1245.5 461.9,1246.1 466.1,1246.6 470.3,1246.9 474.5,1247.2 478.7,1247.4 482.9,1247.6 487.1,1247.8 491.3,1248.0 495.5,1248.2 499.8,1248.4 504.0,1248.6 508.2,1248.8 512.4,1249.0 516.6,1249.2 520.8,1249.5 525.0,1249.7 529.2,1250.0 533.4,1250.2 537.6,1250.4 541.9,1250.4 546.1,1250.3 550.3,1250.0 554.5,1249.4 558.7,1248.8 562.9,1248.0 567.1,1247.2 571.3,1246.4 575.5,1245.5 579.7,1244.7 584.0,1243.9 588.2,1242.9 592.4,1241.8 596.6,1240.6 600.8,1239.4 605.0,1238.1 609.2,1236.8 613.4,1235.5 617.6,1234.4 621.8,1233.4 626.0,1232.5 630.3,1231.8 634.5,1231.4 638.7,1231.3 642.9,1231.3 647.1,1231.5 651.3,1231.8 655.5,1232.2 659.7,1232.6 663.9,1233.2 668.1,1233.7 672.4,1234.2 676.6,1234.8 680.8,1235.4 685.0,1236.0 689.2,1236.6 693.4,1237.2 697.6,1237.8 701.8,1238.5 706.0,1239.1 710.2,1239.7 714.5,1240.3 718.7,1240.9 722.9,1241.5 727.1,1242.1 731.3,1242.6 735.5,1243.2 739.7,1243.8 743.9,1244.4 748.1,1244.9 752.4,1245.5 756.6,1246.1 760.8,1246.6 765.0,1247.2 769.2,1247.7 773.4,1248.3 777.6,1248.8 781.8,1249.4 786.0,1249.9 790.2,1250.5 794.5,1251.0 798.7,1251.6 802.9,1252.2 807.1,1252.7 811.3,1253.3 815.5,1253.9 819.7,1254.5 823.9,1255.0 828.1,1255.6 832.3,1256.1 836.5,1256.7 840.8,1257.2 845.0,1257.7 849.2,1258.2 853.4,1258.7 857.6,1259.1 861.8,1259.6 866.0,1260.0 870.2,1260.3 874.4,1260.7 878.6,1261.0 882.9,1261.3 887.1,1261.6 891.3,1261.8 895.5,1262.1 899.7,1262.4 903.9,1262.6 908.1,1262.8 912.3,1263.1 916.5,1263.3 920.8,1263.5 925.0,1263.7 929.2,1263.9 933.4,1264.1 937.6,1264.3 941.8,1264.5 946.0,1264.6 950.2,1264.8 954.4,1264.9 958.6,1265.0 962.9,1265.2 967.1,1265.3 971.3,1265.4 975.5,1265.5 979.7,1265.6 983.9,1265.6 988.1,1265.7 992.3,1265.8 996.5,1265.8 1000.7,1265.9 1005.0,1265.9 1009.2,1265.9 1013.4,1265.9 1017.6,1265.9 1021.8,1265.9 1026.0,1265.8" stroke="#2010e0"/>
<path d="M184.0,922.6 185.7,939.4 187.4,955.8 189.1,971.5 190.7,985.7 192.4,997.9 194.1,1007.7 195.8,1015.2 197.5,1022.4 199.2,1029.3 200.8,1035.7 202.5,1041.8 204.2,1047.2 205.9,1052.0 207.6,1056.1 209.3,1059.4 210.9,1062.2 212.6,1065.0 214.3,1067.7 216.0,1070.4 217.7,1073.1 219.4,1075.6 221.0,1078.2 222.7,1080.6 224.4,1083.0 226.1,1085.3 227.8,1087.6 229.5,1089.7 231.2,1091.8 232.8,1093.8 234.5,1095.7 236.2,1097.6 237.9,1099.4 239.6,1101.3 241.3,1103.1 242.9,1105.0 244.6,1106.8 246.3,1108.6 248.0,1110.4 249.7,1112.2 251.4,1113.9 253.0,1115.5 254.7,1117.2 256.4,1118.7 258.1,1120.2 259.8,1121.6 261.5,1123.0 263.1,1124.2 264.8,1125.5 266.5,1126.7 268.2,1127.8 269.9,1129.0 271.6,1130.1 273.3,1131.2 274.9,1132.3 276.6,1133.3 278.3,1134.4 280.0,1135.4 281.7,1136.4 283.4,1137.5 285.0,1138.5 286.7,1139.5 288.4,1140.6 290.1,1141.6 291.8,1142.6 293.5,1143.6 295.1,1144.6 296.8,1145.6 298.5,1146.5 300.2,1147.5 301.9,1148.4 303.6,1149.4 305.2,1150.4 306.9,1151.3 308.6,1152.3 310.3,1153.3 312.0,1154.4 313.7,1155.5 315.4,1156.6 317.0,1157.7 318.7,1158.9 320.4,1160.2 322.1,1161.5 323.8,1162.9 325.5,1164.3 327.1,1165.8 328.8,1167.3 330.5,1168.8 332.2,1170.3 333.9,1171.9 335.6,1173.5 337.2,1175.0 338.9,1176.6 340.6,1178.2 342.3,1179.9 344.0,1181.7 345.7,1183.5 347.3,1185.3 349.0,1187.2 350.7,1189.1 352.4,1191.0 354.1,1192.9 355.8,1194.8 357.5,1196.7 359.1,1198.5 360.8,1200.3 362.5,1202.1 364.2,1203.7 365.9,1205.4 367.6,1206.9 369.2,1208.3 370.9,1209.7 372.6,1210.9 374.3,1212.0 376.0,1213.0 377.7,1213.9 379.3,1214.8 381.0,1215.7 382.7,1216.5 384.4,1217.4 386.1,1218.1 387.8,1218.9 389.4,1219.6 391.1,1220.4 392.8,1221.0 394.5,1221.7 396.2,1222.4 397.9,1223.0 399.6,1223.6 401.2,1224.2 402.9,1224.8 404.6,1225.3 406.3,1225.9 408.0,1226.4 409.7,1226.9 411.3,1227.5 413.0,1228.0 414.7,1228.5 416.4,1229.0 418.1,1229.5 419.8,1229.9 421.4,1230.4 423.1,1230.9 424.8,1231.4 426.5,1231.9 428.2,1232.4 429.9,1232.9 431.5,1233.4 433.2,1233.8 434.9,1234.3 436.6,1234.8 438.3,1235.2 440.0,1235.7 441.7,1236.1 443.3,1236.6 445.0,1237.0 446.7,1237.4 448.4,1237.8 450.1,1238.3 451.8,1238.6 453.4,1239.0 455.1,1239.4 456.8,1239.8 457.6,1239.9 461.9,1240.9 466.1,1241.8 470.3,1242.8 474.5,1243.7 478.7,1244.5 482.9,1245.3 487.1,1245.9 491.3,1246.4 495.5,1246.7 499.8,1246.8 504.0,1246.7 508.2,1246.3 512.4,1245.7 516.6,1245.0 520.8,1244.2 525.0,1243.3 529.2,1242.3 533.4,1241.2 537.6,1240.2 541.9,1239.2 546.1,1238.1 550.3,1236.9 554.5,1235.6 558.7,1234.2 562.9,1232.8 567.1,1231.5 571.3,1230.1 575.5,1228.9 579.7,1227.7 584.0,1226.6 588.2,1225.4 592.4,1224.3 596.6,1223.2 600.8,1222.1 605.0,1221.0 609.2,1220.0 613.4,1219.0 617.6,1218.1 621.8,1217.2 626.0,1216.5 630.3,1215.9 634.5,1215.3 638.7,1214.9 642.9,1214.4 647.1,1214.1 651.3,1213.7 655.5,1213.5 659.7,1213.3 663.9,1213.2 668.1,1213.1 672.4,1213.2 676.6,1213.4 680.8,1213.6 685.0,1214.0 689.2,1214.4 693.4,1214.8 697.6,1215.3 701.8,1215.9 706.0,1216.4 710.2,1217.0 714.5,1217.6 718.7,1218.3 722.9,1218.9 727.1,1219.5 731.3,1220.2 735.5,1220.8 739.7,1221.4 743.9,1222.1 748.1,1222.8 752.4,1223.5 756.6,1224.2 760.8,1224.9 765.0,1225.7 769.2,1226.5 773.4,1227.3 777.6,1228.1 781.8,1228.9 786.0,1229.8 790.2,1230.7 794.5,1231.6 798.7,1232.6 802.9,1233.6 807.1,1234.6 811.3,1235.6 815.5,1236.7 819.7,1237.7 823.9,1238.8 828.1,1239.9 832.3,1240.9 836.5,1242.0 840.8,1243.0 845.0,1244.1 849.2,1245.1 853.4,1246.1 857.6,1247.1 861.8,1248.0 866.0,1248.9 870.2,1249.8 874.4,1250.7 878.6,1251.5 882.9,1252.2 887.1,1253.0 891.3,1253.8 895.5,1254.5 899.7,1255.3 903.9,1256.0 908.1,1256.7 912.3,1257.5 916.5,1258.2 920.8,1258.9 925.0,1259.6 929.2,1260.3 933.4,1261.0 937.6,1261.7 941.8,1262.4 946.0,1263.0 950.2,1263.7 954.4,1264.3 958.6,1264.9 962.9,1265.6 967.1,1266.2 971.3,1266.7 975.5,1267.3 979.7,1267.9 983.9,1268.4 988.1,1268.9 992.3,1269.4 996.5,1269.9 1000.7,1270.4 1005.0,1270.8 1009.2,1271.3 1013.4,1271.7 1017.6,1272.1 1021.8,1272.5 1026.0,1272.8" stroke="#d21ee4"/>
</g>
<clipPath id="clipd"><rect x="1321.0" y="940.0" width="841.5" height="499.0"/></clipPath>
<g clip-path="url(#clipd)" fill="none" stroke-width="3.4" stroke-linejoin="round" stroke-linecap="round">
<path d="M1324.2,902.6 1325.8,931.4 1327.5,948.4 1329.2,962.2 1330.9,974.7 1332.6,985.7 1334.3,994.7 1335.9,1001.5 1337.6,1007.6 1339.3,1013.5 1341.0,1019.0 1342.7,1024.1 1344.4,1028.5 1346.0,1031.9 1347.7,1034.8 1349.4,1037.7 1351.1,1040.3 1352.8,1042.4 1354.4,1044.0 1356.1,1045.2 1357.8,1046.3 1359.5,1047.2 1361.2,1047.9 1362.9,1048.1 1364.5,1047.9 1366.2,1047.3 1367.9,1046.4 1369.6,1045.4 1371.3,1044.2 1373.0,1042.8 1374.6,1041.4 1376.3,1039.6 1378.0,1037.6 1379.7,1035.4 1381.4,1033.0 1383.1,1030.6 1384.7,1028.2 1386.4,1025.8 1388.1,1023.2 1389.8,1020.5 1391.5,1017.6 1393.2,1014.6 1394.8,1011.6 1396.5,1008.8 1398.2,1006.1 1399.9,1003.6 1401.6,1001.4 1403.3,999.6 1404.9,998.0 1406.6,996.5 1408.3,995.2 1410.0,994.1 1411.7,993.2 1413.4,992.5 1415.0,992.2 1416.7,992.1 1418.4,992.2 1420.1,992.6 1421.8,993.3 1423.5,994.1 1425.1,995.0 1426.8,996.1 1428.5,997.4 1430.2,998.7 1431.9,1000.0 1433.6,1001.7 1435.2,1003.9 1436.9,1006.5 1438.6,1009.5 1440.3,1012.6 1442.0,1015.9 1443.6,1019.2 1445.3,1022.9 1447.0,1026.8 1448.7,1031.1 1450.4,1035.5 1452.1,1040.1 1453.7,1044.7 1455.4,1049.6 1457.1,1054.6 1458.8,1059.7 1460.5,1064.9 1462.2,1070.1 1463.8,1075.3 1465.5,1080.5 1467.2,1085.6 1468.9,1090.6 1470.6,1095.7 1472.3,1100.8 1473.9,1105.8 1475.6,1110.9 1477.3,1116.0 1479.0,1121.0 1480.7,1126.1 1482.4,1131.2 1484.0,1136.4 1485.7,1141.6 1487.4,1146.7 1489.1,1151.8 1490.8,1156.9 1492.5,1161.8 1494.1,1166.7 1495.8,1171.6 1497.5,1176.5 1499.2,1181.3 1500.9,1185.9 1502.6,1190.2 1504.2,1194.2 1505.9,1197.8 1507.6,1201.3 1509.3,1204.7 1511.0,1207.9 1512.7,1211.1 1514.3,1214.1 1516.0,1217.0 1517.7,1219.8 1519.4,1222.5 1521.1,1225.1 1522.7,1227.7 1524.4,1230.3 1526.1,1233.0 1527.8,1235.7 1529.5,1238.5 1531.2,1241.2 1532.8,1243.9 1534.5,1246.5 1536.2,1249.1 1537.9,1251.5 1539.6,1253.8 1541.3,1256.0 1542.9,1257.9 1544.6,1259.7 1546.3,1261.2 1548.0,1262.4 1549.7,1263.4 1551.4,1264.1 1553.0,1264.9 1554.7,1265.5 1556.4,1266.2 1558.1,1266.8 1559.8,1267.3 1561.5,1267.8 1563.1,1268.3 1564.8,1268.8 1566.5,1269.2 1568.2,1269.6 1569.9,1269.9 1571.6,1270.3 1573.2,1270.6 1574.9,1270.8 1576.6,1271.1 1578.3,1271.4 1580.0,1271.7 1581.7,1271.9 1583.3,1272.2 1585.0,1272.5 1586.7,1272.7 1588.4,1273.0 1590.1,1273.3 1591.8,1273.5 1593.4,1273.8 1594.5,1273.9 1598.7,1274.6 1602.9,1275.2 1607.1,1275.8 1611.3,1276.4 1615.5,1277.0 1619.7,1277.5 1623.9,1278.1 1628.1,1278.7 1632.4,1279.3 1636.6,1280.1 1640.8,1280.9 1645.0,1281.9 1649.2,1283.0 1653.4,1284.2 1657.6,1285.5 1661.8,1286.8 1666.0,1288.2 1670.2,1289.9 1674.4,1291.6 1678.6,1293.3 1682.8,1294.8 1687.1,1296.2 1691.3,1297.6 1695.5,1298.9 1699.7,1300.1 1703.9,1300.9 1708.1,1301.4 1712.3,1301.7 1716.5,1302.1 1720.7,1302.4 1724.9,1302.7 1729.1,1303.0 1733.3,1303.1 1737.5,1303.3 1741.8,1303.3 1746.0,1303.4 1750.2,1303.4 1754.4,1303.4 1758.6,1303.4 1762.8,1303.3 1767.0,1303.3 1771.2,1303.3 1775.4,1303.3 1779.6,1303.3 1783.8,1303.3 1788.0,1303.3 1792.2,1303.3 1796.4,1303.2 1800.7,1303.3 1804.9,1303.3 1809.1,1303.3 1813.3,1303.3 1817.5,1303.4 1821.7,1303.4 1825.9,1303.5 1830.1,1303.5 1834.3,1303.6 1838.5,1303.7 1842.7,1303.7 1846.9,1303.8 1851.1,1303.9 1855.4,1304.0 1859.6,1304.0 1863.8,1304.1 1868.0,1304.2 1872.2,1304.3 1876.4,1304.3 1880.6,1304.4 1884.8,1304.5 1889.0,1304.6 1893.2,1304.7 1897.4,1304.8 1901.6,1304.9 1905.8,1304.9 1910.0,1305.0 1914.3,1305.1 1918.5,1305.2 1922.7,1305.3 1926.9,1305.4 1931.1,1305.5 1935.3,1305.6 1939.5,1305.7 1943.7,1305.8 1947.9,1305.9 1952.1,1306.0 1956.3,1306.1 1960.5,1306.2 1964.7,1306.3 1969.0,1306.5 1973.2,1306.6 1977.4,1306.7 1981.6,1306.8 1985.8,1306.9 1990.0,1307.0 1994.2,1307.2 1998.4,1307.3 2002.6,1307.4 2006.8,1307.6 2011.0,1307.7 2015.2,1307.8 2019.4,1308.0 2023.7,1308.1 2027.9,1308.2 2032.1,1308.4 2036.3,1308.5 2040.5,1308.7 2044.7,1308.8 2048.9,1308.9 2053.1,1309.1 2057.3,1309.2 2061.5,1309.4 2065.7,1309.6 2069.9,1309.7 2074.1,1309.9 2078.3,1310.0 2082.6,1310.2 2086.8,1310.3 2091.0,1310.5 2095.2,1310.7 2099.4,1310.8 2103.6,1311.0 2107.8,1311.1 2112.0,1311.3 2116.2,1311.5 2120.4,1311.6 2124.6,1311.8 2128.8,1312.0 2133.0,1312.1 2137.3,1312.3 2141.5,1312.5 2145.7,1312.6 2149.9,1312.8 2154.1,1313.0 2158.3,1313.1 2162.5,1313.3" stroke="#0a0a0a"/>
<path d="M1321.0,915.1 1322.7,948.9 1324.4,978.2 1326.0,1000.4 1327.7,1021.0 1329.4,1038.6 1331.1,1050.5 1332.8,1056.5 1334.5,1061.8 1336.1,1066.6 1337.8,1070.9 1339.5,1074.7 1341.2,1078.1 1342.9,1081.0 1344.6,1083.9 1346.2,1086.9 1347.9,1089.8 1349.6,1092.8 1351.3,1095.6 1353.0,1098.2 1354.7,1100.6 1356.3,1102.8 1358.0,1104.6 1359.7,1106.0 1361.4,1107.4 1363.1,1108.9 1364.8,1110.3 1366.4,1111.7 1368.1,1112.9 1369.8,1114.0 1371.5,1114.8 1373.2,1115.4 1374.9,1115.6 1376.5,1115.4 1378.2,1114.9 1379.9,1114.2 1381.6,1113.2 1383.3,1112.2 1385.0,1111.1 1386.6,1110.1 1388.3,1109.2 1390.0,1108.5 1391.7,1108.1 1393.4,1107.6 1395.1,1107.2 1396.7,1106.8 1398.4,1106.5 1400.1,1106.2 1401.8,1106.0 1403.5,1105.9 1405.2,1105.8 1406.8,1105.8 1408.5,1106.0 1410.2,1106.2 1411.9,1106.6 1413.6,1107.0 1415.2,1107.5 1416.9,1108.1 1418.6,1108.7 1420.3,1109.4 1422.0,1110.1 1423.7,1110.8 1425.3,1111.5 1427.0,1112.3 1428.7,1113.5 1430.4,1114.8 1432.1,1116.4 1433.8,1118.1 1435.4,1119.9 1437.1,1121.8 1438.8,1123.8 1440.5,1126.1 1442.2,1128.7 1443.9,1131.5 1445.5,1134.6 1447.2,1137.8 1448.9,1141.2 1450.6,1144.6 1452.3,1148.0 1454.0,1151.4 1455.6,1155.0 1457.3,1158.8 1459.0,1162.6 1460.7,1166.5 1462.4,1170.3 1464.1,1174.1 1465.7,1177.7 1467.4,1181.2 1469.1,1184.8 1470.8,1188.4 1472.5,1192.0 1474.2,1195.3 1475.8,1198.5 1477.5,1201.3 1479.2,1203.8 1480.9,1206.1 1482.6,1208.4 1484.3,1210.6 1485.9,1212.7 1487.6,1214.8 1489.3,1216.8 1491.0,1218.8 1492.7,1220.8 1494.3,1222.6 1496.0,1224.5 1497.7,1226.3 1499.4,1228.1 1501.1,1229.8 1502.8,1231.6 1504.4,1233.3 1506.1,1234.9 1507.8,1236.6 1509.5,1238.2 1511.2,1239.9 1512.9,1241.5 1514.5,1243.1 1516.2,1244.8 1517.9,1246.6 1519.6,1248.3 1521.3,1250.1 1523.0,1252.0 1524.6,1253.8 1526.3,1255.6 1528.0,1257.5 1529.7,1259.3 1531.4,1261.1 1533.1,1262.9 1534.7,1264.6 1536.4,1266.4 1538.1,1268.0 1539.8,1269.6 1541.5,1271.2 1543.2,1272.7 1544.8,1274.1 1546.5,1275.4 1548.2,1276.7 1549.9,1277.8 1551.6,1278.8 1553.3,1279.8 1554.9,1280.6 1556.6,1281.2 1558.3,1281.8 1560.0,1282.2 1561.7,1282.6 1563.4,1283.0 1565.0,1283.3 1566.7,1283.6 1568.4,1284.0 1570.1,1284.3 1571.8,1284.5 1573.5,1284.8 1575.1,1285.1 1576.8,1285.3 1578.5,1285.6 1580.2,1285.8 1581.9,1286.1 1583.5,1286.3 1585.2,1286.5 1586.9,1286.7 1588.6,1286.9 1590.3,1287.1 1592.0,1287.3 1593.6,1287.5 1594.5,1287.6 1598.7,1288.0 1602.9,1288.5 1607.1,1289.0 1611.3,1289.5 1615.5,1290.0 1619.7,1290.6 1623.9,1291.3 1628.1,1292.0 1632.4,1292.9 1636.6,1293.7 1640.8,1294.6 1645.0,1295.5 1649.2,1296.5 1653.4,1297.4 1657.6,1298.3 1661.8,1299.1 1666.0,1299.9 1670.2,1300.6 1674.4,1301.2 1678.6,1301.8 1682.8,1302.2 1687.1,1302.4 1691.3,1302.6 1695.5,1302.7 1699.7,1302.8 1703.9,1302.8 1708.1,1302.9 1712.3,1302.9 1716.5,1302.9 1720.7,1302.9 1724.9,1302.9 1729.1,1302.9 1733.3,1302.8 1737.5,1302.8 1741.8,1302.8 1746.0,1302.7 1750.2,1302.6 1754.4,1302.6 1758.6,1302.5 1762.8,1302.4 1767.0,1302.4 1771.2,1302.3 1775.4,1302.3 1779.6,1302.2 1783.8,1302.2 1788.0,1302.2 1792.2,1302.1 1796.4,1302.1 1800.7,1302.1 1804.9,1302.2 1809.1,1302.2 1813.3,1302.3 1817.5,1302.3 1821.7,1302.4 1825.9,1302.5 1830.1,1302.6 1834.3,1302.7 1838.5,1302.8 1842.7,1303.0 1846.9,1303.1 1851.1,1303.2 1855.4,1303.3 1859.6,1303.4 1863.8,1303.5 1868.0,1303.6 1872.2,1303.7 1876.4,1303.8 1880.6,1303.9 1884.8,1304.0 1889.0,1304.2 1893.2,1304.3 1897.4,1304.4 1901.6,1304.5 1905.8,1304.6 1910.0,1304.7 1914.3,1304.9 1918.5,1305.0 1922.7,1305.1 1926.9,1305.2 1931.1,1305.4 1935.3,1305.5 1939.5,1305.6 1943.7,1305.7 1947.9,1305.9 1952.1,1306.0 1956.3,1306.1 1960.5,1306.3 1964.7,1306.4 1969.0,1306.5 1973.2,1306.6 1977.4,1306.8 1981.6,1306.9 1985.8,1307.1 1990.0,1307.2 1994.2,1307.3 1998.4,1307.5 2002.6,1307.6 2006.8,1307.7 2011.0,1307.9 2015.2,1308.0 2019.4,1308.2 2023.7,1308.3 2027.9,1308.4 2032.1,1308.6 2036.3,1308.7 2040.5,1308.9 2044.7,1309.0 2048.9,1309.2 2053.1,1309.3 2057.3,1309.5 2061.5,1309.6 2065.7,1309.8 2069.9,1309.9 2074.1,1310.1 2078.3,1310.2 2082.6,1310.4 2086.8,1310.5 2091.0,1310.7 2095.2,1310.8 2099.4,1311.0 2103.6,1311.1 2107.8,1311.3 2112.0,1311.4 2116.2,1311.6 2120.4,1311.7 2124.6,1311.9 2128.8,1312.0 2133.0,1312.2 2137.3,1312.4 2141.5,1312.5 2145.7,1312.7 2149.9,1312.8 2154.1,1313.0 2158.3,1313.2 2162.5,1313.3" stroke="#e2181e"/>
<path d="M1321.0,933.8 1322.7,964.3 1324.4,991.2 1326.0,1008.6 1327.7,1019.1 1329.4,1028.9 1331.1,1038.0 1332.8,1046.2 1334.5,1053.4 1336.1,1059.6 1337.8,1064.8 1339.5,1069.4 1341.2,1074.1 1342.9,1078.8 1344.6,1083.5 1346.2,1088.0 1347.9,1092.3 1349.6,1096.4 1351.3,1100.2 1353.0,1103.5 1354.7,1106.4 1356.3,1108.7 1358.0,1110.7 1359.7,1112.7 1361.4,1114.7 1363.1,1116.6 1364.8,1118.5 1366.4,1120.3 1368.1,1122.1 1369.8,1123.8 1371.5,1125.5 1373.2,1127.2 1374.9,1128.8 1376.5,1130.3 1378.2,1131.9 1379.9,1133.3 1381.6,1134.8 1383.3,1136.1 1385.0,1137.5 1386.6,1138.8 1388.3,1140.2 1390.0,1141.5 1391.7,1142.8 1393.4,1144.1 1395.1,1145.4 1396.7,1146.7 1398.4,1148.0 1400.1,1149.2 1401.8,1150.5 1403.5,1151.7 1405.2,1152.9 1406.8,1154.1 1408.5,1155.2 1410.2,1156.4 1411.9,1157.5 1413.6,1158.6 1415.2,1159.7 1416.9,1160.8 1418.6,1161.9 1420.3,1162.9 1422.0,1164.0 1423.7,1165.0 1425.3,1166.1 1427.0,1167.1 1428.7,1168.1 1430.4,1169.1 1432.1,1170.1 1433.8,1171.1 1435.4,1172.1 1437.1,1173.1 1438.8,1174.0 1440.5,1174.9 1442.2,1175.8 1443.9,1176.6 1445.5,1177.3 1447.2,1178.1 1448.9,1178.9 1450.6,1179.6 1452.3,1180.5 1454.0,1181.4 1455.6,1182.3 1457.3,1183.4 1459.0,1184.6 1460.7,1185.9 1462.4,1187.2 1464.1,1188.7 1465.7,1190.2 1467.4,1191.7 1469.1,1193.3 1470.8,1194.8 1472.5,1196.4 1474.2,1197.9 1475.8,1199.5 1477.5,1200.9 1479.2,1202.3 1480.9,1203.7 1482.6,1205.2 1484.3,1206.6 1485.9,1208.1 1487.6,1209.6 1489.3,1211.0 1491.0,1212.5 1492.7,1214.0 1494.3,1215.4 1496.0,1216.9 1497.7,1218.3 1499.4,1219.6 1501.1,1220.9 1502.8,1222.2 1504.4,1223.4 1506.1,1224.6 1507.8,1225.6 1509.5,1226.6 1511.2,1227.6 1512.9,1228.4 1514.5,1229.2 1516.2,1230.0 1517.9,1230.7 1519.6,1231.5 1521.3,1232.2 1523.0,1232.9 1524.6,1233.6 1526.3,1234.3 1528.0,1235.0 1529.7,1235.6 1531.4,1236.3 1533.1,1236.9 1534.7,1237.5 1536.4,1238.1 1538.1,1238.7 1539.8,1239.3 1541.5,1239.9 1543.2,1240.4 1544.8,1240.9 1546.5,1241.4 1548.2,1242.0 1549.9,1242.4 1551.6,1242.9 1553.3,1243.4 1554.9,1243.8 1556.6,1244.3 1558.3,1244.7 1560.0,1245.1 1561.7,1245.5 1563.4,1245.8 1565.0,1246.2 1566.7,1246.6 1568.4,1246.9 1570.1,1247.2 1571.8,1247.5 1573.5,1247.9 1575.1,1248.2 1576.8,1248.6 1578.5,1248.9 1580.2,1249.2 1581.9,1249.6 1583.5,1249.9 1585.2,1250.3 1586.9,1250.6 1588.6,1251.0 1590.3,1251.3 1592.0,1251.6 1593.6,1252.0 1594.5,1252.2 1598.7,1253.0 1602.9,1253.8 1607.1,1254.7 1611.3,1255.5 1615.5,1256.2 1619.7,1257.0 1623.9,1257.7 1628.1,1258.3 1632.4,1259.0 1636.6,1259.5 1640.8,1260.1 1645.0,1260.5 1649.2,1260.9 1653.4,1261.3 1657.6,1261.5 1661.8,1261.7 1666.0,1261.8 1670.2,1261.9 1674.4,1262.0 1678.6,1262.0 1682.8,1262.0 1687.1,1261.9 1691.3,1261.7 1695.5,1261.5 1699.7,1261.2 1703.9,1260.9 1708.1,1260.5 1712.3,1260.1 1716.5,1259.6 1720.7,1259.1 1724.9,1258.5 1729.1,1258.0 1733.3,1257.4 1737.5,1256.8 1741.8,1256.2 1746.0,1255.6 1750.2,1254.8 1754.4,1254.0 1758.6,1253.1 1762.8,1252.3 1767.0,1251.5 1771.2,1250.8 1775.4,1250.3 1779.6,1250.0 1783.8,1249.8 1788.0,1249.7 1792.2,1249.7 1796.4,1249.8 1800.7,1249.9 1804.9,1250.1 1809.1,1250.4 1813.3,1250.7 1817.5,1251.0 1821.7,1251.4 1825.9,1251.8 1830.1,1252.2 1834.3,1252.6 1838.5,1253.1 1842.7,1253.6 1846.9,1254.0 1851.1,1254.5 1855.4,1255.0 1859.6,1255.5 1863.8,1256.1 1868.0,1256.6 1872.2,1257.1 1876.4,1257.6 1880.6,1258.1 1884.8,1258.6 1889.0,1259.1 1893.2,1259.6 1897.4,1260.2 1901.6,1260.7 1905.8,1261.2 1910.0,1261.8 1914.3,1262.4 1918.5,1262.9 1922.7,1263.5 1926.9,1264.1 1931.1,1264.7 1935.3,1265.3 1939.5,1265.8 1943.7,1266.4 1947.9,1267.0 1952.1,1267.5 1956.3,1268.1 1960.5,1268.6 1964.7,1269.1 1969.0,1269.6 1973.2,1270.1 1977.4,1270.6 1981.6,1271.0 1985.8,1271.5 1990.0,1271.9 1994.2,1272.3 1998.4,1272.6 2002.6,1273.0 2006.8,1273.3 2011.0,1273.6 2015.2,1273.8 2019.4,1274.1 2023.7,1274.3 2027.9,1274.6 2032.1,1274.8 2036.3,1275.0 2040.5,1275.2 2044.7,1275.4 2048.9,1275.6 2053.1,1275.8 2057.3,1275.9 2061.5,1276.1 2065.7,1276.2 2069.9,1276.3 2074.1,1276.4 2078.3,1276.5 2082.6,1276.6 2086.8,1276.7 2091.0,1276.8 2095.2,1276.8 2099.4,1276.9 2103.6,1276.9 2107.8,1276.9 2112.0,1277.0 2116.2,1277.0 2120.4,1277.0 2124.6,1277.0 2128.8,1277.0 2133.0,1276.9 2137.3,1276.9 2141.5,1276.9 2145.7,1276.8 2149.9,1276.7 2154.1,1276.7 2158.3,1276.6 2162.5,1276.5" stroke="#d21ee4"/>
<path d="M1321.0,943.7 1322.7,973.9 1324.4,1000.3 1326.0,1016.2 1327.7,1024.6 1329.4,1032.4 1331.1,1039.7 1332.8,1046.5 1334.5,1052.9 1336.1,1058.9 1337.8,1064.4 1339.5,1069.7 1341.2,1074.6 1342.9,1079.2 1344.6,1083.8 1346.2,1088.6 1347.9,1093.3 1349.6,1097.8 1351.3,1102.2 1353.0,1106.2 1354.7,1109.7 1356.3,1112.7 1358.0,1115.5 1359.7,1118.1 1361.4,1120.7 1363.1,1123.2 1364.8,1125.6 1366.4,1128.0 1368.1,1130.2 1369.8,1132.3 1371.5,1134.3 1373.2,1136.2 1374.9,1138.0 1376.5,1139.6 1378.2,1141.1 1379.9,1142.7 1381.6,1144.2 1383.3,1145.7 1385.0,1147.2 1386.6,1148.7 1388.3,1150.1 1390.0,1151.5 1391.7,1152.9 1393.4,1154.2 1395.1,1155.5 1396.7,1156.8 1398.4,1158.0 1400.1,1159.2 1401.8,1160.3 1403.5,1161.3 1405.2,1162.3 1406.8,1163.2 1408.5,1164.1 1410.2,1165.0 1411.9,1165.9 1413.6,1166.7 1415.2,1167.5 1416.9,1168.3 1418.6,1169.0 1420.3,1169.8 1422.0,1170.6 1423.7,1171.4 1425.3,1172.2 1427.0,1173.0 1428.7,1173.9 1430.4,1174.8 1432.1,1175.7 1433.8,1176.7 1435.4,1177.6 1437.1,1178.6 1438.8,1179.5 1440.5,1180.5 1442.2,1181.5 1443.9,1182.5 1445.5,1183.5 1447.2,1184.6 1448.9,1185.6 1450.6,1186.6 1452.3,1187.7 1454.0,1188.7 1455.6,1189.7 1457.3,1190.8 1459.0,1191.9 1460.7,1192.9 1462.4,1194.1 1464.1,1195.3 1465.7,1196.5 1467.4,1197.7 1469.1,1198.9 1470.8,1200.2 1472.5,1201.3 1474.2,1202.5 1475.8,1203.6 1477.5,1204.6 1479.2,1205.5 1480.9,1206.4 1482.6,1207.2 1484.3,1208.1 1485.9,1208.9 1487.6,1209.7 1489.3,1210.6 1491.0,1211.4 1492.7,1212.2 1494.3,1213.1 1496.0,1213.9 1497.7,1214.7 1499.4,1215.5 1501.1,1216.3 1502.8,1217.1 1504.4,1217.9 1506.1,1218.7 1507.8,1219.4 1509.5,1220.2 1511.2,1221.0 1512.9,1221.7 1514.5,1222.5 1516.2,1223.2 1517.9,1223.9 1519.6,1224.6 1521.3,1225.3 1523.0,1226.0 1524.6,1226.7 1526.3,1227.3 1528.0,1228.0 1529.7,1228.6 1531.4,1229.2 1533.1,1229.9 1534.7,1230.5 1536.4,1231.0 1538.1,1231.6 1539.8,1232.2 1541.5,1232.7 1543.2,1233.2 1544.8,1233.7 1546.5,1234.2 1548.2,1234.7 1549.9,1235.1 1551.6,1235.6 1553.3,1236.0 1554.9,1236.4 1556.6,1236.8 1558.3,1237.2 1560.0,1237.5 1561.7,1237.8 1563.4,1238.1 1565.0,1238.4 1566.7,1238.7 1568.4,1238.9 1570.1,1239.1 1571.8,1239.3 1573.5,1239.6 1575.1,1239.8 1576.8,1240.0 1578.5,1240.1 1580.2,1240.3 1581.9,1240.5 1583.5,1240.7 1585.2,1240.8 1586.9,1241.0 1588.6,1241.1 1590.3,1241.3 1592.0,1241.4 1593.6,1241.5 1594.5,1241.6 1598.7,1241.9 1602.9,1242.1 1607.1,1242.3 1611.3,1242.4 1615.5,1242.5 1619.7,1242.5 1623.9,1242.4 1628.1,1242.3 1632.4,1242.2 1636.6,1242.0 1640.8,1241.7 1645.0,1241.4 1649.2,1241.0 1653.4,1240.5 1657.6,1240.0 1661.8,1239.4 1666.0,1238.7 1670.2,1237.7 1674.4,1236.7 1678.6,1235.5 1682.8,1234.1 1687.1,1232.7 1691.3,1231.3 1695.5,1229.7 1699.7,1228.2 1703.9,1226.5 1708.1,1224.6 1712.3,1222.6 1716.5,1220.6 1720.7,1218.5 1724.9,1216.4 1729.1,1214.4 1733.3,1212.5 1737.5,1210.8 1741.8,1209.1 1746.0,1207.4 1750.2,1205.8 1754.4,1204.2 1758.6,1202.7 1762.8,1201.3 1767.0,1200.0 1771.2,1198.8 1775.4,1197.7 1779.6,1196.7 1783.8,1195.8 1788.0,1195.1 1792.2,1194.5 1796.4,1194.2 1800.7,1194.2 1804.9,1194.5 1809.1,1195.3 1813.3,1196.5 1817.5,1198.3 1821.7,1200.3 1825.9,1202.5 1830.1,1204.8 1834.3,1207.1 1838.5,1209.3 1842.7,1211.6 1846.9,1213.9 1851.1,1216.3 1855.4,1218.8 1859.6,1221.3 1863.8,1223.8 1868.0,1226.4 1872.2,1229.0 1876.4,1231.6 1880.6,1234.2 1884.8,1236.8 1889.0,1239.3 1893.2,1242.0 1897.4,1244.6 1901.6,1247.3 1905.8,1250.1 1910.0,1252.8 1914.3,1255.6 1918.5,1258.4 1922.7,1261.2 1926.9,1264.0 1931.1,1266.7 1935.3,1269.5 1939.5,1272.3 1943.7,1275.0 1947.9,1277.7 1952.1,1280.3 1956.3,1282.9 1960.5,1285.5 1964.7,1288.0 1969.0,1290.4 1973.2,1292.7 1977.4,1295.0 1981.6,1297.2 1985.8,1299.4 1990.0,1301.5 1994.2,1303.6 1998.4,1305.7 2002.6,1307.8 2006.8,1309.8 2011.0,1311.8 2015.2,1313.8 2019.4,1315.7 2023.7,1317.6 2027.9,1319.5 2032.1,1321.3 2036.3,1323.0 2040.5,1324.8 2044.7,1326.4 2048.9,1328.1 2053.1,1329.6 2057.3,1331.2 2061.5,1332.6 2065.7,1334.0 2069.9,1335.4 2074.1,1336.6 2078.3,1337.9 2082.6,1339.1 2086.8,1340.3 2091.0,1341.5 2095.2,1342.7 2099.4,1343.9 2103.6,1345.1 2107.8,1346.2 2112.0,1347.4 2116.2,1348.5 2120.4,1349.5 2124.6,1350.5 2128.8,1351.5 2133.0,1352.4 2137.3,1353.3 2141.5,1354.1 2145.7,1354.8 2149.9,1355.5 2154.1,1356.1 2158.3,1356.6 2162.5,1357.1" stroke="#9a8a1c"/>
<path d="M1321.0,940.0 1322.7,970.2 1324.4,996.5 1326.0,1012.5 1327.7,1020.8 1329.4,1028.6 1331.1,1035.9 1332.8,1042.7 1334.5,1049.1 1336.1,1055.1 1337.8,1060.7 1339.5,1065.9 1341.2,1070.8 1342.9,1075.4 1344.6,1080.1 1346.2,1084.8 1347.9,1089.5 1349.6,1094.1 1351.3,1098.4 1353.0,1102.5 1354.7,1106.0 1356.3,1109.0 1358.0,1111.7 1359.7,1114.4 1361.4,1117.0 1363.1,1119.5 1364.8,1121.9 1366.4,1124.2 1368.1,1126.4 1369.8,1128.6 1371.5,1130.6 1373.2,1132.4 1374.9,1134.2 1376.5,1135.8 1378.2,1137.4 1379.9,1138.9 1381.6,1140.5 1383.3,1142.0 1385.0,1143.5 1386.6,1144.9 1388.3,1146.4 1390.0,1147.8 1391.7,1149.2 1393.4,1150.5 1395.1,1151.8 1396.7,1153.0 1398.4,1154.3 1400.1,1155.4 1401.8,1156.5 1403.5,1157.6 1405.2,1158.6 1406.8,1159.5 1408.5,1160.4 1410.2,1161.3 1411.9,1162.1 1413.6,1162.9 1415.2,1163.7 1416.9,1164.5 1418.6,1165.3 1420.3,1166.1 1422.0,1166.9 1423.7,1167.7 1425.3,1168.5 1427.0,1169.3 1428.7,1170.2 1430.4,1171.0 1432.1,1172.0 1433.8,1172.9 1435.4,1173.9 1437.1,1174.8 1438.8,1175.8 1440.5,1176.8 1442.2,1177.8 1443.9,1178.8 1445.5,1179.8 1447.2,1180.8 1448.9,1181.8 1450.6,1182.9 1452.3,1183.9 1454.0,1185.0 1455.6,1186.0 1457.3,1187.1 1459.0,1188.1 1460.7,1189.2 1462.4,1190.4 1464.1,1191.5 1465.7,1192.7 1467.4,1194.0 1469.1,1195.2 1470.8,1196.4 1472.5,1197.6 1474.2,1198.7 1475.8,1199.8 1477.5,1200.8 1479.2,1201.8 1480.9,1202.6 1482.6,1203.5 1484.3,1204.3 1485.9,1205.1 1487.6,1206.0 1489.3,1206.8 1491.0,1207.6 1492.7,1208.5 1494.3,1209.3 1496.0,1210.1 1497.7,1210.9 1499.4,1211.7 1501.1,1212.5 1502.8,1213.3 1504.4,1214.0 1506.1,1214.8 1507.8,1215.6 1509.5,1216.3 1511.2,1217.1 1512.9,1217.8 1514.5,1218.5 1516.2,1219.2 1517.9,1220.0 1519.6,1220.7 1521.3,1221.3 1523.0,1222.0 1524.6,1222.7 1526.3,1223.3 1528.0,1224.0 1529.7,1224.6 1531.4,1225.2 1533.1,1225.8 1534.7,1226.4 1536.4,1227.0 1538.1,1227.6 1539.8,1228.2 1541.5,1228.7 1543.2,1229.2 1544.8,1229.7 1546.5,1230.2 1548.2,1230.7 1549.9,1231.2 1551.6,1231.6 1553.3,1232.1 1554.9,1232.5 1556.6,1232.9 1558.3,1233.3 1560.0,1233.6 1561.7,1234.0 1563.4,1234.3 1565.0,1234.6 1566.7,1234.9 1568.4,1235.2 1570.1,1235.4 1571.8,1235.7 1573.5,1235.9 1575.1,1236.2 1576.8,1236.4 1578.5,1236.6 1580.2,1236.9 1581.9,1237.1 1583.5,1237.3 1585.2,1237.5 1586.9,1237.7 1588.6,1237.9 1590.3,1238.1 1592.0,1238.3 1593.6,1238.4 1594.5,1238.5 1598.7,1238.9 1602.9,1239.3 1607.1,1239.6 1611.3,1239.8 1615.5,1240.0 1619.7,1240.2 1623.9,1240.3 1628.1,1240.3 1632.4,1240.3 1636.6,1240.2 1640.8,1240.0 1645.0,1239.8 1649.2,1239.5 1653.4,1239.1 1657.6,1238.7 1661.8,1238.2 1666.0,1237.5 1670.2,1236.6 1674.4,1235.5 1678.6,1234.3 1682.8,1233.0 1687.1,1231.5 1691.3,1230.0 1695.5,1228.5 1699.7,1226.9 1703.9,1225.2 1708.1,1223.4 1712.3,1221.4 1716.5,1219.3 1720.7,1217.2 1724.9,1215.2 1729.1,1213.2 1733.3,1211.3 1737.5,1209.5 1741.8,1207.7 1746.0,1206.0 1750.2,1204.3 1754.4,1202.6 1758.6,1201.0 1762.8,1199.5 1767.0,1198.2 1771.2,1196.9 1775.4,1195.8 1779.6,1194.8 1783.8,1193.9 1788.0,1193.2 1792.2,1192.6 1796.4,1192.1 1800.7,1191.9 1804.9,1192.0 1809.1,1192.4 1813.3,1193.2 1817.5,1194.3 1821.7,1195.6 1825.9,1197.1 1830.1,1198.8 1834.3,1200.5 1838.5,1202.2 1842.7,1204.1 1846.9,1206.1 1851.1,1208.3 1855.4,1210.5 1859.6,1212.9 1863.8,1215.3 1868.0,1217.7 1872.2,1220.2 1876.4,1222.7 1880.6,1225.1 1884.8,1227.6 1889.0,1230.0 1893.2,1232.5 1897.4,1235.0 1901.6,1237.5 1905.8,1240.1 1910.0,1242.8 1914.3,1245.4 1918.5,1248.1 1922.7,1250.8 1926.9,1253.4 1931.1,1256.1 1935.3,1258.8 1939.5,1261.4 1943.7,1264.0 1947.9,1266.6 1952.1,1269.2 1956.3,1271.7 1960.5,1274.1 1964.7,1276.5 1969.0,1278.8 1973.2,1281.1 1977.4,1283.3 1981.6,1285.3 1985.8,1287.4 1990.0,1289.4 1994.2,1291.4 1998.4,1293.3 2002.6,1295.2 2006.8,1297.1 2011.0,1299.0 2015.2,1300.8 2019.4,1302.6 2023.7,1304.3 2027.9,1306.1 2032.1,1307.8 2036.3,1309.5 2040.5,1311.1 2044.7,1312.7 2048.9,1314.3 2053.1,1315.9 2057.3,1317.4 2061.5,1318.9 2065.7,1320.3 2069.9,1321.8 2074.1,1323.2 2078.3,1324.6 2082.6,1326.0 2086.8,1327.3 2091.0,1328.7 2095.2,1330.1 2099.4,1331.4 2103.6,1332.8 2107.8,1334.1 2112.0,1335.4 2116.2,1336.7 2120.4,1337.9 2124.6,1339.2 2128.8,1340.4 2133.0,1341.6 2137.3,1342.7 2141.5,1343.8 2145.7,1344.9 2149.9,1346.0 2154.1,1346.9 2158.3,1347.9 2162.5,1348.8" stroke="#7a1418"/>
<path d="M1321.0,936.3 1322.7,966.4 1324.4,992.8 1326.0,1008.7 1327.7,1017.1 1329.4,1024.9 1331.1,1032.2 1332.8,1039.0 1334.5,1045.4 1336.1,1051.4 1337.8,1057.0 1339.5,1062.2 1341.2,1067.1 1342.9,1071.7 1344.6,1076.3 1346.2,1081.1 1347.9,1085.8 1349.6,1090.4 1351.3,1094.7 1353.0,1098.7 1354.7,1102.3 1356.3,1105.3 1358.0,1108.0 1359.7,1110.6 1361.4,1113.2 1363.1,1115.7 1364.8,1118.1 1366.4,1120.5 1368.1,1122.7 1369.8,1124.8 1371.5,1126.8 1373.2,1128.7 1374.9,1130.5 1376.5,1132.1 1378.2,1133.7 1379.9,1135.2 1381.6,1136.7 1383.3,1138.2 1385.0,1139.7 1386.6,1141.2 1388.3,1142.6 1390.0,1144.0 1391.7,1145.4 1393.4,1146.7 1395.1,1148.0 1396.7,1149.3 1398.4,1150.5 1400.1,1151.7 1401.8,1152.8 1403.5,1153.8 1405.2,1154.8 1406.8,1155.8 1408.5,1156.7 1410.2,1157.5 1411.9,1158.4 1413.6,1159.2 1415.2,1160.0 1416.9,1160.8 1418.6,1161.6 1420.3,1162.3 1422.0,1163.1 1423.7,1163.9 1425.3,1164.7 1427.0,1165.6 1428.7,1166.4 1430.4,1167.3 1432.1,1168.2 1433.8,1169.2 1435.4,1170.1 1437.1,1171.1 1438.8,1172.1 1440.5,1173.0 1442.2,1174.0 1443.9,1175.0 1445.5,1176.1 1447.2,1177.1 1448.9,1178.1 1450.6,1179.1 1452.3,1180.2 1454.0,1181.2 1455.6,1182.3 1457.3,1183.3 1459.0,1184.4 1460.7,1185.5 1462.4,1186.6 1464.1,1187.8 1465.7,1189.0 1467.4,1190.2 1469.1,1191.5 1470.8,1192.7 1472.5,1193.9 1474.2,1195.0 1475.8,1196.1 1477.5,1197.1 1479.2,1198.0 1480.9,1198.9 1482.6,1199.7 1484.3,1200.6 1485.9,1201.4 1487.6,1202.2 1489.3,1203.1 1491.0,1203.9 1492.7,1204.7 1494.3,1205.5 1496.0,1206.3 1497.7,1207.1 1499.4,1207.9 1501.1,1208.7 1502.8,1209.5 1504.4,1210.2 1506.1,1211.0 1507.8,1211.7 1509.5,1212.5 1511.2,1213.2 1512.9,1214.0 1514.5,1214.7 1516.2,1215.4 1517.9,1216.1 1519.6,1216.8 1521.3,1217.5 1523.0,1218.2 1524.6,1218.8 1526.3,1219.5 1528.0,1220.1 1529.7,1220.7 1531.4,1221.4 1533.1,1222.0 1534.7,1222.6 1536.4,1223.2 1538.1,1223.7 1539.8,1224.3 1541.5,1224.8 1543.2,1225.3 1544.8,1225.9 1546.5,1226.4 1548.2,1226.8 1549.9,1227.3 1551.6,1227.8 1553.3,1228.2 1554.9,1228.6 1556.6,1229.0 1558.3,1229.4 1560.0,1229.8 1561.7,1230.2 1563.4,1230.5 1565.0,1230.8 1566.7,1231.1 1568.4,1231.4 1570.1,1231.7 1571.8,1232.0 1573.5,1232.2 1575.1,1232.5 1576.8,1232.7 1578.5,1233.0 1580.2,1233.2 1581.9,1233.5 1583.5,1233.7 1585.2,1234.0 1586.9,1234.2 1588.6,1234.4 1590.3,1234.6 1592.0,1234.8 1593.6,1235.0 1594.5,1235.1 1598.7,1235.6 1602.9,1236.0 1607.1,1236.4 1611.3,1236.7 1615.5,1237.0 1619.7,1237.2 1623.9,1237.3 1628.1,1237.4 1632.4,1237.5 1636.6,1237.4 1640.8,1237.3 1645.0,1237.1 1649.2,1236.9 1653.4,1236.6 1657.6,1236.2 1661.8,1235.7 1666.0,1235.0 1670.2,1234.1 1674.4,1233.1 1678.6,1231.9 1682.8,1230.5 1687.1,1229.1 1691.3,1227.6 1695.5,1226.0 1699.7,1224.4 1703.9,1222.8 1708.1,1220.9 1712.3,1218.9 1716.5,1216.9 1720.7,1214.8 1724.9,1212.7 1729.1,1210.7 1733.3,1208.8 1737.5,1207.0 1741.8,1205.2 1746.0,1203.3 1750.2,1201.6 1754.4,1199.8 1758.6,1198.1 1762.8,1196.6 1767.0,1195.1 1771.2,1193.8 1775.4,1192.7 1779.6,1191.6 1783.8,1190.5 1788.0,1189.5 1792.2,1188.7 1796.4,1188.1 1800.7,1187.7 1804.9,1187.6 1809.1,1187.9 1813.3,1188.4 1817.5,1189.0 1821.7,1189.8 1825.9,1190.8 1830.1,1191.8 1834.3,1192.8 1838.5,1193.7 1842.7,1194.8 1846.9,1195.9 1851.1,1197.0 1855.4,1198.2 1859.6,1199.5 1863.8,1200.8 1868.0,1202.1 1872.2,1203.5 1876.4,1204.9 1880.6,1206.4 1884.8,1207.8 1889.0,1209.4 1893.2,1210.9 1897.4,1212.5 1901.6,1214.1 1905.8,1215.8 1910.0,1217.5 1914.3,1219.3 1918.5,1221.0 1922.7,1222.8 1926.9,1224.6 1931.1,1226.5 1935.3,1228.3 1939.5,1230.2 1943.7,1232.1 1947.9,1234.0 1952.1,1235.9 1956.3,1237.8 1960.5,1239.7 1964.7,1241.6 1969.0,1243.5 1973.2,1245.4 1977.4,1247.3 1981.6,1249.1 1985.8,1251.0 1990.0,1252.9 1994.2,1254.9 1998.4,1256.9 2002.6,1258.9 2006.8,1260.9 2011.0,1262.9 2015.2,1264.9 2019.4,1266.9 2023.7,1269.0 2027.9,1271.0 2032.1,1273.0 2036.3,1275.0 2040.5,1277.0 2044.7,1279.0 2048.9,1280.9 2053.1,1282.9 2057.3,1284.8 2061.5,1286.6 2065.7,1288.4 2069.9,1290.2 2074.1,1291.9 2078.3,1293.6 2082.6,1295.3 2086.8,1296.9 2091.0,1298.5 2095.2,1300.2 2099.4,1301.8 2103.6,1303.3 2107.8,1304.9 2112.0,1306.4 2116.2,1308.0 2120.4,1309.4 2124.6,1310.9 2128.8,1312.3 2133.0,1313.8 2137.3,1315.1 2141.5,1316.5 2145.7,1317.8 2149.9,1319.1 2154.1,1320.3 2158.3,1321.6 2162.5,1322.7" stroke="#8a1090"/>
<path d="M1321.0,927.5 1322.7,957.7 1324.4,984.0 1326.0,1000.0 1327.7,1008.3 1329.4,1016.1 1331.1,1023.4 1332.8,1030.3 1334.5,1036.7 1336.1,1042.6 1337.8,1048.2 1339.5,1053.5 1341.2,1058.3 1342.9,1063.0 1344.6,1067.6 1346.2,1072.3 1347.9,1077.0 1349.6,1081.6 1351.3,1086.0 1353.0,1090.0 1354.7,1093.5 1356.3,1096.5 1358.0,1099.3 1359.7,1101.9 1361.4,1104.5 1363.1,1107.0 1364.8,1109.4 1366.4,1111.7 1368.1,1114.0 1369.8,1116.1 1371.5,1118.1 1373.2,1120.0 1374.9,1121.7 1376.5,1123.4 1378.2,1124.9 1379.9,1126.5 1381.6,1128.0 1383.3,1129.5 1385.0,1131.0 1386.6,1132.5 1388.3,1133.9 1390.0,1135.3 1391.7,1136.7 1393.4,1138.0 1395.1,1139.3 1396.7,1140.6 1398.4,1141.8 1400.1,1142.9 1401.8,1144.0 1403.5,1145.1 1405.2,1146.1 1406.8,1147.0 1408.5,1147.9 1410.2,1148.8 1411.9,1149.6 1413.6,1150.5 1415.2,1151.3 1416.9,1152.0 1418.6,1152.8 1420.3,1153.6 1422.0,1154.4 1423.7,1155.2 1425.3,1156.0 1427.0,1156.8 1428.7,1157.7 1430.4,1158.6 1432.1,1159.5 1433.8,1160.4 1435.4,1161.4 1437.1,1162.4 1438.8,1163.3 1440.5,1164.3 1442.2,1165.3 1443.9,1166.3 1445.5,1167.3 1447.2,1168.3 1448.9,1169.4 1450.6,1170.4 1452.3,1171.4 1454.0,1172.5 1455.6,1173.5 1457.3,1174.6 1459.0,1175.6 1460.7,1176.7 1462.4,1177.9 1464.1,1179.1 1465.7,1180.3 1467.4,1181.5 1469.1,1182.7 1470.8,1184.0 1472.5,1185.1 1474.2,1186.3 1475.8,1187.4 1477.5,1188.4 1479.2,1189.3 1480.9,1190.1 1482.6,1191.0 1484.3,1191.8 1485.9,1192.6 1487.6,1193.4 1489.3,1194.3 1491.0,1195.1 1492.7,1195.9 1494.3,1196.6 1496.0,1197.4 1497.7,1198.2 1499.4,1199.0 1501.1,1199.7 1502.8,1200.5 1504.4,1201.3 1506.1,1202.0 1507.8,1202.7 1509.5,1203.5 1511.2,1204.2 1512.9,1204.9 1514.5,1205.6 1516.2,1206.3 1517.9,1207.0 1519.6,1207.6 1521.3,1208.3 1523.0,1209.0 1524.6,1209.6 1526.3,1210.3 1528.0,1210.9 1529.7,1211.5 1531.4,1212.1 1533.1,1212.7 1534.7,1213.3 1536.4,1213.9 1538.1,1214.5 1539.8,1215.0 1541.5,1215.6 1543.2,1216.1 1544.8,1216.6 1546.5,1217.1 1548.2,1217.6 1549.9,1218.1 1551.6,1218.6 1553.3,1219.1 1554.9,1219.5 1556.6,1220.0 1558.3,1220.4 1560.0,1220.8 1561.7,1221.2 1563.4,1221.6 1565.0,1222.0 1566.7,1222.3 1568.4,1222.7 1570.1,1223.0 1571.8,1223.4 1573.5,1223.7 1575.1,1224.0 1576.8,1224.4 1578.5,1224.7 1580.2,1225.0 1581.9,1225.4 1583.5,1225.7 1585.2,1226.0 1586.9,1226.3 1588.6,1226.6 1590.3,1226.9 1592.0,1227.2 1593.6,1227.5 1594.5,1227.7 1598.7,1228.4 1602.9,1229.1 1607.1,1229.7 1611.3,1230.3 1615.5,1230.8 1619.7,1231.3 1623.9,1231.7 1628.1,1232.1 1632.4,1232.4 1636.6,1232.6 1640.8,1232.7 1645.0,1232.7 1649.2,1232.7 1653.4,1232.5 1657.6,1232.3 1661.8,1232.0 1666.0,1231.4 1670.2,1230.6 1674.4,1229.5 1678.6,1228.3 1682.8,1226.9 1687.1,1225.4 1691.3,1223.9 1695.5,1222.3 1699.7,1220.7 1703.9,1219.0 1708.1,1217.1 1712.3,1215.2 1716.5,1213.1 1720.7,1211.0 1724.9,1208.9 1729.1,1206.9 1733.3,1205.0 1737.5,1203.3 1741.8,1201.5 1746.0,1199.8 1750.2,1198.0 1754.4,1196.4 1758.6,1194.8 1762.8,1193.3 1767.0,1191.9 1771.2,1190.7 1775.4,1189.6 1779.6,1188.5 1783.8,1187.4 1788.0,1186.4 1792.2,1185.6 1796.4,1185.0 1800.7,1184.6 1804.9,1184.5 1809.1,1184.7 1813.3,1185.1 1817.5,1185.6 1821.7,1186.2 1825.9,1187.0 1830.1,1187.7 1834.3,1188.5 1838.5,1189.3 1842.7,1190.1 1846.9,1190.9 1851.1,1191.8 1855.4,1192.7 1859.6,1193.6 1863.8,1194.5 1868.0,1195.5 1872.2,1196.4 1876.4,1197.4 1880.6,1198.3 1884.8,1199.2 1889.0,1200.2 1893.2,1201.1 1897.4,1202.0 1901.6,1202.9 1905.8,1203.8 1910.0,1204.8 1914.3,1205.7 1918.5,1206.6 1922.7,1207.5 1926.9,1208.4 1931.1,1209.4 1935.3,1210.3 1939.5,1211.2 1943.7,1212.2 1947.9,1213.1 1952.1,1214.1 1956.3,1215.0 1960.5,1216.0 1964.7,1217.0 1969.0,1218.0 1973.2,1219.0 1977.4,1220.0 1981.6,1221.1 1985.8,1222.1 1990.0,1223.2 1994.2,1224.3 1998.4,1225.5 2002.6,1226.6 2006.8,1227.7 2011.0,1228.9 2015.2,1230.1 2019.4,1231.3 2023.7,1232.5 2027.9,1233.7 2032.1,1234.9 2036.3,1236.1 2040.5,1237.3 2044.7,1238.5 2048.9,1239.7 2053.1,1240.9 2057.3,1242.0 2061.5,1243.2 2065.7,1244.3 2069.9,1245.5 2074.1,1246.6 2078.3,1247.6 2082.6,1248.7 2086.8,1249.8 2091.0,1250.9 2095.2,1251.9 2099.4,1253.0 2103.6,1254.1 2107.8,1255.1 2112.0,1256.2 2116.2,1257.2 2120.4,1258.2 2124.6,1259.3 2128.8,1260.3 2133.0,1261.3 2137.3,1262.3 2141.5,1263.3 2145.7,1264.3 2149.9,1265.3 2154.1,1266.3 2158.3,1267.3 2162.5,1268.2" stroke="#1f7d24"/>
<path d="M1321.0,931.3 1322.7,961.5 1324.4,987.8 1326.0,1003.7 1327.7,1012.1 1329.4,1019.9 1331.1,1027.2 1332.8,1034.0 1334.5,1040.4 1336.1,1046.4 1337.8,1052.0 1339.5,1057.2 1341.2,1062.1 1342.9,1066.7 1344.6,1071.3 1346.2,1076.1 1347.9,1080.8 1349.6,1085.4 1351.3,1089.7 1353.0,1093.7 1354.7,1097.3 1356.3,1100.3 1358.0,1103.0 1359.7,1105.7 1361.4,1108.2 1363.1,1110.7 1364.8,1113.2 1366.4,1115.5 1368.1,1117.7 1369.8,1119.8 1371.5,1121.8 1373.2,1123.7 1374.9,1125.5 1376.5,1127.1 1378.2,1128.7 1379.9,1130.2 1381.6,1131.7 1383.3,1133.2 1385.0,1134.7 1386.6,1136.2 1388.3,1137.6 1390.0,1139.0 1391.7,1140.4 1393.4,1141.8 1395.1,1143.1 1396.7,1144.3 1398.4,1145.5 1400.1,1146.7 1401.8,1147.8 1403.5,1148.8 1405.2,1149.8 1406.8,1150.8 1408.5,1151.7 1410.2,1152.5 1411.9,1153.4 1413.6,1154.2 1415.2,1155.0 1416.9,1155.8 1418.6,1156.6 1420.3,1157.3 1422.0,1158.1 1423.7,1158.9 1425.3,1159.7 1427.0,1160.6 1428.7,1161.4 1430.4,1162.3 1432.1,1163.2 1433.8,1164.2 1435.4,1165.1 1437.1,1166.1 1438.8,1167.1 1440.5,1168.1 1442.2,1169.1 1443.9,1170.1 1445.5,1171.1 1447.2,1172.1 1448.9,1173.1 1450.6,1174.1 1452.3,1175.2 1454.0,1176.2 1455.6,1177.3 1457.3,1178.3 1459.0,1179.4 1460.7,1180.5 1462.4,1181.6 1464.1,1182.8 1465.7,1184.0 1467.4,1185.3 1469.1,1186.5 1470.8,1187.7 1472.5,1188.9 1474.2,1190.0 1475.8,1191.1 1477.5,1192.1 1479.2,1193.0 1480.9,1193.9 1482.6,1194.7 1484.3,1195.6 1485.9,1196.4 1487.6,1197.2 1489.3,1198.0 1491.0,1198.8 1492.7,1199.6 1494.3,1200.4 1496.0,1201.2 1497.7,1202.0 1499.4,1202.7 1501.1,1203.5 1502.8,1204.2 1504.4,1205.0 1506.1,1205.7 1507.8,1206.5 1509.5,1207.2 1511.2,1207.9 1512.9,1208.6 1514.5,1209.3 1516.2,1210.0 1517.9,1210.7 1519.6,1211.4 1521.3,1212.1 1523.0,1212.7 1524.6,1213.4 1526.3,1214.0 1528.0,1214.6 1529.7,1215.3 1531.4,1215.9 1533.1,1216.5 1534.7,1217.1 1536.4,1217.6 1538.1,1218.2 1539.8,1218.8 1541.5,1219.3 1543.2,1219.8 1544.8,1220.4 1546.5,1220.9 1548.2,1221.4 1549.9,1221.9 1551.6,1222.3 1553.3,1222.8 1554.9,1223.3 1556.6,1223.7 1558.3,1224.1 1560.0,1224.5 1561.7,1225.0 1563.4,1225.3 1565.0,1225.7 1566.7,1226.1 1568.4,1226.4 1570.1,1226.8 1571.8,1227.1 1573.5,1227.4 1575.1,1227.8 1576.8,1228.1 1578.5,1228.4 1580.2,1228.8 1581.9,1229.1 1583.5,1229.4 1585.2,1229.7 1586.9,1230.1 1588.6,1230.4 1590.3,1230.7 1592.0,1231.0 1593.6,1231.3 1594.5,1231.4 1598.7,1232.2 1602.9,1232.8 1607.1,1233.5 1611.3,1234.0 1615.5,1234.6 1619.7,1235.1 1623.9,1235.5 1628.1,1235.8 1632.4,1236.1 1636.6,1236.3 1640.8,1236.4 1645.0,1236.5 1649.2,1236.4 1653.4,1236.3 1657.6,1236.0 1661.8,1235.7 1666.0,1235.1 1670.2,1234.3 1674.4,1233.3 1678.6,1232.0 1682.8,1230.7 1687.1,1229.2 1691.3,1227.6 1695.5,1226.0 1699.7,1224.4 1703.9,1222.7 1708.1,1220.9 1712.3,1219.0 1716.5,1217.0 1720.7,1214.9 1724.9,1212.8 1729.1,1210.8 1733.3,1208.8 1737.5,1206.9 1741.8,1204.9 1746.0,1202.9 1750.2,1200.8 1754.4,1198.8 1758.6,1196.9 1762.8,1195.1 1767.0,1193.5 1771.2,1192.0 1775.4,1190.8 1779.6,1189.6 1783.8,1188.5 1788.0,1187.5 1792.2,1186.7 1796.4,1186.1 1800.7,1185.8 1804.9,1185.8 1809.1,1186.0 1813.3,1186.5 1817.5,1187.1 1821.7,1187.8 1825.9,1188.6 1830.1,1189.4 1834.3,1190.3 1838.5,1191.2 1842.7,1192.1 1846.9,1193.1 1851.1,1194.2 1855.4,1195.2 1859.6,1196.3 1863.8,1197.4 1868.0,1198.6 1872.2,1199.7 1876.4,1200.8 1880.6,1201.9 1884.8,1203.0 1889.0,1204.0 1893.2,1205.1 1897.4,1206.1 1901.6,1207.1 1905.8,1208.2 1910.0,1209.2 1914.3,1210.2 1918.5,1211.2 1922.7,1212.3 1926.9,1213.3 1931.1,1214.3 1935.3,1215.3 1939.5,1216.4 1943.7,1217.4 1947.9,1218.4 1952.1,1219.5 1956.3,1220.6 1960.5,1221.6 1964.7,1222.7 1969.0,1223.8 1973.2,1224.9 1977.4,1226.0 1981.6,1227.2 1985.8,1228.3 1990.0,1229.5 1994.2,1230.7 1998.4,1231.9 2002.6,1233.2 2006.8,1234.4 2011.0,1235.7 2015.2,1236.9 2019.4,1238.2 2023.7,1239.5 2027.9,1240.8 2032.1,1242.1 2036.3,1243.4 2040.5,1244.7 2044.7,1246.0 2048.9,1247.3 2053.1,1248.5 2057.3,1249.8 2061.5,1251.0 2065.7,1252.3 2069.9,1253.5 2074.1,1254.6 2078.3,1255.8 2082.6,1257.0 2086.8,1258.1 2091.0,1259.3 2095.2,1260.4 2099.4,1261.6 2103.6,1262.7 2107.8,1263.8 2112.0,1264.9 2116.2,1266.0 2120.4,1267.1 2124.6,1268.2 2128.8,1269.3 2133.0,1270.4 2137.3,1271.5 2141.5,1272.5 2145.7,1273.6 2149.9,1274.6 2154.1,1275.7 2158.3,1276.7 2162.5,1277.7" stroke="#26168c"/>
<path d="M1321.0,928.8 1322.7,959.0 1324.4,985.3 1326.0,1001.3 1327.7,1009.6 1329.4,1017.4 1331.1,1024.7 1332.8,1031.5 1334.5,1037.9 1336.1,1043.9 1337.8,1049.5 1339.5,1054.7 1341.2,1059.6 1342.9,1064.2 1344.6,1068.8 1346.2,1073.6 1347.9,1078.3 1349.6,1082.9 1351.3,1087.2 1353.0,1091.2 1354.7,1094.8 1356.3,1097.8 1358.0,1100.5 1359.7,1103.2 1361.4,1105.7 1363.1,1108.2 1364.8,1110.7 1366.4,1113.0 1368.1,1115.2 1369.8,1117.3 1371.5,1119.3 1373.2,1121.2 1374.9,1123.0 1376.5,1124.6 1378.2,1126.2 1379.9,1127.7 1381.6,1129.2 1383.3,1130.7 1385.0,1132.2 1386.6,1133.7 1388.3,1135.1 1390.0,1136.6 1391.7,1137.9 1393.4,1139.3 1395.1,1140.6 1396.7,1141.8 1398.4,1143.0 1400.1,1144.2 1401.8,1145.3 1403.5,1146.3 1405.2,1147.3 1406.8,1148.3 1408.5,1149.2 1410.2,1150.0 1411.9,1150.9 1413.6,1151.7 1415.2,1152.5 1416.9,1153.3 1418.6,1154.1 1420.3,1154.9 1422.0,1155.6 1423.7,1156.4 1425.3,1157.2 1427.0,1158.1 1428.7,1158.9 1430.4,1159.8 1432.1,1160.7 1433.8,1161.7 1435.4,1162.6 1437.1,1163.6 1438.8,1164.6 1440.5,1165.6 1442.2,1166.6 1443.9,1167.6 1445.5,1168.6 1447.2,1169.6 1448.9,1170.6 1450.6,1171.6 1452.3,1172.7 1454.0,1173.7 1455.6,1174.8 1457.3,1175.8 1459.0,1176.9 1460.7,1178.0 1462.4,1179.1 1464.1,1180.3 1465.7,1181.5 1467.4,1182.8 1469.1,1184.0 1470.8,1185.2 1472.5,1186.4 1474.2,1187.5 1475.8,1188.6 1477.5,1189.6 1479.2,1190.6 1480.9,1191.4 1482.6,1192.2 1484.3,1193.1 1485.9,1193.9 1487.6,1194.7 1489.3,1195.5 1491.0,1196.3 1492.7,1197.1 1494.3,1197.9 1496.0,1198.7 1497.7,1199.5 1499.4,1200.2 1501.1,1201.0 1502.8,1201.8 1504.4,1202.5 1506.1,1203.2 1507.8,1204.0 1509.5,1204.7 1511.2,1205.4 1512.9,1206.1 1514.5,1206.8 1516.2,1207.5 1517.9,1208.2 1519.6,1208.9 1521.3,1209.6 1523.0,1210.2 1524.6,1210.9 1526.3,1211.5 1528.0,1212.1 1529.7,1212.8 1531.4,1213.4 1533.1,1214.0 1534.7,1214.6 1536.4,1215.1 1538.1,1215.7 1539.8,1216.3 1541.5,1216.8 1543.2,1217.3 1544.8,1217.9 1546.5,1218.4 1548.2,1218.9 1549.9,1219.4 1551.6,1219.9 1553.3,1220.3 1554.9,1220.8 1556.6,1221.2 1558.3,1221.6 1560.0,1222.1 1561.7,1222.5 1563.4,1222.8 1565.0,1223.2 1566.7,1223.6 1568.4,1223.9 1570.1,1224.3 1571.8,1224.6 1573.5,1225.0 1575.1,1225.3 1576.8,1225.6 1578.5,1226.0 1580.2,1226.3 1581.9,1226.6 1583.5,1226.9 1585.2,1227.3 1586.9,1227.6 1588.6,1227.9 1590.3,1228.2 1592.0,1228.5 1593.6,1228.8 1594.5,1228.9 1598.7,1229.7 1602.9,1230.3 1607.1,1231.0 1611.3,1231.6 1615.5,1232.1 1619.7,1232.6 1623.9,1233.0 1628.1,1233.3 1632.4,1233.6 1636.6,1233.8 1640.8,1233.9 1645.0,1234.0 1649.2,1233.9 1653.4,1233.8 1657.6,1233.6 1661.8,1233.2 1666.0,1232.6 1670.2,1231.8 1674.4,1230.8 1678.6,1229.5 1682.8,1228.2 1687.1,1226.7 1691.3,1225.1 1695.5,1223.5 1699.7,1221.9 1703.9,1220.2 1708.1,1218.4 1712.3,1216.4 1716.5,1214.4 1720.7,1212.3 1724.9,1210.2 1729.1,1208.2 1733.3,1206.3 1737.5,1204.5 1741.8,1202.7 1746.0,1200.9 1750.2,1199.2 1754.4,1197.4 1758.6,1195.8 1762.8,1194.2 1767.0,1192.7 1771.2,1191.4 1775.4,1190.1 1779.6,1188.9 1783.8,1187.7 1788.0,1186.6 1792.2,1185.6 1796.4,1184.9 1800.7,1184.5 1804.9,1184.5 1809.1,1184.9 1813.3,1185.6 1817.5,1186.6 1821.7,1187.8 1825.9,1189.1 1830.1,1190.5 1834.3,1191.9 1838.5,1193.3 1842.7,1194.7 1846.9,1196.1 1851.1,1197.6 1855.4,1199.1 1859.6,1200.7 1863.8,1202.3 1868.0,1204.0 1872.2,1205.6 1876.4,1207.4 1880.6,1209.1 1884.8,1210.9 1889.0,1212.7 1893.2,1214.5 1897.4,1216.4 1901.6,1218.3 1905.8,1220.2 1910.0,1222.2 1914.3,1224.1 1918.5,1226.1 1922.7,1228.1 1926.9,1230.2 1931.1,1232.2 1935.3,1234.3 1939.5,1236.3 1943.7,1238.4 1947.9,1240.5 1952.1,1242.5 1956.3,1244.6 1960.5,1246.7 1964.7,1248.7 1969.0,1250.8 1973.2,1252.8 1977.4,1254.8 1981.6,1256.8 1985.8,1258.8 1990.0,1260.9 1994.2,1262.9 1998.4,1265.0 2002.6,1267.1 2006.8,1269.2 2011.0,1271.2 2015.2,1273.3 2019.4,1275.4 2023.7,1277.5 2027.9,1279.6 2032.1,1281.6 2036.3,1283.7 2040.5,1285.7 2044.7,1287.7 2048.9,1289.7 2053.1,1291.7 2057.3,1293.6 2061.5,1295.5 2065.7,1297.3 2069.9,1299.1 2074.1,1300.9 2078.3,1302.6 2082.6,1304.3 2086.8,1306.0 2091.0,1307.7 2095.2,1309.3 2099.4,1311.0 2103.6,1312.6 2107.8,1314.2 2112.0,1315.7 2116.2,1317.3 2120.4,1318.8 2124.6,1320.3 2128.8,1321.7 2133.0,1323.2 2137.3,1324.6 2141.5,1325.9 2145.7,1327.3 2149.9,1328.6 2154.1,1329.8 2158.3,1331.0 2162.5,1332.2" stroke="#7c22e2"/>
<path d="M1321.0,940.0 1322.7,975.9 1324.4,1007.4 1326.0,1027.3 1327.7,1038.8 1329.4,1049.3 1331.1,1058.7 1332.8,1066.6 1334.5,1072.8 1336.1,1077.1 1337.8,1081.0 1339.5,1084.9 1341.2,1088.8 1342.9,1092.7 1344.6,1096.4 1346.2,1100.1 1347.9,1103.5 1349.6,1106.8 1351.3,1109.8 1353.0,1112.5 1354.7,1114.9 1356.3,1117.0 1358.0,1118.9 1359.7,1120.8 1361.4,1122.7 1363.1,1124.5 1364.8,1126.3 1366.4,1128.1 1368.1,1129.8 1369.8,1131.6 1371.5,1133.3 1373.2,1134.9 1374.9,1136.5 1376.5,1138.1 1378.2,1139.6 1379.9,1141.1 1381.6,1142.5 1383.3,1143.9 1385.0,1145.3 1386.6,1146.6 1388.3,1148.0 1390.0,1149.3 1391.7,1150.6 1393.4,1152.0 1395.1,1153.3 1396.7,1154.5 1398.4,1155.8 1400.1,1157.1 1401.8,1158.3 1403.5,1159.5 1405.2,1160.7 1406.8,1161.9 1408.5,1163.0 1410.2,1164.2 1411.9,1165.3 1413.6,1166.4 1415.2,1167.5 1416.9,1168.6 1418.6,1169.7 1420.3,1170.8 1422.0,1171.9 1423.7,1172.9 1425.3,1174.0 1427.0,1175.0 1428.7,1176.0 1430.4,1177.0 1432.1,1177.9 1433.8,1178.9 1435.4,1179.8 1437.1,1180.6 1438.8,1181.4 1440.5,1182.2 1442.2,1183.1 1443.9,1183.9 1445.5,1184.7 1447.2,1185.5 1448.9,1186.2 1450.6,1187.0 1452.3,1187.7 1454.0,1188.5 1455.6,1189.1 1457.3,1189.8 1459.0,1190.4 1460.7,1190.9 1462.4,1191.4 1464.1,1191.8 1465.7,1192.2 1467.4,1192.5 1469.1,1192.9 1470.8,1193.2 1472.5,1193.4 1474.2,1193.7 1475.8,1193.9 1477.5,1194.2 1479.2,1194.4 1480.9,1194.7 1482.6,1194.9 1484.3,1195.1 1485.9,1195.3 1487.6,1195.5 1489.3,1195.7 1491.0,1195.9 1492.7,1196.1 1494.3,1196.3 1496.0,1196.4 1497.7,1196.6 1499.4,1196.7 1501.1,1196.8 1502.8,1197.0 1504.4,1197.1 1506.1,1197.3 1507.8,1197.5 1509.5,1197.7 1511.2,1198.0 1512.9,1198.3 1514.5,1198.7 1516.2,1199.1 1517.9,1199.5 1519.6,1200.1 1521.3,1200.6 1523.0,1201.2 1524.6,1201.9 1526.3,1202.5 1528.0,1203.2 1529.7,1203.9 1531.4,1204.7 1533.1,1205.5 1534.7,1206.2 1536.4,1207.0 1538.1,1207.8 1539.8,1208.6 1541.5,1209.4 1543.2,1210.2 1544.8,1211.0 1546.5,1211.7 1548.2,1212.5 1549.9,1213.2 1551.6,1213.9 1553.3,1214.7 1554.9,1215.4 1556.6,1216.2 1558.3,1217.0 1560.0,1217.8 1561.7,1218.7 1563.4,1219.5 1565.0,1220.4 1566.7,1221.2 1568.4,1222.1 1570.1,1222.9 1571.8,1223.8 1573.5,1224.7 1575.1,1225.5 1576.8,1226.4 1578.5,1227.2 1580.2,1228.0 1581.9,1228.9 1583.5,1229.7 1585.2,1230.5 1586.9,1231.3 1588.6,1232.0 1590.3,1232.8 1592.0,1233.5 1593.6,1234.2 1594.5,1234.5 1598.7,1236.1 1602.9,1237.4 1607.1,1238.6 1611.3,1239.6 1615.5,1240.6 1619.7,1241.4 1623.9,1242.2 1628.1,1242.8 1632.4,1243.4 1636.6,1243.8 1640.8,1244.1 1645.0,1244.3 1649.2,1244.3 1653.4,1244.3 1657.6,1244.0 1661.8,1243.7 1666.0,1243.1 1670.2,1242.4 1674.4,1241.6 1678.6,1240.6 1682.8,1239.5 1687.1,1238.3 1691.3,1237.0 1695.5,1235.7 1699.7,1234.4 1703.9,1233.0 1708.1,1231.6 1712.3,1230.0 1716.5,1228.3 1720.7,1226.6 1724.9,1224.9 1729.1,1223.2 1733.3,1221.5 1737.5,1219.7 1741.8,1217.9 1746.0,1216.0 1750.2,1214.1 1754.4,1212.2 1758.6,1210.3 1762.8,1208.5 1767.0,1206.8 1771.2,1205.2 1775.4,1203.8 1779.6,1202.5 1783.8,1201.3 1788.0,1200.3 1792.2,1199.6 1796.4,1199.2 1800.7,1199.1 1804.9,1199.5 1809.1,1200.4 1813.3,1201.9 1817.5,1203.8 1821.7,1206.0 1825.9,1208.4 1830.1,1210.9 1834.3,1213.3 1838.5,1215.6 1842.7,1217.8 1846.9,1220.1 1851.1,1222.4 1855.4,1224.8 1859.6,1227.2 1863.8,1229.6 1868.0,1232.0 1872.2,1234.5 1876.4,1236.9 1880.6,1239.4 1884.8,1241.9 1889.0,1244.4 1893.2,1247.0 1897.4,1249.6 1901.6,1252.3 1905.8,1255.0 1910.0,1257.7 1914.3,1260.5 1918.5,1263.3 1922.7,1266.0 1926.9,1268.8 1931.1,1271.6 1935.3,1274.4 1939.5,1277.2 1943.7,1279.9 1947.9,1282.6 1952.1,1285.2 1956.3,1287.9 1960.5,1290.4 1964.7,1292.9 1969.0,1295.4 1973.2,1297.7 1977.4,1300.0 1981.6,1302.2 1985.8,1304.4 1990.0,1306.5 1994.2,1308.6 1998.4,1310.7 2002.6,1312.7 2006.8,1314.8 2011.0,1316.8 2015.2,1318.7 2019.4,1320.7 2023.7,1322.6 2027.9,1324.4 2032.1,1326.2 2036.3,1328.0 2040.5,1329.7 2044.7,1331.4 2048.9,1333.1 2053.1,1334.7 2057.3,1336.2 2061.5,1337.7 2065.7,1339.2 2069.9,1340.6 2074.1,1341.9 2078.3,1343.2 2082.6,1344.5 2086.8,1345.8 2091.0,1347.1 2095.2,1348.4 2099.4,1349.7 2103.6,1350.9 2107.8,1352.1 2112.0,1353.3 2116.2,1354.5 2120.4,1355.7 2124.6,1356.8 2128.8,1357.8 2133.0,1358.8 2137.3,1359.8 2141.5,1360.7 2145.7,1361.5 2149.9,1362.3 2154.1,1363.0 2158.3,1363.6 2162.5,1364.2" stroke="#4a78a6"/>
<path d="M1321.0,940.0 1322.7,973.0 1324.4,1002.1 1326.0,1021.1 1327.7,1032.8 1329.4,1043.7 1331.1,1053.4 1332.8,1061.6 1334.5,1068.0 1336.1,1072.5 1337.8,1076.6 1339.5,1080.7 1341.2,1084.7 1342.9,1088.7 1344.6,1092.6 1346.2,1096.4 1347.9,1099.9 1349.6,1103.3 1351.3,1106.3 1353.0,1109.1 1354.7,1111.6 1356.3,1113.6 1358.0,1115.6 1359.7,1117.4 1361.4,1119.3 1363.1,1121.1 1364.8,1122.9 1366.4,1124.7 1368.1,1126.5 1369.8,1128.2 1371.5,1129.9 1373.2,1131.5 1374.9,1133.1 1376.5,1134.7 1378.2,1136.2 1379.9,1137.7 1381.6,1139.1 1383.3,1140.5 1385.0,1141.9 1386.6,1143.2 1388.3,1144.5 1390.0,1145.9 1391.7,1147.2 1393.4,1148.5 1395.1,1149.8 1396.7,1151.1 1398.4,1152.3 1400.1,1153.6 1401.8,1154.8 1403.5,1156.0 1405.2,1157.2 1406.8,1158.4 1408.5,1159.6 1410.2,1160.7 1411.9,1161.9 1413.6,1163.0 1415.2,1164.1 1416.9,1165.2 1418.6,1166.4 1420.3,1167.5 1422.0,1168.6 1423.7,1169.7 1425.3,1170.7 1427.0,1171.8 1428.7,1172.8 1430.4,1173.8 1432.1,1174.8 1433.8,1175.7 1435.4,1176.7 1437.1,1177.5 1438.8,1178.4 1440.5,1179.2 1442.2,1180.0 1443.9,1180.8 1445.5,1181.6 1447.2,1182.4 1448.9,1183.2 1450.6,1183.9 1452.3,1184.7 1454.0,1185.4 1455.6,1186.1 1457.3,1186.7 1459.0,1187.3 1460.7,1187.9 1462.4,1188.4 1464.1,1188.9 1465.7,1189.4 1467.4,1189.8 1469.1,1190.2 1470.8,1190.6 1472.5,1191.0 1474.2,1191.3 1475.8,1191.7 1477.5,1192.0 1479.2,1192.3 1480.9,1192.6 1482.6,1192.9 1484.3,1193.2 1485.9,1193.4 1487.6,1193.6 1489.3,1193.9 1491.0,1194.0 1492.7,1194.2 1494.3,1194.3 1496.0,1194.3 1497.7,1194.4 1499.4,1194.4 1501.1,1194.4 1502.8,1194.5 1504.4,1194.5 1506.1,1194.6 1507.8,1194.7 1509.5,1194.8 1511.2,1194.9 1512.9,1195.1 1514.5,1195.4 1516.2,1195.7 1517.9,1196.1 1519.6,1196.6 1521.3,1197.1 1523.0,1197.6 1524.6,1198.2 1526.3,1198.8 1528.0,1199.4 1529.7,1200.1 1531.4,1200.8 1533.1,1201.6 1534.7,1202.3 1536.4,1203.1 1538.1,1203.9 1539.8,1204.7 1541.5,1205.6 1543.2,1206.4 1544.8,1207.2 1546.5,1208.1 1548.2,1208.9 1549.9,1209.7 1551.6,1210.6 1553.3,1211.5 1554.9,1212.4 1556.6,1213.4 1558.3,1214.5 1560.0,1215.6 1561.7,1216.7 1563.4,1217.8 1565.0,1219.0 1566.7,1220.2 1568.4,1221.5 1570.1,1222.7 1571.8,1224.0 1573.5,1225.2 1575.1,1226.5 1576.8,1227.8 1578.5,1229.0 1580.2,1230.3 1581.9,1231.5 1583.5,1232.7 1585.2,1233.9 1586.9,1235.1 1588.6,1236.2 1590.3,1237.3 1592.0,1238.4 1593.6,1239.4 1594.5,1239.9 1598.7,1242.2 1602.9,1244.1 1607.1,1245.6 1611.3,1246.9 1615.5,1248.2 1619.7,1249.3 1623.9,1250.4 1628.1,1251.2 1632.4,1252.0 1636.6,1252.6 1640.8,1253.0 1645.0,1253.3 1649.2,1253.4 1653.4,1253.3 1657.6,1252.9 1661.8,1252.4 1666.0,1251.6 1670.2,1250.8 1674.4,1249.8 1678.6,1248.6 1682.8,1247.4 1687.1,1246.1 1691.3,1244.7 1695.5,1243.3 1699.7,1241.8 1703.9,1240.3 1708.1,1238.8 1712.3,1237.3 1716.5,1235.7 1720.7,1234.1 1724.9,1232.3 1729.1,1230.4 1733.3,1228.4 1737.5,1226.4 1741.8,1224.5 1746.0,1222.8 1750.2,1221.3 1754.4,1220.1 1758.6,1219.2 1762.8,1218.6 1767.0,1218.4 1771.2,1218.4 1775.4,1219.0 1779.6,1220.4 1783.8,1222.2 1788.0,1224.2 1792.2,1226.3 1796.4,1228.6 1800.7,1231.2 1804.9,1234.0 1809.1,1237.1 1813.3,1240.4 1817.5,1243.9 1821.7,1247.5 1825.9,1251.3 1830.1,1255.4 1834.3,1260.1 1838.5,1265.2 1842.7,1270.6 1846.9,1276.0 1851.1,1281.5 1855.4,1286.7 1859.6,1291.6 1863.8,1296.0 1868.0,1300.3 1872.2,1304.6 1876.4,1308.9 1880.6,1313.0 1884.8,1317.0 1889.0,1320.9 1893.2,1324.7 1897.4,1328.2 1901.6,1331.5 1905.8,1334.5 1910.0,1337.3 1914.3,1339.9 1918.5,1342.5 1922.7,1345.1 1926.9,1347.6 1931.1,1350.1 1935.3,1352.5 1939.5,1354.8 1943.7,1357.1 1947.9,1359.2 1952.1,1361.3 1956.3,1363.3 1960.5,1365.2 1964.7,1367.0 1969.0,1368.6 1973.2,1370.1 1977.4,1371.5 1981.6,1372.7 1985.8,1373.9 1990.0,1375.1 1994.2,1376.3 1998.4,1377.4 2002.6,1378.6 2006.8,1379.7 2011.0,1380.8 2015.2,1381.9 2019.4,1382.9 2023.7,1384.0 2027.9,1385.0 2032.1,1386.0 2036.3,1386.9 2040.5,1387.8 2044.7,1388.7 2048.9,1389.5 2053.1,1390.3 2057.3,1391.1 2061.5,1391.8 2065.7,1392.5 2069.9,1393.1 2074.1,1393.6 2078.3,1394.1 2082.6,1394.7 2086.8,1395.2 2091.0,1395.7 2095.2,1396.2 2099.4,1396.7 2103.6,1397.2 2107.8,1397.7 2112.0,1398.2 2116.2,1398.7 2120.4,1399.2 2124.6,1399.6 2128.8,1400.0 2133.0,1400.4 2137.3,1400.7 2141.5,1401.0 2145.7,1401.3 2149.9,1401.6 2154.1,1401.8 2158.3,1402.0 2162.5,1402.1" stroke="#3b9b9c"/>
<path d="M1321.0,927.5 1322.7,992.6 1324.4,1012.7 1326.0,1028.0 1327.7,1041.3 1329.4,1052.2 1331.1,1060.3 1332.8,1066.3 1334.5,1072.3 1336.1,1078.2 1337.8,1083.9 1339.5,1089.0 1341.2,1093.5 1342.9,1097.0 1344.6,1100.3 1346.2,1103.5 1347.9,1106.8 1349.6,1109.9 1351.3,1113.0 1353.0,1116.0 1354.7,1118.9 1356.3,1121.6 1358.0,1124.2 1359.7,1126.5 1361.4,1128.6 1363.1,1130.5 1364.8,1132.2 1366.4,1133.8 1368.1,1135.4 1369.8,1136.9 1371.5,1138.4 1373.2,1139.9 1374.9,1141.3 1376.5,1142.7 1378.2,1144.1 1379.9,1145.4 1381.6,1146.7 1383.3,1148.1 1385.0,1149.4 1386.6,1150.7 1388.3,1152.0 1390.0,1153.3 1391.7,1154.6 1393.4,1156.0 1395.1,1157.3 1396.7,1158.5 1398.4,1159.8 1400.1,1161.1 1401.8,1162.3 1403.5,1163.6 1405.2,1164.8 1406.8,1166.0 1408.5,1167.1 1410.2,1168.3 1411.9,1169.4 1413.6,1170.4 1415.2,1171.4 1416.9,1172.3 1418.6,1173.2 1420.3,1174.1 1422.0,1174.9 1423.7,1175.7 1425.3,1176.5 1427.0,1177.3 1428.7,1178.1 1430.4,1179.0 1432.1,1179.9 1433.8,1180.9 1435.4,1181.9 1437.1,1183.0 1438.8,1184.2 1440.5,1185.6 1442.2,1187.1 1443.9,1188.7 1445.5,1190.4 1447.2,1192.1 1448.9,1194.0 1450.6,1195.8 1452.3,1197.6 1454.0,1199.4 1455.6,1201.3 1457.3,1203.3 1459.0,1205.3 1460.7,1207.3 1462.4,1209.2 1464.1,1211.0 1465.7,1212.8 1467.4,1214.4 1469.1,1216.0 1470.8,1217.6 1472.5,1219.2 1474.2,1220.8 1475.8,1222.4 1477.5,1224.0 1479.2,1225.5 1480.9,1227.1 1482.6,1228.6 1484.3,1230.1 1485.9,1231.6 1487.6,1233.1 1489.3,1234.5 1491.0,1235.9 1492.7,1237.3 1494.3,1238.7 1496.0,1240.0 1497.7,1241.3 1499.4,1242.5 1501.1,1243.7 1502.8,1244.9 1504.4,1246.0 1506.1,1247.0 1507.8,1248.0 1509.5,1249.0 1511.2,1249.9 1512.9,1250.7 1514.5,1251.5 1516.2,1252.4 1517.9,1253.2 1519.6,1254.0 1521.3,1254.8 1523.0,1255.6 1524.6,1256.4 1526.3,1257.2 1528.0,1257.9 1529.7,1258.7 1531.4,1259.4 1533.1,1260.2 1534.7,1260.9 1536.4,1261.6 1538.1,1262.3 1539.8,1263.0 1541.5,1263.6 1543.2,1264.3 1544.8,1264.9 1546.5,1265.5 1548.2,1266.1 1549.9,1266.6 1551.6,1267.1 1553.3,1267.7 1554.9,1268.1 1556.6,1268.6 1558.3,1269.0 1560.0,1269.4 1561.7,1269.8 1563.4,1270.1 1565.0,1270.4 1566.7,1270.7 1568.4,1270.9 1570.1,1271.1 1571.8,1271.3 1573.5,1271.5 1575.1,1271.7 1576.8,1272.0 1578.5,1272.2 1580.2,1272.4 1581.9,1272.6 1583.5,1272.8 1585.2,1272.9 1586.9,1273.1 1588.6,1273.3 1590.3,1273.5 1592.0,1273.7 1593.6,1273.9 1594.5,1274.0 1598.7,1274.4 1602.9,1274.9 1607.1,1275.3 1611.3,1275.7 1615.5,1276.1 1619.7,1276.5 1623.9,1276.9 1628.1,1277.2 1632.4,1277.6 1636.6,1277.9 1640.8,1278.3 1645.0,1278.6 1649.2,1278.9 1653.4,1279.3 1657.6,1279.7 1661.8,1280.1 1666.0,1280.5 1670.2,1280.9 1674.4,1281.2 1678.6,1281.5 1682.8,1281.8 1687.1,1282.0 1691.3,1282.1 1695.5,1282.1 1699.7,1282.1 1703.9,1281.9 1708.1,1281.7 1712.3,1281.3 1716.5,1280.8 1720.7,1280.3 1724.9,1279.8 1729.1,1279.2 1733.3,1278.7 1737.5,1278.1 1741.8,1277.6 1746.0,1277.1 1750.2,1276.8 1754.4,1276.5 1758.6,1276.2 1762.8,1276.0 1767.0,1275.7 1771.2,1275.5 1775.4,1275.4 1779.6,1275.4 1783.8,1275.4 1788.0,1275.5 1792.2,1275.6 1796.4,1275.8 1800.7,1275.9 1804.9,1276.1 1809.1,1276.3 1813.3,1276.5 1817.5,1276.7 1821.7,1277.0 1825.9,1277.2 1830.1,1277.5 1834.3,1277.7 1838.5,1278.0 1842.7,1278.3 1846.9,1278.6 1851.1,1278.9 1855.4,1279.2 1859.6,1279.5 1863.8,1279.8 1868.0,1280.1 1872.2,1280.4 1876.4,1280.7 1880.6,1281.0 1884.8,1281.2 1889.0,1281.5 1893.2,1281.8 1897.4,1282.1 1901.6,1282.4 1905.8,1282.8 1910.0,1283.1 1914.3,1283.4 1918.5,1283.8 1922.7,1284.1 1926.9,1284.5 1931.1,1284.8 1935.3,1285.2 1939.5,1285.6 1943.7,1285.9 1947.9,1286.3 1952.1,1286.7 1956.3,1287.0 1960.5,1287.4 1964.7,1287.7 1969.0,1288.1 1973.2,1288.4 1977.4,1288.8 1981.6,1289.1 1985.8,1289.4 1990.0,1289.7 1994.2,1290.0 1998.4,1290.3 2002.6,1290.6 2006.8,1290.9 2011.0,1291.1 2015.2,1291.4 2019.4,1291.6 2023.7,1291.8 2027.9,1292.0 2032.1,1292.2 2036.3,1292.3 2040.5,1292.5 2044.7,1292.6 2048.9,1292.8 2053.1,1292.9 2057.3,1293.0 2061.5,1293.1 2065.7,1293.2 2069.9,1293.3 2074.1,1293.3 2078.3,1293.4 2082.6,1293.5 2086.8,1293.5 2091.0,1293.5 2095.2,1293.6 2099.4,1293.6 2103.6,1293.6 2107.8,1293.6 2112.0,1293.6 2116.2,1293.6 2120.4,1293.6 2124.6,1293.5 2128.8,1293.5 2133.0,1293.5 2137.3,1293.4 2141.5,1293.4 2145.7,1293.3 2149.9,1293.3 2154.1,1293.2 2158.3,1293.1 2162.5,1293.0" stroke="#2010e0"/>
</g>
<rect x="187.0" y="159.0" width="844.0" height="500.0" fill="none" stroke="#0c0c0c" stroke-width="3.6"/>
<path d="M187.0,659.0 V670.0 M398.0,659.0 V670.0 M609.0,659.0 V670.0 M820.0,659.0 V670.0 M1031.0,659.0 V670.0 M292.5,659.0 V665.0 M503.5,659.0 V665.0 M714.5,659.0 V665.0 M925.5,659.0 V665.0 M187.0,659.0 H174.0 M187.0,596.5 H180.0 M187.0,534.0 H174.0 M187.0,471.5 H180.0 M187.0,409.0 H174.0 M187.0,346.5 H180.0 M187.0,284.0 H174.0 M187.0,221.5 H180.0 M187.0,159.0 H174.0" stroke="#0c0c0c" stroke-width="3" fill="none"/>
<text transform="translate(107.00,668.66) scale(1.1673,1)" font-size="33.90" font-weight="normal" fill="#111">0.0</text>
<text transform="translate(107.00,543.66) scale(1.1673,1)" font-size="33.90" font-weight="normal" fill="#111">0.2</text>
<text transform="translate(107.00,418.66) scale(1.1673,1)" font-size="33.90" font-weight="normal" fill="#111">0.4</text>
<text transform="translate(107.00,293.66) scale(1.1673,1)" font-size="33.90" font-weight="normal" fill="#111">0.6</text>
<text transform="translate(107.00,168.66) scale(1.1673,1)" font-size="33.90" font-weight="normal" fill="#111">0.8</text>
<text transform="translate(153.75,699.68) scale(1.2272,1)" font-size="32.49" font-weight="normal" fill="#111">300</text>
<text transform="translate(364.75,699.68) scale(1.2272,1)" font-size="32.49" font-weight="normal" fill="#111">400</text>
<text transform="translate(575.75,699.68) scale(1.2272,1)" font-size="32.49" font-weight="normal" fill="#111">500</text>
<text transform="translate(786.75,699.68) scale(1.2272,1)" font-size="32.49" font-weight="normal" fill="#111">600</text>
<text transform="translate(997.75,699.68) scale(1.2272,1)" font-size="32.49" font-weight="normal" fill="#111">700</text>
<rect x="1302.0" y="158.5" width="846.0" height="501.5" fill="none" stroke="#0c0c0c" stroke-width="3.6"/>
<path d="M1302.0,660.0 V671.0 M1513.5,660.0 V671.0 M1725.0,660.0 V671.0 M1936.5,660.0 V671.0 M2148.0,660.0 V671.0 M1407.8,660.0 V666.0 M1619.2,660.0 V666.0 M1830.8,660.0 V666.0 M2042.2,660.0 V666.0 M1302.0,660.0 H1289.0 M1302.0,597.3 H1295.0 M1302.0,534.6 H1289.0 M1302.0,471.9 H1295.0 M1302.0,409.2 H1289.0 M1302.0,346.6 H1295.0 M1302.0,283.9 H1289.0 M1302.0,221.2 H1295.0 M1302.0,158.5 H1289.0" stroke="#0c0c0c" stroke-width="3" fill="none"/>
<text transform="translate(1222.00,669.66) scale(1.1673,1)" font-size="33.90" font-weight="normal" fill="#111">0.0</text>
<text transform="translate(1222.00,544.29) scale(1.1673,1)" font-size="33.90" font-weight="normal" fill="#111">0.2</text>
<text transform="translate(1222.00,418.91) scale(1.1673,1)" font-size="33.90" font-weight="normal" fill="#111">0.4</text>
<text transform="translate(1222.00,293.54) scale(1.1673,1)" font-size="33.90" font-weight="normal" fill="#111">0.6</text>
<text transform="translate(1222.00,168.16) scale(1.1673,1)" font-size="33.90" font-weight="normal" fill="#111">0.8</text>
<text transform="translate(1268.75,700.68) scale(1.2272,1)" font-size="32.49" font-weight="normal" fill="#111">300</text>
<text transform="translate(1480.25,700.68) scale(1.2272,1)" font-size="32.49" font-weight="normal" fill="#111">400</text>
<text transform="translate(1691.75,700.68) scale(1.2272,1)" font-size="32.49" font-weight="normal" fill="#111">500</text>
<text transform="translate(1903.25,700.68) scale(1.2272,1)" font-size="32.49" font-weight="normal" fill="#111">600</text>
<text transform="translate(2114.75,700.68) scale(1.2272,1)" font-size="32.49" font-weight="normal" fill="#111">700</text>
<rect x="184.0" y="935.0" width="842.0" height="497.5" fill="none" stroke="#0c0c0c" stroke-width="3.6"/>
<path d="M184.0,1432.5 V1443.5 M394.5,1432.5 V1443.5 M605.0,1432.5 V1443.5 M815.5,1432.5 V1443.5 M1026.0,1432.5 V1443.5 M289.2,1432.5 V1438.5 M499.8,1432.5 V1438.5 M710.2,1432.5 V1438.5 M920.8,1432.5 V1438.5 M184.0,1432.5 H171.0 M184.0,1370.3 H177.0 M184.0,1308.1 H171.0 M184.0,1245.9 H177.0 M184.0,1183.8 H171.0 M184.0,1121.6 H177.0 M184.0,1059.4 H171.0 M184.0,997.2 H177.0 M184.0,935.0 H171.0" stroke="#0c0c0c" stroke-width="3" fill="none"/>
<text transform="translate(104.00,1442.16) scale(1.1673,1)" font-size="33.90" font-weight="normal" fill="#111">0.0</text>
<text transform="translate(104.00,1317.79) scale(1.1673,1)" font-size="33.90" font-weight="normal" fill="#111">0.2</text>
<text transform="translate(104.00,1193.41) scale(1.1673,1)" font-size="33.90" font-weight="normal" fill="#111">0.4</text>
<text transform="translate(104.00,1069.04) scale(1.1673,1)" font-size="33.90" font-weight="normal" fill="#111">0.6</text>
<text transform="translate(104.00,944.66) scale(1.1673,1)" font-size="33.90" font-weight="normal" fill="#111">0.8</text>
<text transform="translate(150.75,1473.18) scale(1.2272,1)" font-size="32.49" font-weight="normal" fill="#111">300</text>
<text transform="translate(361.25,1473.18) scale(1.2272,1)" font-size="32.49" font-weight="normal" fill="#111">400</text>
<text transform="translate(571.75,1473.18) scale(1.2272,1)" font-size="32.49" font-weight="normal" fill="#111">500</text>
<text transform="translate(782.25,1473.18) scale(1.2272,1)" font-size="32.49" font-weight="normal" fill="#111">600</text>
<text transform="translate(992.75,1473.18) scale(1.2272,1)" font-size="32.49" font-weight="normal" fill="#111">700</text>
<rect x="1321.0" y="940.0" width="841.5" height="499.0" fill="none" stroke="#0c0c0c" stroke-width="3.6"/>
<path d="M1321.0,1439.0 V1450.0 M1531.4,1439.0 V1450.0 M1741.8,1439.0 V1450.0 M1952.1,1439.0 V1450.0 M2162.5,1439.0 V1450.0 M1426.2,1439.0 V1445.0 M1636.6,1439.0 V1445.0 M1846.9,1439.0 V1445.0 M2057.3,1439.0 V1445.0 M1321.0,1439.0 H1308.0 M1321.0,1376.6 H1314.0 M1321.0,1314.2 H1308.0 M1321.0,1251.9 H1314.0 M1321.0,1189.5 H1308.0 M1321.0,1127.1 H1314.0 M1321.0,1064.8 H1308.0 M1321.0,1002.4 H1314.0 M1321.0,940.0 H1308.0" stroke="#0c0c0c" stroke-width="3" fill="none"/>
<text transform="translate(1241.00,1448.66) scale(1.1673,1)" font-size="33.90" font-weight="normal" fill="#111">0.0</text>
<text transform="translate(1241.00,1323.91) scale(1.1673,1)" font-size="33.90" font-weight="normal" fill="#111">0.2</text>
<text transform="translate(1241.00,1199.16) scale(1.1673,1)" font-size="33.90" font-weight="normal" fill="#111">0.4</text>
<text transform="translate(1241.00,1074.41) scale(1.1673,1)" font-size="33.90" font-weight="normal" fill="#111">0.6</text>
<text transform="translate(1241.00,949.66) scale(1.1673,1)" font-size="33.90" font-weight="normal" fill="#111">0.8</text>
<text transform="translate(1287.75,1479.68) scale(1.2272,1)" font-size="32.49" font-weight="normal" fill="#111">300</text>
<text transform="translate(1498.12,1479.68) scale(1.2272,1)" font-size="32.49" font-weight="normal" fill="#111">400</text>
<text transform="translate(1708.50,1479.68) scale(1.2272,1)" font-size="32.49" font-weight="normal" fill="#111">500</text>
<text transform="translate(1918.88,1479.68) scale(1.2272,1)" font-size="32.49" font-weight="normal" fill="#111">600</text>
<text transform="translate(2129.25,1479.68) scale(1.2272,1)" font-size="32.49" font-weight="normal" fill="#111">700</text>
<text transform="translate(66.40,474.10) rotate(-90) scale(0.7678,1)" font-size="40.00" font-weight="normal" fill="#161616">Absorbance</text>
<text transform="translate(451.30,748.70) scale(1.2154,1)" font-size="34.30" font-weight="normal" fill="#161616">Wavelength (nm)</text>
<text transform="translate(1178.70,474.10) rotate(-90) scale(0.7652,1)" font-size="40.14" font-weight="normal" fill="#161616">Absorbance</text>
<text transform="translate(1567.30,748.50) scale(1.2573,1)" font-size="33.14" font-weight="normal" fill="#161616">Wavelength (nm)</text>
<text transform="translate(62.59,1249.60) rotate(-90) scale(0.7442,1)" font-size="41.09" font-weight="normal" fill="#161616">Absorbance</text>
<text transform="translate(447.50,1522.60) scale(1.2044,1)" font-size="34.59" font-weight="normal" fill="#161616">Wavelength (nm)</text>
<text transform="translate(1206.18,1253.40) rotate(-90) scale(0.7171,1)" font-size="42.04" font-weight="normal" fill="#161616">Absorbance</text>
<text transform="translate(1585.10,1514.50) scale(1.2057,1)" font-size="34.45" font-weight="normal" fill="#161616">Wavelength (nm)</text>
<text transform="translate(611.10,200.10) scale(1.0607,1)" font-size="32.27" font-weight="bold" fill="#111">Na-AuNPs + Na-AgNPs</text>
<text transform="translate(1739.20,206.60) scale(1.0306,1)" font-size="32.99" font-weight="bold" fill="#111">cit-AuNPs + Na-AgNPs</text>
<text transform="translate(628.50,983.30) scale(1.0851,1)" font-size="31.10" font-weight="bold" fill="#111">cit-AuNPs + cit-AgNPs</text>
<text transform="translate(1747.40,979.90) scale(1.0398,1)" font-size="32.56" font-weight="bold" fill="#111">Na-AuNPs + cit-AgNPs</text>
<text transform="translate(326.30,193.70) scale(1.1359,1)" font-size="30.08" font-weight="normal" fill="#111">343</text>
<text transform="translate(395.10,376.10) scale(1.1405,1)" font-size="30.23" font-weight="normal" fill="#b52ad6">360</text>
<text transform="translate(614.40,387.48) scale(1.0760,1)" font-size="32.20" font-weight="normal" fill="#3f9c9c">510</text>
<text transform="translate(608.70,455.51) scale(1.2026,1)" font-size="28.81" font-weight="normal" fill="#111">520</text>
<text transform="translate(1420.50,188.20) scale(1.1359,1)" font-size="30.08" font-weight="normal" fill="#111">345</text>
<text transform="translate(1493.00,375.11) scale(1.1777,1)" font-size="28.81" font-weight="normal" fill="#e07ae8">362</text>
<text transform="translate(1729.00,378.41) scale(1.1777,1)" font-size="28.81" font-weight="normal" fill="#111">512</text>
<text transform="translate(1810.50,402.21) scale(1.1491,1)" font-size="28.95" font-weight="normal" fill="#d846e4">522</text>
<text transform="translate(1731.20,489.51) scale(1.1631,1)" font-size="29.23" font-weight="normal" fill="#3434c0">514</text>
<text transform="translate(262.80,972.91) scale(1.1571,1)" font-size="29.38" font-weight="normal" fill="#111">346</text>
<text transform="translate(377.90,1151.20) scale(1.2933,1)" font-size="30.08" font-weight="normal" fill="#111">400</text>
<text transform="translate(615.30,1170.71) scale(1.1405,1)" font-size="29.23" font-weight="normal" fill="#111">514</text>
<text transform="translate(622.50,1266.91) scale(1.1452,1)" font-size="28.53" font-weight="normal" fill="#3a3ad0">522</text>
<text transform="translate(447.40,1316.60) scale(1.1405,1)" font-size="29.23" font-weight="normal" fill="#111">442</text>
<text transform="translate(1404.60,974.22) scale(1.2103,1)" font-size="27.54" font-weight="normal" fill="#111">346</text>
<text transform="translate(1530.70,1173.59) scale(1.2353,1)" font-size="31.50" font-weight="normal" fill="#111">400</text>
<text transform="translate(1788.70,1160.12) scale(1.1762,1)" font-size="28.39" font-weight="normal" fill="#111">529</text>
<text transform="translate(1775.70,1226.51) scale(1.1704,1)" font-size="28.53" font-weight="normal" fill="#111">614</text>
<text transform="translate(1584.10,1317.30) scale(1.1190,1)" font-size="28.34" font-weight="normal" fill="#111">441</text>
<text transform="translate(2299.50,554.20) scale(1.0598,1)" font-size="32.27" font-weight="bold" fill="#111">Colloidal Probe in</text>
<line x1="2237" y1="591.5" x2="2332" y2="591.5" stroke="#0a0a0a" stroke-width="8" stroke-linecap="round"/>
<text transform="translate(2359.90,597.50) scale(1.0474,1)" font-size="29.22" font-weight="bold" fill="#111">100 ppm Cr(VI) in TW</text>
<line x1="2237" y1="632.7" x2="2332" y2="632.7" stroke="#e2181e" stroke-width="8" stroke-linecap="round"/>
<text transform="translate(2359.90,643.70) scale(1.0434,1)" font-size="29.22" font-weight="bold" fill="#111">50 ppm Cr(VI) in TW</text>
<line x1="2237" y1="670.9" x2="2332" y2="670.9" stroke="#2010e0" stroke-width="8" stroke-linecap="round"/>
<text transform="translate(2359.90,684.00) scale(1.0383,1)" font-size="29.36" font-weight="bold" fill="#111">10 ppm Cr(VI) in TW</text>
<line x1="2237" y1="711.1" x2="2332" y2="711.1" stroke="#d21ee4" stroke-width="8" stroke-linecap="round"/>
<text transform="translate(2359.90,722.20) scale(1.0377,1)" font-size="29.36" font-weight="bold" fill="#111">5 ppm Cr(VI) in TW</text>
<line x1="2237" y1="749.3" x2="2332" y2="749.3" stroke="#1f7d24" stroke-width="8" stroke-linecap="round"/>
<text transform="translate(2353.90,757.40) scale(1.0387,1)" font-size="29.22" font-weight="bold" fill="#111">1 ppm Cr(VI) in TW</text>
<line x1="2237" y1="790.2" x2="2332" y2="790.2" stroke="#26168c" stroke-width="8" stroke-linecap="round"/>
<text transform="translate(2353.90,800.20) scale(1.0488,1)" font-size="29.22" font-weight="bold" fill="#111">0.5 ppm Cr(VI) in TW</text>
<line x1="2237" y1="829.4" x2="2332" y2="829.4" stroke="#7c22e2" stroke-width="8" stroke-linecap="round"/>
<text transform="translate(2353.90,839.40) scale(1.0488,1)" font-size="29.22" font-weight="bold" fill="#111">0.1 ppm Cr(VI) in TW</text>
<line x1="2237" y1="869.6" x2="2332" y2="869.6" stroke="#8a1090" stroke-width="8" stroke-linecap="round"/>
<text transform="translate(2353.90,879.70) scale(1.0360,1)" font-size="29.36" font-weight="bold" fill="#111">50 ppb Cr(VI) in TW</text>
<line x1="2237" y1="908.8" x2="2332" y2="908.8" stroke="#7a1418" stroke-width="8" stroke-linecap="round"/>
<text transform="translate(2352.80,915.90) scale(1.0921,1)" font-size="27.76" font-weight="bold" fill="#111">10 ppb Cr(VI) in TW</text>
<line x1="2237" y1="947.0" x2="2332" y2="947.0" stroke="#9a8a1c" stroke-width="8" stroke-linecap="round"/>
<text transform="translate(2351.80,956.00) scale(1.0380,1)" font-size="29.07" font-weight="bold" fill="#111">5 ppb Cr(VI) in TW</text>
<line x1="2237" y1="987.3" x2="2332" y2="987.3" stroke="#4a78a6" stroke-width="8" stroke-linecap="round"/>
<text transform="translate(2350.80,994.30) scale(1.1293,1)" font-size="26.31" font-weight="bold" fill="#111">TW</text>
<line x1="2237" y1="1026.5" x2="2332" y2="1026.5" stroke="#3b9b9c" stroke-width="8" stroke-linecap="round"/>
<text transform="translate(2350.80,1033.50) scale(1.0339,1)" font-size="26.31" font-weight="bold" fill="#111">DI</text>
</svg>
</body></html>
